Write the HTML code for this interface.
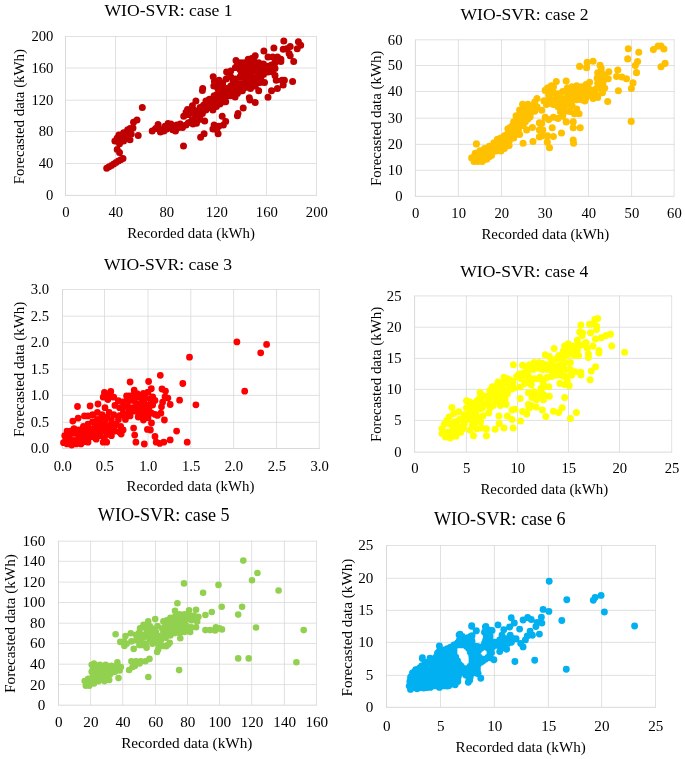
<!DOCTYPE html><html><head><meta charset="utf-8"><style>html,body{margin:0;padding:0;background:#fff;}svg{display:block;will-change:transform;}text{font-family:"Liberation Serif",serif;fill:#000;}</style></head><body>
<svg width="685" height="759" viewBox="0 0 685 759">
<path d="M115.5 36.0V195.4M166.5 36.0V195.4M216.5 36.0V195.4M266.5 36.0V195.4M316.5 36.0V195.4M66.0 36.5H317.0M66.0 68H317.0M66.0 100.2H317.0M66.0 131.5H317.0M66.0 163.5H317.0" stroke="#D9D9D9" stroke-width="0.8" fill="none"/>
<path d="M65.5 36.0V195.4M65.0 195.4H317.0" stroke="#D9D9D9" stroke-width="1" fill="none"/>
<text x="65.80" y="217" text-anchor="middle" font-size="14.67">0</text>
<text x="115.80" y="217" text-anchor="middle" font-size="14.67">40</text>
<text x="166.80" y="217" text-anchor="middle" font-size="14.67">80</text>
<text x="216.80" y="217" text-anchor="middle" font-size="14.67">120</text>
<text x="266.80" y="217" text-anchor="middle" font-size="14.67">160</text>
<text x="316.80" y="217" text-anchor="middle" font-size="14.67">200</text>
<text x="53.40" y="200.24" text-anchor="end" font-size="14.67">0</text>
<text x="53.40" y="168.34" text-anchor="end" font-size="14.67">40</text>
<text x="53.40" y="136.34" text-anchor="end" font-size="14.67">80</text>
<text x="53.40" y="105.04" text-anchor="end" font-size="14.67">120</text>
<text x="53.40" y="72.84" text-anchor="end" font-size="14.67">160</text>
<text x="53.40" y="41.34" text-anchor="end" font-size="14.67">200</text>
<text x="168.5" y="16.1" text-anchor="middle" font-size="17.60">WIO-SVR: case 1</text>
<text x="191.1" y="237.8" text-anchor="middle" font-size="14.85">Recorded data (kWh)</text>
<text transform="translate(24.1,116.7) rotate(-90)" text-anchor="middle" font-size="14.85">Forecasted data (kWh)</text>
<path d="M458.4 39.3V196.3M501.5 39.3V196.3M544.9 39.3V196.3M588.5 39.3V196.3M631.6 39.3V196.3M674.1 39.3V196.3M415.9 39.8H674.6M415.9 65.5H674.6M415.9 91.5H674.6M415.9 118.2H674.6M415.9 144.4H674.6M415.9 170.3H674.6" stroke="#D9D9D9" stroke-width="0.8" fill="none"/>
<path d="M415.4 39.3V196.3M414.9 196.3H674.6" stroke="#D9D9D9" stroke-width="1" fill="none"/>
<text x="415.70" y="218" text-anchor="middle" font-size="14.67">0</text>
<text x="458.70" y="218" text-anchor="middle" font-size="14.67">10</text>
<text x="501.80" y="218" text-anchor="middle" font-size="14.67">20</text>
<text x="545.20" y="218" text-anchor="middle" font-size="14.67">30</text>
<text x="588.80" y="218" text-anchor="middle" font-size="14.67">40</text>
<text x="631.90" y="218" text-anchor="middle" font-size="14.67">50</text>
<text x="674.40" y="218" text-anchor="middle" font-size="14.67">60</text>
<text x="402.50" y="201.14" text-anchor="end" font-size="14.67">0</text>
<text x="402.50" y="175.14" text-anchor="end" font-size="14.67">10</text>
<text x="402.50" y="149.24" text-anchor="end" font-size="14.67">20</text>
<text x="402.50" y="123.04" text-anchor="end" font-size="14.67">30</text>
<text x="402.50" y="96.34" text-anchor="end" font-size="14.67">40</text>
<text x="402.50" y="70.34" text-anchor="end" font-size="14.67">50</text>
<text x="402.50" y="44.64" text-anchor="end" font-size="14.67">60</text>
<text x="524.5" y="19.6" text-anchor="middle" font-size="17.60">WIO-SVR: case 2</text>
<text x="545.3" y="238.7" text-anchor="middle" font-size="14.85">Recorded data (kWh)</text>
<text transform="translate(381.2,118.3) rotate(-90)" text-anchor="middle" font-size="14.85">Forecasted data (kWh)</text>
<path d="M104.5 289.0V448.5M148 289.0V448.5M190.8 289.0V448.5M233.6 289.0V448.5M276.6 289.0V448.5M319.3 289.0V448.5M63.0 289.5H319.8M63.0 316.2H319.8M63.0 342.6H319.8M63.0 369.1H319.8M63.0 395.4H319.8M63.0 422.4H319.8" stroke="#D9D9D9" stroke-width="0.8" fill="none"/>
<path d="M62.5 289.0V448.5M62.0 448.5H319.8" stroke="#D9D9D9" stroke-width="1" fill="none"/>
<text x="62.80" y="470.7" text-anchor="middle" font-size="14.67">0.0</text>
<text x="104.80" y="470.7" text-anchor="middle" font-size="14.67">0.5</text>
<text x="148.30" y="470.7" text-anchor="middle" font-size="14.67">1.0</text>
<text x="191.10" y="470.7" text-anchor="middle" font-size="14.67">1.5</text>
<text x="233.90" y="470.7" text-anchor="middle" font-size="14.67">2.0</text>
<text x="276.90" y="470.7" text-anchor="middle" font-size="14.67">2.5</text>
<text x="319.60" y="470.7" text-anchor="middle" font-size="14.67">3.0</text>
<text x="49.10" y="453.34" text-anchor="end" font-size="14.67">0.0</text>
<text x="49.10" y="427.24" text-anchor="end" font-size="14.67">0.5</text>
<text x="49.10" y="400.24" text-anchor="end" font-size="14.67">1.0</text>
<text x="49.10" y="373.94" text-anchor="end" font-size="14.67">1.5</text>
<text x="49.10" y="347.44" text-anchor="end" font-size="14.67">2.0</text>
<text x="49.10" y="321.04" text-anchor="end" font-size="14.67">2.5</text>
<text x="49.10" y="294.34" text-anchor="end" font-size="14.67">3.0</text>
<text x="168" y="269.5" text-anchor="middle" font-size="17.60">WIO-SVR: case 3</text>
<text x="190.5" y="490.7" text-anchor="middle" font-size="14.85">Recorded data (kWh)</text>
<text transform="translate(24.2,369.5) rotate(-90)" text-anchor="middle" font-size="14.85">Forecasted data (kWh)</text>
<path d="M466.4 295.4V452.1M517.5 295.4V452.1M568.5 295.4V452.1M619.5 295.4V452.1M671.7 295.4V452.1M415.1 295.9H672.2M415.1 327.2H672.2M415.1 358.4H672.2M415.1 389.4H672.2M415.1 420.4H672.2" stroke="#D9D9D9" stroke-width="0.8" fill="none"/>
<path d="M414.6 295.4V452.1M414.1 452.1H672.2" stroke="#D9D9D9" stroke-width="1" fill="none"/>
<text x="414.90" y="473.2" text-anchor="middle" font-size="14.67">0</text>
<text x="466.70" y="473.2" text-anchor="middle" font-size="14.67">5</text>
<text x="517.80" y="473.2" text-anchor="middle" font-size="14.67">10</text>
<text x="568.80" y="473.2" text-anchor="middle" font-size="14.67">15</text>
<text x="619.80" y="473.2" text-anchor="middle" font-size="14.67">20</text>
<text x="672.00" y="473.2" text-anchor="middle" font-size="14.67">25</text>
<text x="401.50" y="456.94" text-anchor="end" font-size="14.67">0</text>
<text x="401.50" y="425.24" text-anchor="end" font-size="14.67">5</text>
<text x="401.50" y="394.24" text-anchor="end" font-size="14.67">10</text>
<text x="401.50" y="363.24" text-anchor="end" font-size="14.67">15</text>
<text x="401.50" y="332.04" text-anchor="end" font-size="14.67">20</text>
<text x="401.50" y="300.74" text-anchor="end" font-size="14.67">25</text>
<text x="524.2" y="276.6" text-anchor="middle" font-size="17.60">WIO-SVR: case 4</text>
<text x="544.3" y="493.5" text-anchor="middle" font-size="14.85">Recorded data (kWh)</text>
<text transform="translate(381,374.5) rotate(-90)" text-anchor="middle" font-size="14.85">Forecasted data (kWh)</text>
<path d="M90.6 540.7V705.2M122.7 540.7V705.2M155.5 540.7V705.2M187.5 540.7V705.2M219.5 540.7V705.2M251.7 540.7V705.2M284.4 540.7V705.2M316.5 540.7V705.2M59.0 541.2H317.0M59.0 561.3H317.0M59.0 582.1H317.0M59.0 602.5H317.0M59.0 623.2H317.0M59.0 643.5H317.0M59.0 664.2H317.0M59.0 684.6H317.0" stroke="#D9D9D9" stroke-width="0.8" fill="none"/>
<path d="M58.5 540.7V705.2M58.0 705.2H317.0" stroke="#D9D9D9" stroke-width="1" fill="none"/>
<text x="58.80" y="727.4" text-anchor="middle" font-size="15.11">0</text>
<text x="90.90" y="727.4" text-anchor="middle" font-size="15.11">20</text>
<text x="123.00" y="727.4" text-anchor="middle" font-size="15.11">40</text>
<text x="155.80" y="727.4" text-anchor="middle" font-size="15.11">60</text>
<text x="187.80" y="727.4" text-anchor="middle" font-size="15.11">80</text>
<text x="219.80" y="727.4" text-anchor="middle" font-size="15.11">100</text>
<text x="252.00" y="727.4" text-anchor="middle" font-size="15.11">120</text>
<text x="284.70" y="727.4" text-anchor="middle" font-size="15.11">140</text>
<text x="316.80" y="727.4" text-anchor="middle" font-size="15.11">160</text>
<text x="45.20" y="710.19" text-anchor="end" font-size="15.11">0</text>
<text x="45.20" y="689.59" text-anchor="end" font-size="15.11">20</text>
<text x="45.20" y="669.19" text-anchor="end" font-size="15.11">40</text>
<text x="45.20" y="648.49" text-anchor="end" font-size="15.11">60</text>
<text x="45.20" y="628.19" text-anchor="end" font-size="15.11">80</text>
<text x="45.20" y="607.49" text-anchor="end" font-size="15.11">100</text>
<text x="45.20" y="587.09" text-anchor="end" font-size="15.11">120</text>
<text x="45.20" y="566.29" text-anchor="end" font-size="15.11">140</text>
<text x="45.20" y="546.19" text-anchor="end" font-size="15.11">160</text>
<text x="163.7" y="520.8" text-anchor="middle" font-size="18.13">WIO-SVR: case 5</text>
<text x="186.8" y="747.9" text-anchor="middle" font-size="15.25">Recorded data (kWh)</text>
<text transform="translate(15.2,623.5) rotate(-90)" text-anchor="middle" font-size="15.25">Forecasted data (kWh)</text>
<path d="M440.5 545.0V707.3M494.4 545.0V707.3M548.4 545.0V707.3M601.6 545.0V707.3M655.5 545.0V707.3M387.0 545.5H656.0M387.0 578.3H656.0M387.0 610.4H656.0M387.0 642.4H656.0M387.0 675.4H656.0" stroke="#D9D9D9" stroke-width="0.8" fill="none"/>
<path d="M386.5 545.0V707.3M386.0 707.3H656.0" stroke="#D9D9D9" stroke-width="1" fill="none"/>
<text x="386.80" y="730.5" text-anchor="middle" font-size="15.11">0</text>
<text x="440.80" y="730.5" text-anchor="middle" font-size="15.11">5</text>
<text x="494.70" y="730.5" text-anchor="middle" font-size="15.11">10</text>
<text x="548.70" y="730.5" text-anchor="middle" font-size="15.11">15</text>
<text x="601.90" y="730.5" text-anchor="middle" font-size="15.11">20</text>
<text x="655.80" y="730.5" text-anchor="middle" font-size="15.11">25</text>
<text x="373.40" y="712.29" text-anchor="end" font-size="15.11">0</text>
<text x="373.40" y="680.39" text-anchor="end" font-size="15.11">5</text>
<text x="373.40" y="647.39" text-anchor="end" font-size="15.11">10</text>
<text x="373.40" y="615.39" text-anchor="end" font-size="15.11">15</text>
<text x="373.40" y="583.29" text-anchor="end" font-size="15.11">20</text>
<text x="373.40" y="550.49" text-anchor="end" font-size="15.11">25</text>
<text x="499.8" y="525.4" text-anchor="middle" font-size="18.13">WIO-SVR: case 6</text>
<text x="520.7" y="751.5" text-anchor="middle" font-size="15.15">Recorded data (kWh)</text>
<text transform="translate(351.8,627.6) rotate(-90)" text-anchor="middle" font-size="15.15">Forecasted data (kWh)</text>
<path fill="#C00000" d="M138.80 107.4a3.5 3.5 0 1 0 7.00 0a3.5 3.5 0 1 0 -7.00 0zM133.50 119.9a3.5 3.5 0 1 0 7.00 0a3.5 3.5 0 1 0 -7.00 0zM130.00 122.2a3.5 3.5 0 1 0 7.00 0a3.5 3.5 0 1 0 -7.00 0zM126.50 128.6a3.5 3.5 0 1 0 7.00 0a3.5 3.5 0 1 0 -7.00 0zM129.50 128.0a3.5 3.5 0 1 0 7.00 0a3.5 3.5 0 1 0 -7.00 0zM124.20 129.8a3.5 3.5 0 1 0 7.00 0a3.5 3.5 0 1 0 -7.00 0zM120.10 132.7a3.5 3.5 0 1 0 7.00 0a3.5 3.5 0 1 0 -7.00 0zM115.40 135.0a3.5 3.5 0 1 0 7.00 0a3.5 3.5 0 1 0 -7.00 0zM116.60 138.0a3.5 3.5 0 1 0 7.00 0a3.5 3.5 0 1 0 -7.00 0zM111.40 140.9a3.5 3.5 0 1 0 7.00 0a3.5 3.5 0 1 0 -7.00 0zM120.70 136.2a3.5 3.5 0 1 0 7.00 0a3.5 3.5 0 1 0 -7.00 0zM125.40 135.0a3.5 3.5 0 1 0 7.00 0a3.5 3.5 0 1 0 -7.00 0zM120.10 140.9a3.5 3.5 0 1 0 7.00 0a3.5 3.5 0 1 0 -7.00 0zM126.50 139.7a3.5 3.5 0 1 0 7.00 0a3.5 3.5 0 1 0 -7.00 0zM116.00 143.8a3.5 3.5 0 1 0 7.00 0a3.5 3.5 0 1 0 -7.00 0zM122.40 138.5a3.5 3.5 0 1 0 7.00 0a3.5 3.5 0 1 0 -7.00 0zM113.70 138.0a3.5 3.5 0 1 0 7.00 0a3.5 3.5 0 1 0 -7.00 0zM114.30 140.9a3.5 3.5 0 1 0 7.00 0a3.5 3.5 0 1 0 -7.00 0zM118.40 135.0a3.5 3.5 0 1 0 7.00 0a3.5 3.5 0 1 0 -7.00 0zM123.00 133.3a3.5 3.5 0 1 0 7.00 0a3.5 3.5 0 1 0 -7.00 0zM127.70 133.9a3.5 3.5 0 1 0 7.00 0a3.5 3.5 0 1 0 -7.00 0zM134.70 135.6a3.5 3.5 0 1 0 7.00 0a3.5 3.5 0 1 0 -7.00 0zM113.70 149.6a3.5 3.5 0 1 0 7.00 0a3.5 3.5 0 1 0 -7.00 0zM116.00 152.6a3.5 3.5 0 1 0 7.00 0a3.5 3.5 0 1 0 -7.00 0zM118.90 138.5a3.5 3.5 0 1 0 7.00 0a3.5 3.5 0 1 0 -7.00 0zM103.20 168.3a3.5 3.5 0 1 0 7.00 0a3.5 3.5 0 1 0 -7.00 0zM105.50 166.8a3.5 3.5 0 1 0 7.00 0a3.5 3.5 0 1 0 -7.00 0zM107.90 165.4a3.5 3.5 0 1 0 7.00 0a3.5 3.5 0 1 0 -7.00 0zM110.20 164.0a3.5 3.5 0 1 0 7.00 0a3.5 3.5 0 1 0 -7.00 0zM112.50 162.5a3.5 3.5 0 1 0 7.00 0a3.5 3.5 0 1 0 -7.00 0zM114.90 161.1a3.5 3.5 0 1 0 7.00 0a3.5 3.5 0 1 0 -7.00 0zM117.20 159.8a3.5 3.5 0 1 0 7.00 0a3.5 3.5 0 1 0 -7.00 0zM119.50 158.4a3.5 3.5 0 1 0 7.00 0a3.5 3.5 0 1 0 -7.00 0zM148.70 130.9a3.5 3.5 0 1 0 7.00 0a3.5 3.5 0 1 0 -7.00 0zM152.20 128.6a3.5 3.5 0 1 0 7.00 0a3.5 3.5 0 1 0 -7.00 0zM154.60 124.5a3.5 3.5 0 1 0 7.00 0a3.5 3.5 0 1 0 -7.00 0zM156.30 129.2a3.5 3.5 0 1 0 7.00 0a3.5 3.5 0 1 0 -7.00 0zM156.90 132.1a3.5 3.5 0 1 0 7.00 0a3.5 3.5 0 1 0 -7.00 0zM160.40 130.9a3.5 3.5 0 1 0 7.00 0a3.5 3.5 0 1 0 -7.00 0zM161.60 126.3a3.5 3.5 0 1 0 7.00 0a3.5 3.5 0 1 0 -7.00 0zM164.50 123.4a3.5 3.5 0 1 0 7.00 0a3.5 3.5 0 1 0 -7.00 0zM167.40 123.9a3.5 3.5 0 1 0 7.00 0a3.5 3.5 0 1 0 -7.00 0zM169.20 129.8a3.5 3.5 0 1 0 7.00 0a3.5 3.5 0 1 0 -7.00 0zM166.20 128.0a3.5 3.5 0 1 0 7.00 0a3.5 3.5 0 1 0 -7.00 0zM162.70 129.2a3.5 3.5 0 1 0 7.00 0a3.5 3.5 0 1 0 -7.00 0zM198.90 90.6a3.5 3.5 0 1 0 7.00 0a3.5 3.5 0 1 0 -7.00 0zM192.40 101.1a3.5 3.5 0 1 0 7.00 0a3.5 3.5 0 1 0 -7.00 0zM188.90 105.8a3.5 3.5 0 1 0 7.00 0a3.5 3.5 0 1 0 -7.00 0zM182.50 112.2a3.5 3.5 0 1 0 7.00 0a3.5 3.5 0 1 0 -7.00 0zM180.20 116.3a3.5 3.5 0 1 0 7.00 0a3.5 3.5 0 1 0 -7.00 0zM184.90 114.5a3.5 3.5 0 1 0 7.00 0a3.5 3.5 0 1 0 -7.00 0zM189.50 113.4a3.5 3.5 0 1 0 7.00 0a3.5 3.5 0 1 0 -7.00 0zM194.20 111.0a3.5 3.5 0 1 0 7.00 0a3.5 3.5 0 1 0 -7.00 0zM196.50 107.5a3.5 3.5 0 1 0 7.00 0a3.5 3.5 0 1 0 -7.00 0zM200.00 105.2a3.5 3.5 0 1 0 7.00 0a3.5 3.5 0 1 0 -7.00 0zM202.40 101.1a3.5 3.5 0 1 0 7.00 0a3.5 3.5 0 1 0 -7.00 0zM205.90 99.3a3.5 3.5 0 1 0 7.00 0a3.5 3.5 0 1 0 -7.00 0zM210.60 95.8a3.5 3.5 0 1 0 7.00 0a3.5 3.5 0 1 0 -7.00 0zM212.90 94.7a3.5 3.5 0 1 0 7.00 0a3.5 3.5 0 1 0 -7.00 0zM216.40 92.3a3.5 3.5 0 1 0 7.00 0a3.5 3.5 0 1 0 -7.00 0zM219.90 91.2a3.5 3.5 0 1 0 7.00 0a3.5 3.5 0 1 0 -7.00 0zM224.60 91.2a3.5 3.5 0 1 0 7.00 0a3.5 3.5 0 1 0 -7.00 0zM229.20 92.3a3.5 3.5 0 1 0 7.00 0a3.5 3.5 0 1 0 -7.00 0zM233.90 93.5a3.5 3.5 0 1 0 7.00 0a3.5 3.5 0 1 0 -7.00 0zM236.20 91.2a3.5 3.5 0 1 0 7.00 0a3.5 3.5 0 1 0 -7.00 0zM231.60 97.0a3.5 3.5 0 1 0 7.00 0a3.5 3.5 0 1 0 -7.00 0zM226.90 95.8a3.5 3.5 0 1 0 7.00 0a3.5 3.5 0 1 0 -7.00 0zM222.20 97.0a3.5 3.5 0 1 0 7.00 0a3.5 3.5 0 1 0 -7.00 0zM219.90 101.7a3.5 3.5 0 1 0 7.00 0a3.5 3.5 0 1 0 -7.00 0zM216.40 104.0a3.5 3.5 0 1 0 7.00 0a3.5 3.5 0 1 0 -7.00 0zM212.90 106.4a3.5 3.5 0 1 0 7.00 0a3.5 3.5 0 1 0 -7.00 0zM209.40 109.9a3.5 3.5 0 1 0 7.00 0a3.5 3.5 0 1 0 -7.00 0zM205.90 107.5a3.5 3.5 0 1 0 7.00 0a3.5 3.5 0 1 0 -7.00 0zM202.40 109.9a3.5 3.5 0 1 0 7.00 0a3.5 3.5 0 1 0 -7.00 0zM198.90 113.4a3.5 3.5 0 1 0 7.00 0a3.5 3.5 0 1 0 -7.00 0zM195.40 115.7a3.5 3.5 0 1 0 7.00 0a3.5 3.5 0 1 0 -7.00 0zM191.90 118.0a3.5 3.5 0 1 0 7.00 0a3.5 3.5 0 1 0 -7.00 0zM188.40 120.4a3.5 3.5 0 1 0 7.00 0a3.5 3.5 0 1 0 -7.00 0zM184.90 122.7a3.5 3.5 0 1 0 7.00 0a3.5 3.5 0 1 0 -7.00 0zM189.50 123.9a3.5 3.5 0 1 0 7.00 0a3.5 3.5 0 1 0 -7.00 0zM193.00 123.3a3.5 3.5 0 1 0 7.00 0a3.5 3.5 0 1 0 -7.00 0zM196.50 119.2a3.5 3.5 0 1 0 7.00 0a3.5 3.5 0 1 0 -7.00 0zM201.20 120.9a3.5 3.5 0 1 0 7.00 0a3.5 3.5 0 1 0 -7.00 0zM182.50 125.0a3.5 3.5 0 1 0 7.00 0a3.5 3.5 0 1 0 -7.00 0zM179.00 127.4a3.5 3.5 0 1 0 7.00 0a3.5 3.5 0 1 0 -7.00 0zM175.50 127.4a3.5 3.5 0 1 0 7.00 0a3.5 3.5 0 1 0 -7.00 0zM172.00 130.9a3.5 3.5 0 1 0 7.00 0a3.5 3.5 0 1 0 -7.00 0zM168.50 127.4a3.5 3.5 0 1 0 7.00 0a3.5 3.5 0 1 0 -7.00 0zM173.20 125.0a3.5 3.5 0 1 0 7.00 0a3.5 3.5 0 1 0 -7.00 0zM176.70 123.9a3.5 3.5 0 1 0 7.00 0a3.5 3.5 0 1 0 -7.00 0zM212.90 101.7a3.5 3.5 0 1 0 7.00 0a3.5 3.5 0 1 0 -7.00 0zM217.60 97.0a3.5 3.5 0 1 0 7.00 0a3.5 3.5 0 1 0 -7.00 0zM222.20 101.7a3.5 3.5 0 1 0 7.00 0a3.5 3.5 0 1 0 -7.00 0zM218.70 116.3a3.5 3.5 0 1 0 7.00 0a3.5 3.5 0 1 0 -7.00 0zM222.20 121.5a3.5 3.5 0 1 0 7.00 0a3.5 3.5 0 1 0 -7.00 0zM219.90 125.0a3.5 3.5 0 1 0 7.00 0a3.5 3.5 0 1 0 -7.00 0zM215.20 126.2a3.5 3.5 0 1 0 7.00 0a3.5 3.5 0 1 0 -7.00 0zM210.60 125.0a3.5 3.5 0 1 0 7.00 0a3.5 3.5 0 1 0 -7.00 0zM209.40 129.1a3.5 3.5 0 1 0 7.00 0a3.5 3.5 0 1 0 -7.00 0zM214.60 133.8a3.5 3.5 0 1 0 7.00 0a3.5 3.5 0 1 0 -7.00 0zM200.60 133.8a3.5 3.5 0 1 0 7.00 0a3.5 3.5 0 1 0 -7.00 0zM197.10 137.3a3.5 3.5 0 1 0 7.00 0a3.5 3.5 0 1 0 -7.00 0zM180.00 146.1a3.5 3.5 0 1 0 7.00 0a3.5 3.5 0 1 0 -7.00 0zM234.50 113.4a3.5 3.5 0 1 0 7.00 0a3.5 3.5 0 1 0 -7.00 0zM233.90 115.7a3.5 3.5 0 1 0 7.00 0a3.5 3.5 0 1 0 -7.00 0zM239.70 108.1a3.5 3.5 0 1 0 7.00 0a3.5 3.5 0 1 0 -7.00 0zM208.20 104.0a3.5 3.5 0 1 0 7.00 0a3.5 3.5 0 1 0 -7.00 0zM214.10 99.3a3.5 3.5 0 1 0 7.00 0a3.5 3.5 0 1 0 -7.00 0zM205.90 104.0a3.5 3.5 0 1 0 7.00 0a3.5 3.5 0 1 0 -7.00 0zM280.30 41.1a3.5 3.5 0 1 0 7.00 0a3.5 3.5 0 1 0 -7.00 0zM294.90 41.7a3.5 3.5 0 1 0 7.00 0a3.5 3.5 0 1 0 -7.00 0zM297.20 45.2a3.5 3.5 0 1 0 7.00 0a3.5 3.5 0 1 0 -7.00 0zM293.70 48.7a3.5 3.5 0 1 0 7.00 0a3.5 3.5 0 1 0 -7.00 0zM286.70 46.4a3.5 3.5 0 1 0 7.00 0a3.5 3.5 0 1 0 -7.00 0zM283.20 48.7a3.5 3.5 0 1 0 7.00 0a3.5 3.5 0 1 0 -7.00 0zM279.70 49.3a3.5 3.5 0 1 0 7.00 0a3.5 3.5 0 1 0 -7.00 0zM285.60 53.4a3.5 3.5 0 1 0 7.00 0a3.5 3.5 0 1 0 -7.00 0zM286.70 55.7a3.5 3.5 0 1 0 7.00 0a3.5 3.5 0 1 0 -7.00 0zM290.20 61.5a3.5 3.5 0 1 0 7.00 0a3.5 3.5 0 1 0 -7.00 0zM270.40 48.1a3.5 3.5 0 1 0 7.00 0a3.5 3.5 0 1 0 -7.00 0zM260.40 51.0a3.5 3.5 0 1 0 7.00 0a3.5 3.5 0 1 0 -7.00 0zM251.70 55.7a3.5 3.5 0 1 0 7.00 0a3.5 3.5 0 1 0 -7.00 0zM248.20 58.6a3.5 3.5 0 1 0 7.00 0a3.5 3.5 0 1 0 -7.00 0zM264.50 56.9a3.5 3.5 0 1 0 7.00 0a3.5 3.5 0 1 0 -7.00 0zM269.20 56.9a3.5 3.5 0 1 0 7.00 0a3.5 3.5 0 1 0 -7.00 0zM273.90 56.9a3.5 3.5 0 1 0 7.00 0a3.5 3.5 0 1 0 -7.00 0zM277.40 59.2a3.5 3.5 0 1 0 7.00 0a3.5 3.5 0 1 0 -7.00 0zM277.40 61.5a3.5 3.5 0 1 0 7.00 0a3.5 3.5 0 1 0 -7.00 0zM271.50 62.7a3.5 3.5 0 1 0 7.00 0a3.5 3.5 0 1 0 -7.00 0zM268.00 65.0a3.5 3.5 0 1 0 7.00 0a3.5 3.5 0 1 0 -7.00 0zM264.50 66.2a3.5 3.5 0 1 0 7.00 0a3.5 3.5 0 1 0 -7.00 0zM259.90 63.9a3.5 3.5 0 1 0 7.00 0a3.5 3.5 0 1 0 -7.00 0zM255.20 62.7a3.5 3.5 0 1 0 7.00 0a3.5 3.5 0 1 0 -7.00 0zM250.50 61.5a3.5 3.5 0 1 0 7.00 0a3.5 3.5 0 1 0 -7.00 0zM245.80 62.7a3.5 3.5 0 1 0 7.00 0a3.5 3.5 0 1 0 -7.00 0zM241.20 62.7a3.5 3.5 0 1 0 7.00 0a3.5 3.5 0 1 0 -7.00 0zM237.70 62.7a3.5 3.5 0 1 0 7.00 0a3.5 3.5 0 1 0 -7.00 0zM238.80 67.4a3.5 3.5 0 1 0 7.00 0a3.5 3.5 0 1 0 -7.00 0zM243.50 67.4a3.5 3.5 0 1 0 7.00 0a3.5 3.5 0 1 0 -7.00 0zM248.20 67.4a3.5 3.5 0 1 0 7.00 0a3.5 3.5 0 1 0 -7.00 0zM252.90 66.2a3.5 3.5 0 1 0 7.00 0a3.5 3.5 0 1 0 -7.00 0zM257.50 68.5a3.5 3.5 0 1 0 7.00 0a3.5 3.5 0 1 0 -7.00 0zM262.20 69.7a3.5 3.5 0 1 0 7.00 0a3.5 3.5 0 1 0 -7.00 0zM266.90 68.5a3.5 3.5 0 1 0 7.00 0a3.5 3.5 0 1 0 -7.00 0zM271.50 68.5a3.5 3.5 0 1 0 7.00 0a3.5 3.5 0 1 0 -7.00 0zM271.50 75.5a3.5 3.5 0 1 0 7.00 0a3.5 3.5 0 1 0 -7.00 0zM272.70 80.2a3.5 3.5 0 1 0 7.00 0a3.5 3.5 0 1 0 -7.00 0zM278.50 80.2a3.5 3.5 0 1 0 7.00 0a3.5 3.5 0 1 0 -7.00 0zM280.90 80.2a3.5 3.5 0 1 0 7.00 0a3.5 3.5 0 1 0 -7.00 0zM279.70 84.9a3.5 3.5 0 1 0 7.00 0a3.5 3.5 0 1 0 -7.00 0zM273.90 88.4a3.5 3.5 0 1 0 7.00 0a3.5 3.5 0 1 0 -7.00 0zM268.00 90.7a3.5 3.5 0 1 0 7.00 0a3.5 3.5 0 1 0 -7.00 0zM264.50 97.2a3.5 3.5 0 1 0 7.00 0a3.5 3.5 0 1 0 -7.00 0zM289.10 81.4a3.5 3.5 0 1 0 7.00 0a3.5 3.5 0 1 0 -7.00 0zM261.00 82.6a3.5 3.5 0 1 0 7.00 0a3.5 3.5 0 1 0 -7.00 0zM256.40 82.6a3.5 3.5 0 1 0 7.00 0a3.5 3.5 0 1 0 -7.00 0zM255.20 90.7a3.5 3.5 0 1 0 7.00 0a3.5 3.5 0 1 0 -7.00 0zM251.70 86.1a3.5 3.5 0 1 0 7.00 0a3.5 3.5 0 1 0 -7.00 0zM248.20 86.1a3.5 3.5 0 1 0 7.00 0a3.5 3.5 0 1 0 -7.00 0zM247.00 88.4a3.5 3.5 0 1 0 7.00 0a3.5 3.5 0 1 0 -7.00 0zM243.50 87.2a3.5 3.5 0 1 0 7.00 0a3.5 3.5 0 1 0 -7.00 0zM238.80 84.9a3.5 3.5 0 1 0 7.00 0a3.5 3.5 0 1 0 -7.00 0zM236.50 88.4a3.5 3.5 0 1 0 7.00 0a3.5 3.5 0 1 0 -7.00 0zM245.80 97.7a3.5 3.5 0 1 0 7.00 0a3.5 3.5 0 1 0 -7.00 0zM251.70 102.4a3.5 3.5 0 1 0 7.00 0a3.5 3.5 0 1 0 -7.00 0zM242.30 76.7a3.5 3.5 0 1 0 7.00 0a3.5 3.5 0 1 0 -7.00 0zM248.20 76.7a3.5 3.5 0 1 0 7.00 0a3.5 3.5 0 1 0 -7.00 0zM254.00 76.7a3.5 3.5 0 1 0 7.00 0a3.5 3.5 0 1 0 -7.00 0zM257.50 76.7a3.5 3.5 0 1 0 7.00 0a3.5 3.5 0 1 0 -7.00 0zM251.70 81.4a3.5 3.5 0 1 0 7.00 0a3.5 3.5 0 1 0 -7.00 0zM243.50 81.4a3.5 3.5 0 1 0 7.00 0a3.5 3.5 0 1 0 -7.00 0zM238.80 76.7a3.5 3.5 0 1 0 7.00 0a3.5 3.5 0 1 0 -7.00 0zM259.90 74.4a3.5 3.5 0 1 0 7.00 0a3.5 3.5 0 1 0 -7.00 0zM254.00 72.0a3.5 3.5 0 1 0 7.00 0a3.5 3.5 0 1 0 -7.00 0zM248.20 72.0a3.5 3.5 0 1 0 7.00 0a3.5 3.5 0 1 0 -7.00 0zM242.30 72.0a3.5 3.5 0 1 0 7.00 0a3.5 3.5 0 1 0 -7.00 0zM237.70 72.0a3.5 3.5 0 1 0 7.00 0a3.5 3.5 0 1 0 -7.00 0zM264.50 72.0a3.5 3.5 0 1 0 7.00 0a3.5 3.5 0 1 0 -7.00 0zM269.20 72.0a3.5 3.5 0 1 0 7.00 0a3.5 3.5 0 1 0 -7.00 0zM246.40 100.0a3.5 3.5 0 1 0 7.00 0a3.5 3.5 0 1 0 -7.00 0zM232.50 60.4a3.5 3.5 0 1 0 7.00 0a3.5 3.5 0 1 0 -7.00 0zM231.90 67.4a3.5 3.5 0 1 0 7.00 0a3.5 3.5 0 1 0 -7.00 0zM223.10 72.0a3.5 3.5 0 1 0 7.00 0a3.5 3.5 0 1 0 -7.00 0zM227.20 70.9a3.5 3.5 0 1 0 7.00 0a3.5 3.5 0 1 0 -7.00 0zM244.70 59.2a3.5 3.5 0 1 0 7.00 0a3.5 3.5 0 1 0 -7.00 0zM245.90 65.0a3.5 3.5 0 1 0 7.00 0a3.5 3.5 0 1 0 -7.00 0zM236.60 76.7a3.5 3.5 0 1 0 7.00 0a3.5 3.5 0 1 0 -7.00 0zM231.90 79.1a3.5 3.5 0 1 0 7.00 0a3.5 3.5 0 1 0 -7.00 0zM227.20 76.7a3.5 3.5 0 1 0 7.00 0a3.5 3.5 0 1 0 -7.00 0zM222.60 79.1a3.5 3.5 0 1 0 7.00 0a3.5 3.5 0 1 0 -7.00 0zM219.10 83.7a3.5 3.5 0 1 0 7.00 0a3.5 3.5 0 1 0 -7.00 0zM215.60 80.2a3.5 3.5 0 1 0 7.00 0a3.5 3.5 0 1 0 -7.00 0zM209.70 76.7a3.5 3.5 0 1 0 7.00 0a3.5 3.5 0 1 0 -7.00 0zM210.30 86.1a3.5 3.5 0 1 0 7.00 0a3.5 3.5 0 1 0 -7.00 0zM214.40 88.4a3.5 3.5 0 1 0 7.00 0a3.5 3.5 0 1 0 -7.00 0zM222.60 88.4a3.5 3.5 0 1 0 7.00 0a3.5 3.5 0 1 0 -7.00 0zM227.20 86.1a3.5 3.5 0 1 0 7.00 0a3.5 3.5 0 1 0 -7.00 0zM231.90 84.9a3.5 3.5 0 1 0 7.00 0a3.5 3.5 0 1 0 -7.00 0zM236.60 83.7a3.5 3.5 0 1 0 7.00 0a3.5 3.5 0 1 0 -7.00 0zM241.20 82.6a3.5 3.5 0 1 0 7.00 0a3.5 3.5 0 1 0 -7.00 0zM244.70 79.1a3.5 3.5 0 1 0 7.00 0a3.5 3.5 0 1 0 -7.00 0zM238.90 90.7a3.5 3.5 0 1 0 7.00 0a3.5 3.5 0 1 0 -7.00 0zM215.60 95.4a3.5 3.5 0 1 0 7.00 0a3.5 3.5 0 1 0 -7.00 0zM184.00 109.4a3.5 3.5 0 1 0 7.00 0a3.5 3.5 0 1 0 -7.00 0zM199.20 88.4a3.5 3.5 0 1 0 7.00 0a3.5 3.5 0 1 0 -7.00 0zM236.60 69.7a3.5 3.5 0 1 0 7.00 0a3.5 3.5 0 1 0 -7.00 0zM229.60 81.4a3.5 3.5 0 1 0 7.00 0a3.5 3.5 0 1 0 -7.00 0zM245.90 73.2a3.5 3.5 0 1 0 7.00 0a3.5 3.5 0 1 0 -7.00 0zM210.90 81.4a3.5 3.5 0 1 0 7.00 0a3.5 3.5 0 1 0 -7.00 0zM234.00 64.5a3.5 3.5 0 1 0 7.00 0a3.5 3.5 0 1 0 -7.00 0zM247.70 82.2a3.5 3.5 0 1 0 7.00 0a3.5 3.5 0 1 0 -7.00 0zM214.50 84.5a3.5 3.5 0 1 0 7.00 0a3.5 3.5 0 1 0 -7.00 0zM218.50 87.5a3.5 3.5 0 1 0 7.00 0a3.5 3.5 0 1 0 -7.00 0zM231.60 88.9a3.5 3.5 0 1 0 7.00 0a3.5 3.5 0 1 0 -7.00 0zM210.00 99.5a3.5 3.5 0 1 0 7.00 0a3.5 3.5 0 1 0 -7.00 0zM189.50 109.5a3.5 3.5 0 1 0 7.00 0a3.5 3.5 0 1 0 -7.00 0zM213.30 129.8a3.5 3.5 0 1 0 7.00 0a3.5 3.5 0 1 0 -7.00 0z"/>
<path fill="#FFC000" d="M472.85 143.9a3.55 3.55 0 1 0 7.10 0a3.55 3.55 0 1 0 -7.10 0zM468.15 157.9a3.55 3.55 0 1 0 7.10 0a3.55 3.55 0 1 0 -7.10 0zM470.45 161.4a3.55 3.55 0 1 0 7.10 0a3.55 3.55 0 1 0 -7.10 0zM473.95 161.4a3.55 3.55 0 1 0 7.10 0a3.55 3.55 0 1 0 -7.10 0zM478.65 161.4a3.55 3.55 0 1 0 7.10 0a3.55 3.55 0 1 0 -7.10 0zM483.35 159.1a3.55 3.55 0 1 0 7.10 0a3.55 3.55 0 1 0 -7.10 0zM487.95 155.5a3.55 3.55 0 1 0 7.10 0a3.55 3.55 0 1 0 -7.10 0zM471.65 153.2a3.55 3.55 0 1 0 7.10 0a3.55 3.55 0 1 0 -7.10 0zM476.35 150.9a3.55 3.55 0 1 0 7.10 0a3.55 3.55 0 1 0 -7.10 0zM480.95 148.5a3.55 3.55 0 1 0 7.10 0a3.55 3.55 0 1 0 -7.10 0zM485.65 146.2a3.55 3.55 0 1 0 7.10 0a3.55 3.55 0 1 0 -7.10 0zM490.35 142.7a3.55 3.55 0 1 0 7.10 0a3.55 3.55 0 1 0 -7.10 0zM493.85 139.2a3.55 3.55 0 1 0 7.10 0a3.55 3.55 0 1 0 -7.10 0zM497.35 138.0a3.55 3.55 0 1 0 7.10 0a3.55 3.55 0 1 0 -7.10 0zM500.85 135.7a3.55 3.55 0 1 0 7.10 0a3.55 3.55 0 1 0 -7.10 0zM504.35 133.4a3.55 3.55 0 1 0 7.10 0a3.55 3.55 0 1 0 -7.10 0zM507.85 131.0a3.55 3.55 0 1 0 7.10 0a3.55 3.55 0 1 0 -7.10 0zM511.35 128.7a3.55 3.55 0 1 0 7.10 0a3.55 3.55 0 1 0 -7.10 0zM513.65 125.2a3.55 3.55 0 1 0 7.10 0a3.55 3.55 0 1 0 -7.10 0zM516.05 121.7a3.55 3.55 0 1 0 7.10 0a3.55 3.55 0 1 0 -7.10 0zM517.15 117.0a3.55 3.55 0 1 0 7.10 0a3.55 3.55 0 1 0 -7.10 0zM512.55 115.8a3.55 3.55 0 1 0 7.10 0a3.55 3.55 0 1 0 -7.10 0zM510.15 121.7a3.55 3.55 0 1 0 7.10 0a3.55 3.55 0 1 0 -7.10 0zM506.65 127.5a3.55 3.55 0 1 0 7.10 0a3.55 3.55 0 1 0 -7.10 0zM504.35 128.7a3.55 3.55 0 1 0 7.10 0a3.55 3.55 0 1 0 -7.10 0zM512.55 133.4a3.55 3.55 0 1 0 7.10 0a3.55 3.55 0 1 0 -7.10 0zM516.05 134.5a3.55 3.55 0 1 0 7.10 0a3.55 3.55 0 1 0 -7.10 0zM510.15 138.0a3.55 3.55 0 1 0 7.10 0a3.55 3.55 0 1 0 -7.10 0zM505.55 141.5a3.55 3.55 0 1 0 7.10 0a3.55 3.55 0 1 0 -7.10 0zM505.55 145.6a3.55 3.55 0 1 0 7.10 0a3.55 3.55 0 1 0 -7.10 0zM500.85 148.5a3.55 3.55 0 1 0 7.10 0a3.55 3.55 0 1 0 -7.10 0zM497.35 150.9a3.55 3.55 0 1 0 7.10 0a3.55 3.55 0 1 0 -7.10 0zM492.65 150.9a3.55 3.55 0 1 0 7.10 0a3.55 3.55 0 1 0 -7.10 0zM489.15 148.5a3.55 3.55 0 1 0 7.10 0a3.55 3.55 0 1 0 -7.10 0zM484.45 152.0a3.55 3.55 0 1 0 7.10 0a3.55 3.55 0 1 0 -7.10 0zM479.85 154.4a3.55 3.55 0 1 0 7.10 0a3.55 3.55 0 1 0 -7.10 0zM475.15 156.7a3.55 3.55 0 1 0 7.10 0a3.55 3.55 0 1 0 -7.10 0zM470.45 156.7a3.55 3.55 0 1 0 7.10 0a3.55 3.55 0 1 0 -7.10 0zM485.65 156.7a3.55 3.55 0 1 0 7.10 0a3.55 3.55 0 1 0 -7.10 0zM479.85 157.9a3.55 3.55 0 1 0 7.10 0a3.55 3.55 0 1 0 -7.10 0zM476.35 159.1a3.55 3.55 0 1 0 7.10 0a3.55 3.55 0 1 0 -7.10 0zM491.45 145.0a3.55 3.55 0 1 0 7.10 0a3.55 3.55 0 1 0 -7.10 0zM496.15 143.9a3.55 3.55 0 1 0 7.10 0a3.55 3.55 0 1 0 -7.10 0zM500.85 142.7a3.55 3.55 0 1 0 7.10 0a3.55 3.55 0 1 0 -7.10 0zM503.15 139.2a3.55 3.55 0 1 0 7.10 0a3.55 3.55 0 1 0 -7.10 0zM507.85 135.7a3.55 3.55 0 1 0 7.10 0a3.55 3.55 0 1 0 -7.10 0zM514.85 129.9a3.55 3.55 0 1 0 7.10 0a3.55 3.55 0 1 0 -7.10 0zM517.15 125.2a3.55 3.55 0 1 0 7.10 0a3.55 3.55 0 1 0 -7.10 0zM519.55 120.5a3.55 3.55 0 1 0 7.10 0a3.55 3.55 0 1 0 -7.10 0zM519.55 114.7a3.55 3.55 0 1 0 7.10 0a3.55 3.55 0 1 0 -7.10 0zM516.05 110.0a3.55 3.55 0 1 0 7.10 0a3.55 3.55 0 1 0 -7.10 0zM521.85 112.3a3.55 3.55 0 1 0 7.10 0a3.55 3.55 0 1 0 -7.10 0zM526.55 117.0a3.55 3.55 0 1 0 7.10 0a3.55 3.55 0 1 0 -7.10 0zM526.55 114.7a3.55 3.55 0 1 0 7.10 0a3.55 3.55 0 1 0 -7.10 0zM531.15 111.2a3.55 3.55 0 1 0 7.10 0a3.55 3.55 0 1 0 -7.10 0zM524.15 119.3a3.55 3.55 0 1 0 7.10 0a3.55 3.55 0 1 0 -7.10 0zM521.85 121.7a3.55 3.55 0 1 0 7.10 0a3.55 3.55 0 1 0 -7.10 0zM523.05 129.9a3.55 3.55 0 1 0 7.10 0a3.55 3.55 0 1 0 -7.10 0zM528.85 127.5a3.55 3.55 0 1 0 7.10 0a3.55 3.55 0 1 0 -7.10 0zM519.55 143.3a3.55 3.55 0 1 0 7.10 0a3.55 3.55 0 1 0 -7.10 0zM529.45 141.5a3.55 3.55 0 1 0 7.10 0a3.55 3.55 0 1 0 -7.10 0zM535.85 122.8a3.55 3.55 0 1 0 7.10 0a3.55 3.55 0 1 0 -7.10 0zM535.85 129.9a3.55 3.55 0 1 0 7.10 0a3.55 3.55 0 1 0 -7.10 0zM535.85 136.9a3.55 3.55 0 1 0 7.10 0a3.55 3.55 0 1 0 -7.10 0zM483.35 155.5a3.55 3.55 0 1 0 7.10 0a3.55 3.55 0 1 0 -7.10 0zM487.95 152.0a3.55 3.55 0 1 0 7.10 0a3.55 3.55 0 1 0 -7.10 0zM494.95 147.4a3.55 3.55 0 1 0 7.10 0a3.55 3.55 0 1 0 -7.10 0zM498.45 145.0a3.55 3.55 0 1 0 7.10 0a3.55 3.55 0 1 0 -7.10 0zM477.45 154.4a3.55 3.55 0 1 0 7.10 0a3.55 3.55 0 1 0 -7.10 0zM472.85 159.1a3.55 3.55 0 1 0 7.10 0a3.55 3.55 0 1 0 -7.10 0zM473.95 153.2a3.55 3.55 0 1 0 7.10 0a3.55 3.55 0 1 0 -7.10 0zM478.65 152.0a3.55 3.55 0 1 0 7.10 0a3.55 3.55 0 1 0 -7.10 0zM482.15 150.9a3.55 3.55 0 1 0 7.10 0a3.55 3.55 0 1 0 -7.10 0zM486.85 149.7a3.55 3.55 0 1 0 7.10 0a3.55 3.55 0 1 0 -7.10 0zM491.45 148.5a3.55 3.55 0 1 0 7.10 0a3.55 3.55 0 1 0 -7.10 0zM494.95 141.5a3.55 3.55 0 1 0 7.10 0a3.55 3.55 0 1 0 -7.10 0zM499.65 139.2a3.55 3.55 0 1 0 7.10 0a3.55 3.55 0 1 0 -7.10 0zM503.15 136.9a3.55 3.55 0 1 0 7.10 0a3.55 3.55 0 1 0 -7.10 0zM506.65 133.4a3.55 3.55 0 1 0 7.10 0a3.55 3.55 0 1 0 -7.10 0zM510.15 131.0a3.55 3.55 0 1 0 7.10 0a3.55 3.55 0 1 0 -7.10 0zM513.65 127.5a3.55 3.55 0 1 0 7.10 0a3.55 3.55 0 1 0 -7.10 0zM514.85 119.3a3.55 3.55 0 1 0 7.10 0a3.55 3.55 0 1 0 -7.10 0zM511.35 124.0a3.55 3.55 0 1 0 7.10 0a3.55 3.55 0 1 0 -7.10 0zM576.05 66.4a3.55 3.55 0 1 0 7.10 0a3.55 3.55 0 1 0 -7.10 0zM583.05 67.6a3.55 3.55 0 1 0 7.10 0a3.55 3.55 0 1 0 -7.10 0zM583.65 62.3a3.55 3.55 0 1 0 7.10 0a3.55 3.55 0 1 0 -7.10 0zM589.55 61.2a3.55 3.55 0 1 0 7.10 0a3.55 3.55 0 1 0 -7.10 0zM596.55 65.3a3.55 3.55 0 1 0 7.10 0a3.55 3.55 0 1 0 -7.10 0zM597.65 68.2a3.55 3.55 0 1 0 7.10 0a3.55 3.55 0 1 0 -7.10 0zM594.15 72.8a3.55 3.55 0 1 0 7.10 0a3.55 3.55 0 1 0 -7.10 0zM593.65 78.1a3.55 3.55 0 1 0 7.10 0a3.55 3.55 0 1 0 -7.10 0zM601.15 75.2a3.55 3.55 0 1 0 7.10 0a3.55 3.55 0 1 0 -7.10 0zM605.25 71.7a3.55 3.55 0 1 0 7.10 0a3.55 3.55 0 1 0 -7.10 0zM604.65 78.7a3.55 3.55 0 1 0 7.10 0a3.55 3.55 0 1 0 -7.10 0zM604.15 101.5a3.55 3.55 0 1 0 7.10 0a3.55 3.55 0 1 0 -7.10 0zM599.45 82.2a3.55 3.55 0 1 0 7.10 0a3.55 3.55 0 1 0 -7.10 0zM601.15 88.0a3.55 3.55 0 1 0 7.10 0a3.55 3.55 0 1 0 -7.10 0zM598.85 92.7a3.55 3.55 0 1 0 7.10 0a3.55 3.55 0 1 0 -7.10 0zM594.15 97.4a3.55 3.55 0 1 0 7.10 0a3.55 3.55 0 1 0 -7.10 0zM589.55 98.5a3.55 3.55 0 1 0 7.10 0a3.55 3.55 0 1 0 -7.10 0zM586.05 82.2a3.55 3.55 0 1 0 7.10 0a3.55 3.55 0 1 0 -7.10 0zM582.55 84.5a3.55 3.55 0 1 0 7.10 0a3.55 3.55 0 1 0 -7.10 0zM577.85 86.9a3.55 3.55 0 1 0 7.10 0a3.55 3.55 0 1 0 -7.10 0zM573.15 85.7a3.55 3.55 0 1 0 7.10 0a3.55 3.55 0 1 0 -7.10 0zM568.45 86.9a3.55 3.55 0 1 0 7.10 0a3.55 3.55 0 1 0 -7.10 0zM563.85 88.0a3.55 3.55 0 1 0 7.10 0a3.55 3.55 0 1 0 -7.10 0zM562.65 81.0a3.55 3.55 0 1 0 7.10 0a3.55 3.55 0 1 0 -7.10 0zM552.75 81.6a3.55 3.55 0 1 0 7.10 0a3.55 3.55 0 1 0 -7.10 0zM549.85 86.9a3.55 3.55 0 1 0 7.10 0a3.55 3.55 0 1 0 -7.10 0zM543.95 88.0a3.55 3.55 0 1 0 7.10 0a3.55 3.55 0 1 0 -7.10 0zM541.65 90.4a3.55 3.55 0 1 0 7.10 0a3.55 3.55 0 1 0 -7.10 0zM545.15 95.0a3.55 3.55 0 1 0 7.10 0a3.55 3.55 0 1 0 -7.10 0zM549.85 92.7a3.55 3.55 0 1 0 7.10 0a3.55 3.55 0 1 0 -7.10 0zM554.45 93.9a3.55 3.55 0 1 0 7.10 0a3.55 3.55 0 1 0 -7.10 0zM559.15 91.5a3.55 3.55 0 1 0 7.10 0a3.55 3.55 0 1 0 -7.10 0zM563.85 92.7a3.55 3.55 0 1 0 7.10 0a3.55 3.55 0 1 0 -7.10 0zM568.45 92.7a3.55 3.55 0 1 0 7.10 0a3.55 3.55 0 1 0 -7.10 0zM573.15 93.9a3.55 3.55 0 1 0 7.10 0a3.55 3.55 0 1 0 -7.10 0zM577.85 93.9a3.55 3.55 0 1 0 7.10 0a3.55 3.55 0 1 0 -7.10 0zM582.55 91.5a3.55 3.55 0 1 0 7.10 0a3.55 3.55 0 1 0 -7.10 0zM587.15 90.4a3.55 3.55 0 1 0 7.10 0a3.55 3.55 0 1 0 -7.10 0zM591.85 89.2a3.55 3.55 0 1 0 7.10 0a3.55 3.55 0 1 0 -7.10 0zM596.55 88.0a3.55 3.55 0 1 0 7.10 0a3.55 3.55 0 1 0 -7.10 0zM591.85 93.9a3.55 3.55 0 1 0 7.10 0a3.55 3.55 0 1 0 -7.10 0zM587.15 95.0a3.55 3.55 0 1 0 7.10 0a3.55 3.55 0 1 0 -7.10 0zM582.55 97.4a3.55 3.55 0 1 0 7.10 0a3.55 3.55 0 1 0 -7.10 0zM581.35 100.9a3.55 3.55 0 1 0 7.10 0a3.55 3.55 0 1 0 -7.10 0zM577.85 99.7a3.55 3.55 0 1 0 7.10 0a3.55 3.55 0 1 0 -7.10 0zM573.15 99.7a3.55 3.55 0 1 0 7.10 0a3.55 3.55 0 1 0 -7.10 0zM568.45 99.7a3.55 3.55 0 1 0 7.10 0a3.55 3.55 0 1 0 -7.10 0zM563.85 98.5a3.55 3.55 0 1 0 7.10 0a3.55 3.55 0 1 0 -7.10 0zM559.15 98.5a3.55 3.55 0 1 0 7.10 0a3.55 3.55 0 1 0 -7.10 0zM554.45 98.5a3.55 3.55 0 1 0 7.10 0a3.55 3.55 0 1 0 -7.10 0zM549.85 99.7a3.55 3.55 0 1 0 7.10 0a3.55 3.55 0 1 0 -7.10 0zM545.15 99.7a3.55 3.55 0 1 0 7.10 0a3.55 3.55 0 1 0 -7.10 0zM540.45 100.9a3.55 3.55 0 1 0 7.10 0a3.55 3.55 0 1 0 -7.10 0zM533.45 98.5a3.55 3.55 0 1 0 7.10 0a3.55 3.55 0 1 0 -7.10 0zM531.15 102.0a3.55 3.55 0 1 0 7.10 0a3.55 3.55 0 1 0 -7.10 0zM528.75 106.7a3.55 3.55 0 1 0 7.10 0a3.55 3.55 0 1 0 -7.10 0zM533.45 106.7a3.55 3.55 0 1 0 7.10 0a3.55 3.55 0 1 0 -7.10 0zM538.15 110.2a3.55 3.55 0 1 0 7.10 0a3.55 3.55 0 1 0 -7.10 0zM527.65 111.4a3.55 3.55 0 1 0 7.10 0a3.55 3.55 0 1 0 -7.10 0zM549.85 104.4a3.55 3.55 0 1 0 7.10 0a3.55 3.55 0 1 0 -7.10 0zM554.45 106.7a3.55 3.55 0 1 0 7.10 0a3.55 3.55 0 1 0 -7.10 0zM559.15 104.4a3.55 3.55 0 1 0 7.10 0a3.55 3.55 0 1 0 -7.10 0zM563.85 104.4a3.55 3.55 0 1 0 7.10 0a3.55 3.55 0 1 0 -7.10 0zM568.45 105.5a3.55 3.55 0 1 0 7.10 0a3.55 3.55 0 1 0 -7.10 0zM573.15 109.1a3.55 3.55 0 1 0 7.10 0a3.55 3.55 0 1 0 -7.10 0zM575.55 113.7a3.55 3.55 0 1 0 7.10 0a3.55 3.55 0 1 0 -7.10 0zM570.85 113.7a3.55 3.55 0 1 0 7.10 0a3.55 3.55 0 1 0 -7.10 0zM566.15 111.4a3.55 3.55 0 1 0 7.10 0a3.55 3.55 0 1 0 -7.10 0zM561.45 111.4a3.55 3.55 0 1 0 7.10 0a3.55 3.55 0 1 0 -7.10 0zM559.15 116.1a3.55 3.55 0 1 0 7.10 0a3.55 3.55 0 1 0 -7.10 0zM554.45 118.4a3.55 3.55 0 1 0 7.10 0a3.55 3.55 0 1 0 -7.10 0zM549.85 117.2a3.55 3.55 0 1 0 7.10 0a3.55 3.55 0 1 0 -7.10 0zM545.15 119.6a3.55 3.55 0 1 0 7.10 0a3.55 3.55 0 1 0 -7.10 0zM541.65 117.2a3.55 3.55 0 1 0 7.10 0a3.55 3.55 0 1 0 -7.10 0zM538.15 123.1a3.55 3.55 0 1 0 7.10 0a3.55 3.55 0 1 0 -7.10 0zM562.65 121.9a3.55 3.55 0 1 0 7.10 0a3.55 3.55 0 1 0 -7.10 0zM569.65 121.9a3.55 3.55 0 1 0 7.10 0a3.55 3.55 0 1 0 -7.10 0zM569.65 127.7a3.55 3.55 0 1 0 7.10 0a3.55 3.55 0 1 0 -7.10 0zM576.65 127.7a3.55 3.55 0 1 0 7.10 0a3.55 3.55 0 1 0 -7.10 0zM539.25 130.1a3.55 3.55 0 1 0 7.10 0a3.55 3.55 0 1 0 -7.10 0zM548.65 127.7a3.55 3.55 0 1 0 7.10 0a3.55 3.55 0 1 0 -7.10 0zM557.95 133.0a3.55 3.55 0 1 0 7.10 0a3.55 3.55 0 1 0 -7.10 0zM538.15 135.9a3.55 3.55 0 1 0 7.10 0a3.55 3.55 0 1 0 -7.10 0zM543.95 135.9a3.55 3.55 0 1 0 7.10 0a3.55 3.55 0 1 0 -7.10 0zM549.85 136.5a3.55 3.55 0 1 0 7.10 0a3.55 3.55 0 1 0 -7.10 0zM569.65 140.0a3.55 3.55 0 1 0 7.10 0a3.55 3.55 0 1 0 -7.10 0zM556.85 111.4a3.55 3.55 0 1 0 7.10 0a3.55 3.55 0 1 0 -7.10 0zM560.35 106.7a3.55 3.55 0 1 0 7.10 0a3.55 3.55 0 1 0 -7.10 0zM555.65 102.0a3.55 3.55 0 1 0 7.10 0a3.55 3.55 0 1 0 -7.10 0zM547.45 103.2a3.55 3.55 0 1 0 7.10 0a3.55 3.55 0 1 0 -7.10 0zM552.15 100.9a3.55 3.55 0 1 0 7.10 0a3.55 3.55 0 1 0 -7.10 0zM542.85 104.4a3.55 3.55 0 1 0 7.10 0a3.55 3.55 0 1 0 -7.10 0zM564.95 95.0a3.55 3.55 0 1 0 7.10 0a3.55 3.55 0 1 0 -7.10 0zM569.65 95.0a3.55 3.55 0 1 0 7.10 0a3.55 3.55 0 1 0 -7.10 0zM574.35 90.4a3.55 3.55 0 1 0 7.10 0a3.55 3.55 0 1 0 -7.10 0zM579.05 90.4a3.55 3.55 0 1 0 7.10 0a3.55 3.55 0 1 0 -7.10 0zM584.85 88.0a3.55 3.55 0 1 0 7.10 0a3.55 3.55 0 1 0 -7.10 0zM594.15 83.4a3.55 3.55 0 1 0 7.10 0a3.55 3.55 0 1 0 -7.10 0zM597.65 84.5a3.55 3.55 0 1 0 7.10 0a3.55 3.55 0 1 0 -7.10 0zM624.75 48.8a3.55 3.55 0 1 0 7.10 0a3.55 3.55 0 1 0 -7.10 0zM635.25 52.3a3.55 3.55 0 1 0 7.10 0a3.55 3.55 0 1 0 -7.10 0zM624.15 58.9a3.55 3.55 0 1 0 7.10 0a3.55 3.55 0 1 0 -7.10 0zM634.05 61.6a3.55 3.55 0 1 0 7.10 0a3.55 3.55 0 1 0 -7.10 0zM631.75 65.6a3.55 3.55 0 1 0 7.10 0a3.55 3.55 0 1 0 -7.10 0zM632.95 72.6a3.55 3.55 0 1 0 7.10 0a3.55 3.55 0 1 0 -7.10 0zM629.45 82.9a3.55 3.55 0 1 0 7.10 0a3.55 3.55 0 1 0 -7.10 0zM627.85 88.5a3.55 3.55 0 1 0 7.10 0a3.55 3.55 0 1 0 -7.10 0zM649.85 49.6a3.55 3.55 0 1 0 7.10 0a3.55 3.55 0 1 0 -7.10 0zM654.55 46.1a3.55 3.55 0 1 0 7.10 0a3.55 3.55 0 1 0 -7.10 0zM657.45 46.1a3.55 3.55 0 1 0 7.10 0a3.55 3.55 0 1 0 -7.10 0zM660.35 49.0a3.55 3.55 0 1 0 7.10 0a3.55 3.55 0 1 0 -7.10 0zM661.55 63.4a3.55 3.55 0 1 0 7.10 0a3.55 3.55 0 1 0 -7.10 0zM657.45 66.8a3.55 3.55 0 1 0 7.10 0a3.55 3.55 0 1 0 -7.10 0zM614.25 70.0a3.55 3.55 0 1 0 7.10 0a3.55 3.55 0 1 0 -7.10 0zM613.05 76.5a3.55 3.55 0 1 0 7.10 0a3.55 3.55 0 1 0 -7.10 0zM618.35 77.0a3.55 3.55 0 1 0 7.10 0a3.55 3.55 0 1 0 -7.10 0zM622.95 78.8a3.55 3.55 0 1 0 7.10 0a3.55 3.55 0 1 0 -7.10 0zM614.85 90.8a3.55 3.55 0 1 0 7.10 0a3.55 3.55 0 1 0 -7.10 0zM627.65 121.4a3.55 3.55 0 1 0 7.10 0a3.55 3.55 0 1 0 -7.10 0zM570.05 143.3a3.55 3.55 0 1 0 7.10 0a3.55 3.55 0 1 0 -7.10 0zM545.95 147.7a3.55 3.55 0 1 0 7.10 0a3.55 3.55 0 1 0 -7.10 0zM543.75 142.1a3.55 3.55 0 1 0 7.10 0a3.55 3.55 0 1 0 -7.10 0zM547.65 85.7a3.55 3.55 0 1 0 7.10 0a3.55 3.55 0 1 0 -7.10 0zM524.35 104.4a3.55 3.55 0 1 0 7.10 0a3.55 3.55 0 1 0 -7.10 0zM519.05 104.4a3.55 3.55 0 1 0 7.10 0a3.55 3.55 0 1 0 -7.10 0zM509.15 125.4a3.55 3.55 0 1 0 7.10 0a3.55 3.55 0 1 0 -7.10 0zM510.35 134.7a3.55 3.55 0 1 0 7.10 0a3.55 3.55 0 1 0 -7.10 0zM519.65 125.4a3.55 3.55 0 1 0 7.10 0a3.55 3.55 0 1 0 -7.10 0zM597.95 72.5a3.55 3.55 0 1 0 7.10 0a3.55 3.55 0 1 0 -7.10 0zM597.75 77.3a3.55 3.55 0 1 0 7.10 0a3.55 3.55 0 1 0 -7.10 0zM545.95 91.5a3.55 3.55 0 1 0 7.10 0a3.55 3.55 0 1 0 -7.10 0zM522.45 108.5a3.55 3.55 0 1 0 7.10 0a3.55 3.55 0 1 0 -7.10 0z"/>
<path fill="#FF0000" d="M126.70 382.0a3.4 3.4 0 1 0 6.80 0a3.4 3.4 0 1 0 -6.80 0zM130.80 390.2a3.4 3.4 0 1 0 6.80 0a3.4 3.4 0 1 0 -6.80 0zM133.70 393.7a3.4 3.4 0 1 0 6.80 0a3.4 3.4 0 1 0 -6.80 0zM101.00 392.5a3.4 3.4 0 1 0 6.80 0a3.4 3.4 0 1 0 -6.80 0zM107.40 391.4a3.4 3.4 0 1 0 6.80 0a3.4 3.4 0 1 0 -6.80 0zM99.80 397.2a3.4 3.4 0 1 0 6.80 0a3.4 3.4 0 1 0 -6.80 0zM104.50 399.5a3.4 3.4 0 1 0 6.80 0a3.4 3.4 0 1 0 -6.80 0zM110.30 397.2a3.4 3.4 0 1 0 6.80 0a3.4 3.4 0 1 0 -6.80 0zM115.00 400.7a3.4 3.4 0 1 0 6.80 0a3.4 3.4 0 1 0 -6.80 0zM119.70 401.9a3.4 3.4 0 1 0 6.80 0a3.4 3.4 0 1 0 -6.80 0zM111.50 405.4a3.4 3.4 0 1 0 6.80 0a3.4 3.4 0 1 0 -6.80 0zM116.20 407.7a3.4 3.4 0 1 0 6.80 0a3.4 3.4 0 1 0 -6.80 0zM122.00 405.4a3.4 3.4 0 1 0 6.80 0a3.4 3.4 0 1 0 -6.80 0zM126.70 398.4a3.4 3.4 0 1 0 6.80 0a3.4 3.4 0 1 0 -6.80 0zM131.30 400.7a3.4 3.4 0 1 0 6.80 0a3.4 3.4 0 1 0 -6.80 0zM134.80 404.2a3.4 3.4 0 1 0 6.80 0a3.4 3.4 0 1 0 -6.80 0zM125.50 410.0a3.4 3.4 0 1 0 6.80 0a3.4 3.4 0 1 0 -6.80 0zM131.30 411.2a3.4 3.4 0 1 0 6.80 0a3.4 3.4 0 1 0 -6.80 0zM134.80 417.0a3.4 3.4 0 1 0 6.80 0a3.4 3.4 0 1 0 -6.80 0zM126.70 415.9a3.4 3.4 0 1 0 6.80 0a3.4 3.4 0 1 0 -6.80 0zM122.00 419.4a3.4 3.4 0 1 0 6.80 0a3.4 3.4 0 1 0 -6.80 0zM119.70 413.5a3.4 3.4 0 1 0 6.80 0a3.4 3.4 0 1 0 -6.80 0zM74.10 406.5a3.4 3.4 0 1 0 6.80 0a3.4 3.4 0 1 0 -6.80 0zM86.70 405.9a3.4 3.4 0 1 0 6.80 0a3.4 3.4 0 1 0 -6.80 0zM94.60 404.0a3.4 3.4 0 1 0 6.80 0a3.4 3.4 0 1 0 -6.80 0zM101.60 407.7a3.4 3.4 0 1 0 6.80 0a3.4 3.4 0 1 0 -6.80 0zM105.70 412.4a3.4 3.4 0 1 0 6.80 0a3.4 3.4 0 1 0 -6.80 0zM110.30 414.7a3.4 3.4 0 1 0 6.80 0a3.4 3.4 0 1 0 -6.80 0zM115.00 419.4a3.4 3.4 0 1 0 6.80 0a3.4 3.4 0 1 0 -6.80 0zM108.00 419.4a3.4 3.4 0 1 0 6.80 0a3.4 3.4 0 1 0 -6.80 0zM103.30 417.0a3.4 3.4 0 1 0 6.80 0a3.4 3.4 0 1 0 -6.80 0zM98.60 414.7a3.4 3.4 0 1 0 6.80 0a3.4 3.4 0 1 0 -6.80 0zM94.00 412.4a3.4 3.4 0 1 0 6.80 0a3.4 3.4 0 1 0 -6.80 0zM89.30 414.7a3.4 3.4 0 1 0 6.80 0a3.4 3.4 0 1 0 -6.80 0zM84.60 415.9a3.4 3.4 0 1 0 6.80 0a3.4 3.4 0 1 0 -6.80 0zM81.10 415.9a3.4 3.4 0 1 0 6.80 0a3.4 3.4 0 1 0 -6.80 0zM74.70 418.2a3.4 3.4 0 1 0 6.80 0a3.4 3.4 0 1 0 -6.80 0zM69.40 421.1a3.4 3.4 0 1 0 6.80 0a3.4 3.4 0 1 0 -6.80 0zM63.60 431.1a3.4 3.4 0 1 0 6.80 0a3.4 3.4 0 1 0 -6.80 0zM61.30 435.7a3.4 3.4 0 1 0 6.80 0a3.4 3.4 0 1 0 -6.80 0zM60.10 442.7a3.4 3.4 0 1 0 6.80 0a3.4 3.4 0 1 0 -6.80 0zM63.60 443.9a3.4 3.4 0 1 0 6.80 0a3.4 3.4 0 1 0 -6.80 0zM68.30 445.1a3.4 3.4 0 1 0 6.80 0a3.4 3.4 0 1 0 -6.80 0zM73.00 443.9a3.4 3.4 0 1 0 6.80 0a3.4 3.4 0 1 0 -6.80 0zM77.60 443.9a3.4 3.4 0 1 0 6.80 0a3.4 3.4 0 1 0 -6.80 0zM84.60 442.2a3.4 3.4 0 1 0 6.80 0a3.4 3.4 0 1 0 -6.80 0zM92.80 439.2a3.4 3.4 0 1 0 6.80 0a3.4 3.4 0 1 0 -6.80 0zM99.80 442.2a3.4 3.4 0 1 0 6.80 0a3.4 3.4 0 1 0 -6.80 0zM103.30 442.2a3.4 3.4 0 1 0 6.80 0a3.4 3.4 0 1 0 -6.80 0zM65.90 435.7a3.4 3.4 0 1 0 6.80 0a3.4 3.4 0 1 0 -6.80 0zM70.60 433.4a3.4 3.4 0 1 0 6.80 0a3.4 3.4 0 1 0 -6.80 0zM75.30 429.9a3.4 3.4 0 1 0 6.80 0a3.4 3.4 0 1 0 -6.80 0zM80.00 426.4a3.4 3.4 0 1 0 6.80 0a3.4 3.4 0 1 0 -6.80 0zM84.60 424.1a3.4 3.4 0 1 0 6.80 0a3.4 3.4 0 1 0 -6.80 0zM89.30 421.7a3.4 3.4 0 1 0 6.80 0a3.4 3.4 0 1 0 -6.80 0zM94.00 419.4a3.4 3.4 0 1 0 6.80 0a3.4 3.4 0 1 0 -6.80 0zM97.50 422.9a3.4 3.4 0 1 0 6.80 0a3.4 3.4 0 1 0 -6.80 0zM102.10 426.4a3.4 3.4 0 1 0 6.80 0a3.4 3.4 0 1 0 -6.80 0zM106.80 429.9a3.4 3.4 0 1 0 6.80 0a3.4 3.4 0 1 0 -6.80 0zM111.50 431.1a3.4 3.4 0 1 0 6.80 0a3.4 3.4 0 1 0 -6.80 0zM116.20 432.2a3.4 3.4 0 1 0 6.80 0a3.4 3.4 0 1 0 -6.80 0zM119.70 429.9a3.4 3.4 0 1 0 6.80 0a3.4 3.4 0 1 0 -6.80 0zM117.30 426.4a3.4 3.4 0 1 0 6.80 0a3.4 3.4 0 1 0 -6.80 0zM112.70 424.1a3.4 3.4 0 1 0 6.80 0a3.4 3.4 0 1 0 -6.80 0zM108.00 422.9a3.4 3.4 0 1 0 6.80 0a3.4 3.4 0 1 0 -6.80 0zM65.90 440.4a3.4 3.4 0 1 0 6.80 0a3.4 3.4 0 1 0 -6.80 0zM70.60 440.4a3.4 3.4 0 1 0 6.80 0a3.4 3.4 0 1 0 -6.80 0zM75.30 438.1a3.4 3.4 0 1 0 6.80 0a3.4 3.4 0 1 0 -6.80 0zM80.00 435.7a3.4 3.4 0 1 0 6.80 0a3.4 3.4 0 1 0 -6.80 0zM84.60 433.4a3.4 3.4 0 1 0 6.80 0a3.4 3.4 0 1 0 -6.80 0zM89.30 431.1a3.4 3.4 0 1 0 6.80 0a3.4 3.4 0 1 0 -6.80 0zM94.00 428.7a3.4 3.4 0 1 0 6.80 0a3.4 3.4 0 1 0 -6.80 0zM98.60 431.1a3.4 3.4 0 1 0 6.80 0a3.4 3.4 0 1 0 -6.80 0zM103.30 434.6a3.4 3.4 0 1 0 6.80 0a3.4 3.4 0 1 0 -6.80 0zM108.00 435.7a3.4 3.4 0 1 0 6.80 0a3.4 3.4 0 1 0 -6.80 0zM80.00 431.1a3.4 3.4 0 1 0 6.80 0a3.4 3.4 0 1 0 -6.80 0zM87.00 428.7a3.4 3.4 0 1 0 6.80 0a3.4 3.4 0 1 0 -6.80 0zM91.60 435.7a3.4 3.4 0 1 0 6.80 0a3.4 3.4 0 1 0 -6.80 0zM96.30 435.7a3.4 3.4 0 1 0 6.80 0a3.4 3.4 0 1 0 -6.80 0zM70.60 428.7a3.4 3.4 0 1 0 6.80 0a3.4 3.4 0 1 0 -6.80 0zM67.10 431.1a3.4 3.4 0 1 0 6.80 0a3.4 3.4 0 1 0 -6.80 0zM62.40 439.2a3.4 3.4 0 1 0 6.80 0a3.4 3.4 0 1 0 -6.80 0zM75.30 434.6a3.4 3.4 0 1 0 6.80 0a3.4 3.4 0 1 0 -6.80 0zM82.30 438.1a3.4 3.4 0 1 0 6.80 0a3.4 3.4 0 1 0 -6.80 0zM88.10 436.9a3.4 3.4 0 1 0 6.80 0a3.4 3.4 0 1 0 -6.80 0zM101.00 438.1a3.4 3.4 0 1 0 6.80 0a3.4 3.4 0 1 0 -6.80 0zM106.80 425.2a3.4 3.4 0 1 0 6.80 0a3.4 3.4 0 1 0 -6.80 0zM130.20 428.1a3.4 3.4 0 1 0 6.80 0a3.4 3.4 0 1 0 -6.80 0zM131.30 435.1a3.4 3.4 0 1 0 6.80 0a3.4 3.4 0 1 0 -6.80 0zM132.50 442.2a3.4 3.4 0 1 0 6.80 0a3.4 3.4 0 1 0 -6.80 0zM123.20 396.0a3.4 3.4 0 1 0 6.80 0a3.4 3.4 0 1 0 -6.80 0zM125.50 396.0a3.4 3.4 0 1 0 6.80 0a3.4 3.4 0 1 0 -6.80 0zM186.10 357.2a3.4 3.4 0 1 0 6.80 0a3.4 3.4 0 1 0 -6.80 0zM156.90 375.3a3.4 3.4 0 1 0 6.80 0a3.4 3.4 0 1 0 -6.80 0zM145.20 381.5a3.4 3.4 0 1 0 6.80 0a3.4 3.4 0 1 0 -6.80 0zM179.40 383.5a3.4 3.4 0 1 0 6.80 0a3.4 3.4 0 1 0 -6.80 0zM147.90 388.7a3.4 3.4 0 1 0 6.80 0a3.4 3.4 0 1 0 -6.80 0zM158.60 389.0a3.4 3.4 0 1 0 6.80 0a3.4 3.4 0 1 0 -6.80 0zM162.10 391.1a3.4 3.4 0 1 0 6.80 0a3.4 3.4 0 1 0 -6.80 0zM140.00 393.4a3.4 3.4 0 1 0 6.80 0a3.4 3.4 0 1 0 -6.80 0zM144.60 392.2a3.4 3.4 0 1 0 6.80 0a3.4 3.4 0 1 0 -6.80 0zM149.30 396.9a3.4 3.4 0 1 0 6.80 0a3.4 3.4 0 1 0 -6.80 0zM151.60 400.4a3.4 3.4 0 1 0 6.80 0a3.4 3.4 0 1 0 -6.80 0zM164.50 398.1a3.4 3.4 0 1 0 6.80 0a3.4 3.4 0 1 0 -6.80 0zM161.60 396.9a3.4 3.4 0 1 0 6.80 0a3.4 3.4 0 1 0 -6.80 0zM176.20 400.2a3.4 3.4 0 1 0 6.80 0a3.4 3.4 0 1 0 -6.80 0zM166.80 404.5a3.4 3.4 0 1 0 6.80 0a3.4 3.4 0 1 0 -6.80 0zM159.20 402.2a3.4 3.4 0 1 0 6.80 0a3.4 3.4 0 1 0 -6.80 0zM158.10 406.8a3.4 3.4 0 1 0 6.80 0a3.4 3.4 0 1 0 -6.80 0zM192.50 404.8a3.4 3.4 0 1 0 6.80 0a3.4 3.4 0 1 0 -6.80 0zM123.60 402.7a3.4 3.4 0 1 0 6.80 0a3.4 3.4 0 1 0 -6.80 0zM128.30 400.4a3.4 3.4 0 1 0 6.80 0a3.4 3.4 0 1 0 -6.80 0zM137.60 398.1a3.4 3.4 0 1 0 6.80 0a3.4 3.4 0 1 0 -6.80 0zM142.30 398.1a3.4 3.4 0 1 0 6.80 0a3.4 3.4 0 1 0 -6.80 0zM147.00 399.2a3.4 3.4 0 1 0 6.80 0a3.4 3.4 0 1 0 -6.80 0zM149.30 405.1a3.4 3.4 0 1 0 6.80 0a3.4 3.4 0 1 0 -6.80 0zM144.60 405.1a3.4 3.4 0 1 0 6.80 0a3.4 3.4 0 1 0 -6.80 0zM140.00 407.4a3.4 3.4 0 1 0 6.80 0a3.4 3.4 0 1 0 -6.80 0zM135.30 407.4a3.4 3.4 0 1 0 6.80 0a3.4 3.4 0 1 0 -6.80 0zM130.60 407.4a3.4 3.4 0 1 0 6.80 0a3.4 3.4 0 1 0 -6.80 0zM125.90 407.4a3.4 3.4 0 1 0 6.80 0a3.4 3.4 0 1 0 -6.80 0zM140.00 412.1a3.4 3.4 0 1 0 6.80 0a3.4 3.4 0 1 0 -6.80 0zM145.80 410.9a3.4 3.4 0 1 0 6.80 0a3.4 3.4 0 1 0 -6.80 0zM157.50 413.2a3.4 3.4 0 1 0 6.80 0a3.4 3.4 0 1 0 -6.80 0zM151.60 414.4a3.4 3.4 0 1 0 6.80 0a3.4 3.4 0 1 0 -6.80 0zM148.10 413.2a3.4 3.4 0 1 0 6.80 0a3.4 3.4 0 1 0 -6.80 0zM128.30 409.5a3.4 3.4 0 1 0 6.80 0a3.4 3.4 0 1 0 -6.80 0zM118.90 408.4a3.4 3.4 0 1 0 6.80 0a3.4 3.4 0 1 0 -6.80 0zM116.60 415.4a3.4 3.4 0 1 0 6.80 0a3.4 3.4 0 1 0 -6.80 0zM140.00 420.0a3.4 3.4 0 1 0 6.80 0a3.4 3.4 0 1 0 -6.80 0zM144.60 417.7a3.4 3.4 0 1 0 6.80 0a3.4 3.4 0 1 0 -6.80 0zM154.00 415.4a3.4 3.4 0 1 0 6.80 0a3.4 3.4 0 1 0 -6.80 0zM161.00 420.0a3.4 3.4 0 1 0 6.80 0a3.4 3.4 0 1 0 -6.80 0zM148.10 423.0a3.4 3.4 0 1 0 6.80 0a3.4 3.4 0 1 0 -6.80 0zM135.30 413.0a3.4 3.4 0 1 0 6.80 0a3.4 3.4 0 1 0 -6.80 0zM143.50 413.0a3.4 3.4 0 1 0 6.80 0a3.4 3.4 0 1 0 -6.80 0zM137.60 414.2a3.4 3.4 0 1 0 6.80 0a3.4 3.4 0 1 0 -6.80 0zM117.80 434.1a3.4 3.4 0 1 0 6.80 0a3.4 3.4 0 1 0 -6.80 0zM140.90 444.0a3.4 3.4 0 1 0 6.80 0a3.4 3.4 0 1 0 -6.80 0zM144.00 429.4a3.4 3.4 0 1 0 6.80 0a3.4 3.4 0 1 0 -6.80 0zM147.00 430.0a3.4 3.4 0 1 0 6.80 0a3.4 3.4 0 1 0 -6.80 0zM151.60 436.4a3.4 3.4 0 1 0 6.80 0a3.4 3.4 0 1 0 -6.80 0zM152.80 442.2a3.4 3.4 0 1 0 6.80 0a3.4 3.4 0 1 0 -6.80 0zM156.30 443.4a3.4 3.4 0 1 0 6.80 0a3.4 3.4 0 1 0 -6.80 0zM160.40 442.2a3.4 3.4 0 1 0 6.80 0a3.4 3.4 0 1 0 -6.80 0zM166.80 439.9a3.4 3.4 0 1 0 6.80 0a3.4 3.4 0 1 0 -6.80 0zM173.20 431.1a3.4 3.4 0 1 0 6.80 0a3.4 3.4 0 1 0 -6.80 0zM183.80 442.2a3.4 3.4 0 1 0 6.80 0a3.4 3.4 0 1 0 -6.80 0zM233.50 341.9a3.4 3.4 0 1 0 6.80 0a3.4 3.4 0 1 0 -6.80 0zM263.20 344.4a3.4 3.4 0 1 0 6.80 0a3.4 3.4 0 1 0 -6.80 0zM257.30 352.8a3.4 3.4 0 1 0 6.80 0a3.4 3.4 0 1 0 -6.80 0zM241.30 391.2a3.4 3.4 0 1 0 6.80 0a3.4 3.4 0 1 0 -6.80 0zM129.80 395.2a3.4 3.4 0 1 0 6.80 0a3.4 3.4 0 1 0 -6.80 0zM105.00 395.2a3.4 3.4 0 1 0 6.80 0a3.4 3.4 0 1 0 -6.80 0zM133.60 397.5a3.4 3.4 0 1 0 6.80 0a3.4 3.4 0 1 0 -6.80 0zM140.60 402.2a3.4 3.4 0 1 0 6.80 0a3.4 3.4 0 1 0 -6.80 0zM123.10 414.5a3.4 3.4 0 1 0 6.80 0a3.4 3.4 0 1 0 -6.80 0zM141.10 416.5a3.4 3.4 0 1 0 6.80 0a3.4 3.4 0 1 0 -6.80 0zM101.30 420.7a3.4 3.4 0 1 0 6.80 0a3.4 3.4 0 1 0 -6.80 0zM91.80 425.0a3.4 3.4 0 1 0 6.80 0a3.4 3.4 0 1 0 -6.80 0zM97.80 426.8a3.4 3.4 0 1 0 6.80 0a3.4 3.4 0 1 0 -6.80 0zM110.60 427.5a3.4 3.4 0 1 0 6.80 0a3.4 3.4 0 1 0 -6.80 0zM83.10 429.0a3.4 3.4 0 1 0 6.80 0a3.4 3.4 0 1 0 -6.80 0zM102.60 430.5a3.4 3.4 0 1 0 6.80 0a3.4 3.4 0 1 0 -6.80 0zM93.60 432.5a3.4 3.4 0 1 0 6.80 0a3.4 3.4 0 1 0 -6.80 0zM78.80 440.2a3.4 3.4 0 1 0 6.80 0a3.4 3.4 0 1 0 -6.80 0zM81.10 441.5a3.4 3.4 0 1 0 6.80 0a3.4 3.4 0 1 0 -6.80 0zM98.10 418.5a3.4 3.4 0 1 0 6.80 0a3.4 3.4 0 1 0 -6.80 0z"/>
<path fill="#FFFF00" d="M448.40 407.5a3.5 3.5 0 1 0 7.00 0a3.5 3.5 0 1 0 -7.00 0zM455.40 411.8a3.5 3.5 0 1 0 7.00 0a3.5 3.5 0 1 0 -7.00 0zM450.20 413.5a3.5 3.5 0 1 0 7.00 0a3.5 3.5 0 1 0 -7.00 0zM445.50 417.0a3.5 3.5 0 1 0 7.00 0a3.5 3.5 0 1 0 -7.00 0zM443.20 420.5a3.5 3.5 0 1 0 7.00 0a3.5 3.5 0 1 0 -7.00 0zM440.80 424.1a3.5 3.5 0 1 0 7.00 0a3.5 3.5 0 1 0 -7.00 0zM438.50 428.7a3.5 3.5 0 1 0 7.00 0a3.5 3.5 0 1 0 -7.00 0zM438.50 433.4a3.5 3.5 0 1 0 7.00 0a3.5 3.5 0 1 0 -7.00 0zM442.00 436.9a3.5 3.5 0 1 0 7.00 0a3.5 3.5 0 1 0 -7.00 0zM446.70 438.1a3.5 3.5 0 1 0 7.00 0a3.5 3.5 0 1 0 -7.00 0zM452.50 436.3a3.5 3.5 0 1 0 7.00 0a3.5 3.5 0 1 0 -7.00 0zM457.20 432.2a3.5 3.5 0 1 0 7.00 0a3.5 3.5 0 1 0 -7.00 0zM459.50 428.7a3.5 3.5 0 1 0 7.00 0a3.5 3.5 0 1 0 -7.00 0zM460.70 424.1a3.5 3.5 0 1 0 7.00 0a3.5 3.5 0 1 0 -7.00 0zM461.90 419.4a3.5 3.5 0 1 0 7.00 0a3.5 3.5 0 1 0 -7.00 0zM464.20 414.7a3.5 3.5 0 1 0 7.00 0a3.5 3.5 0 1 0 -7.00 0zM463.00 407.7a3.5 3.5 0 1 0 7.00 0a3.5 3.5 0 1 0 -7.00 0zM466.50 401.9a3.5 3.5 0 1 0 7.00 0a3.5 3.5 0 1 0 -7.00 0zM463.00 400.7a3.5 3.5 0 1 0 7.00 0a3.5 3.5 0 1 0 -7.00 0zM467.70 410.0a3.5 3.5 0 1 0 7.00 0a3.5 3.5 0 1 0 -7.00 0zM471.20 407.7a3.5 3.5 0 1 0 7.00 0a3.5 3.5 0 1 0 -7.00 0zM475.90 408.9a3.5 3.5 0 1 0 7.00 0a3.5 3.5 0 1 0 -7.00 0zM479.40 415.9a3.5 3.5 0 1 0 7.00 0a3.5 3.5 0 1 0 -7.00 0zM477.00 421.7a3.5 3.5 0 1 0 7.00 0a3.5 3.5 0 1 0 -7.00 0zM472.40 421.7a3.5 3.5 0 1 0 7.00 0a3.5 3.5 0 1 0 -7.00 0zM468.90 425.2a3.5 3.5 0 1 0 7.00 0a3.5 3.5 0 1 0 -7.00 0zM466.50 429.9a3.5 3.5 0 1 0 7.00 0a3.5 3.5 0 1 0 -7.00 0zM470.00 435.7a3.5 3.5 0 1 0 7.00 0a3.5 3.5 0 1 0 -7.00 0zM473.50 428.7a3.5 3.5 0 1 0 7.00 0a3.5 3.5 0 1 0 -7.00 0zM478.20 428.1a3.5 3.5 0 1 0 7.00 0a3.5 3.5 0 1 0 -7.00 0zM482.90 428.7a3.5 3.5 0 1 0 7.00 0a3.5 3.5 0 1 0 -7.00 0zM482.90 435.7a3.5 3.5 0 1 0 7.00 0a3.5 3.5 0 1 0 -7.00 0zM446.70 424.1a3.5 3.5 0 1 0 7.00 0a3.5 3.5 0 1 0 -7.00 0zM451.40 421.7a3.5 3.5 0 1 0 7.00 0a3.5 3.5 0 1 0 -7.00 0zM456.00 419.4a3.5 3.5 0 1 0 7.00 0a3.5 3.5 0 1 0 -7.00 0zM454.90 426.4a3.5 3.5 0 1 0 7.00 0a3.5 3.5 0 1 0 -7.00 0zM449.00 429.9a3.5 3.5 0 1 0 7.00 0a3.5 3.5 0 1 0 -7.00 0zM444.30 432.2a3.5 3.5 0 1 0 7.00 0a3.5 3.5 0 1 0 -7.00 0zM450.20 433.4a3.5 3.5 0 1 0 7.00 0a3.5 3.5 0 1 0 -7.00 0zM460.70 414.7a3.5 3.5 0 1 0 7.00 0a3.5 3.5 0 1 0 -7.00 0zM466.50 419.4a3.5 3.5 0 1 0 7.00 0a3.5 3.5 0 1 0 -7.00 0zM472.40 414.7a3.5 3.5 0 1 0 7.00 0a3.5 3.5 0 1 0 -7.00 0zM475.90 398.4a3.5 3.5 0 1 0 7.00 0a3.5 3.5 0 1 0 -7.00 0zM480.60 396.0a3.5 3.5 0 1 0 7.00 0a3.5 3.5 0 1 0 -7.00 0zM473.50 400.7a3.5 3.5 0 1 0 7.00 0a3.5 3.5 0 1 0 -7.00 0zM485.20 400.7a3.5 3.5 0 1 0 7.00 0a3.5 3.5 0 1 0 -7.00 0zM481.70 404.2a3.5 3.5 0 1 0 7.00 0a3.5 3.5 0 1 0 -7.00 0zM486.40 407.7a3.5 3.5 0 1 0 7.00 0a3.5 3.5 0 1 0 -7.00 0zM489.90 405.4a3.5 3.5 0 1 0 7.00 0a3.5 3.5 0 1 0 -7.00 0zM492.20 400.7a3.5 3.5 0 1 0 7.00 0a3.5 3.5 0 1 0 -7.00 0zM496.90 405.4a3.5 3.5 0 1 0 7.00 0a3.5 3.5 0 1 0 -7.00 0zM499.20 400.7a3.5 3.5 0 1 0 7.00 0a3.5 3.5 0 1 0 -7.00 0zM501.60 399.5a3.5 3.5 0 1 0 7.00 0a3.5 3.5 0 1 0 -7.00 0zM502.70 404.2a3.5 3.5 0 1 0 7.00 0a3.5 3.5 0 1 0 -7.00 0zM503.90 393.7a3.5 3.5 0 1 0 7.00 0a3.5 3.5 0 1 0 -7.00 0zM501.60 391.4a3.5 3.5 0 1 0 7.00 0a3.5 3.5 0 1 0 -7.00 0zM496.90 389.0a3.5 3.5 0 1 0 7.00 0a3.5 3.5 0 1 0 -7.00 0zM493.40 385.5a3.5 3.5 0 1 0 7.00 0a3.5 3.5 0 1 0 -7.00 0zM494.60 382.0a3.5 3.5 0 1 0 7.00 0a3.5 3.5 0 1 0 -7.00 0zM500.40 377.3a3.5 3.5 0 1 0 7.00 0a3.5 3.5 0 1 0 -7.00 0zM506.20 379.7a3.5 3.5 0 1 0 7.00 0a3.5 3.5 0 1 0 -7.00 0zM509.70 382.0a3.5 3.5 0 1 0 7.00 0a3.5 3.5 0 1 0 -7.00 0zM508.60 389.0a3.5 3.5 0 1 0 7.00 0a3.5 3.5 0 1 0 -7.00 0zM486.40 390.2a3.5 3.5 0 1 0 7.00 0a3.5 3.5 0 1 0 -7.00 0zM489.90 396.0a3.5 3.5 0 1 0 7.00 0a3.5 3.5 0 1 0 -7.00 0zM494.60 393.7a3.5 3.5 0 1 0 7.00 0a3.5 3.5 0 1 0 -7.00 0zM476.50 392.5a3.5 3.5 0 1 0 7.00 0a3.5 3.5 0 1 0 -7.00 0zM485.20 413.0a3.5 3.5 0 1 0 7.00 0a3.5 3.5 0 1 0 -7.00 0zM495.50 415.9a3.5 3.5 0 1 0 7.00 0a3.5 3.5 0 1 0 -7.00 0zM495.70 423.5a3.5 3.5 0 1 0 7.00 0a3.5 3.5 0 1 0 -7.00 0zM491.60 429.3a3.5 3.5 0 1 0 7.00 0a3.5 3.5 0 1 0 -7.00 0zM500.40 428.1a3.5 3.5 0 1 0 7.00 0a3.5 3.5 0 1 0 -7.00 0zM503.90 415.9a3.5 3.5 0 1 0 7.00 0a3.5 3.5 0 1 0 -7.00 0zM508.60 410.0a3.5 3.5 0 1 0 7.00 0a3.5 3.5 0 1 0 -7.00 0zM508.60 419.4a3.5 3.5 0 1 0 7.00 0a3.5 3.5 0 1 0 -7.00 0zM509.70 428.1a3.5 3.5 0 1 0 7.00 0a3.5 3.5 0 1 0 -7.00 0zM506.20 386.7a3.5 3.5 0 1 0 7.00 0a3.5 3.5 0 1 0 -7.00 0zM499.20 385.5a3.5 3.5 0 1 0 7.00 0a3.5 3.5 0 1 0 -7.00 0zM488.70 386.7a3.5 3.5 0 1 0 7.00 0a3.5 3.5 0 1 0 -7.00 0zM478.20 403.0a3.5 3.5 0 1 0 7.00 0a3.5 3.5 0 1 0 -7.00 0zM577.40 325.0a3.5 3.5 0 1 0 7.00 0a3.5 3.5 0 1 0 -7.00 0zM576.20 332.0a3.5 3.5 0 1 0 7.00 0a3.5 3.5 0 1 0 -7.00 0zM578.60 335.5a3.5 3.5 0 1 0 7.00 0a3.5 3.5 0 1 0 -7.00 0zM573.90 340.2a3.5 3.5 0 1 0 7.00 0a3.5 3.5 0 1 0 -7.00 0zM578.60 344.9a3.5 3.5 0 1 0 7.00 0a3.5 3.5 0 1 0 -7.00 0zM573.90 349.5a3.5 3.5 0 1 0 7.00 0a3.5 3.5 0 1 0 -7.00 0zM569.20 346.0a3.5 3.5 0 1 0 7.00 0a3.5 3.5 0 1 0 -7.00 0zM564.60 343.7a3.5 3.5 0 1 0 7.00 0a3.5 3.5 0 1 0 -7.00 0zM561.10 346.0a3.5 3.5 0 1 0 7.00 0a3.5 3.5 0 1 0 -7.00 0zM559.90 350.7a3.5 3.5 0 1 0 7.00 0a3.5 3.5 0 1 0 -7.00 0zM555.20 355.4a3.5 3.5 0 1 0 7.00 0a3.5 3.5 0 1 0 -7.00 0zM550.60 348.4a3.5 3.5 0 1 0 7.00 0a3.5 3.5 0 1 0 -7.00 0zM541.80 354.8a3.5 3.5 0 1 0 7.00 0a3.5 3.5 0 1 0 -7.00 0zM545.90 356.5a3.5 3.5 0 1 0 7.00 0a3.5 3.5 0 1 0 -7.00 0zM548.20 360.0a3.5 3.5 0 1 0 7.00 0a3.5 3.5 0 1 0 -7.00 0zM552.90 358.9a3.5 3.5 0 1 0 7.00 0a3.5 3.5 0 1 0 -7.00 0zM557.60 357.7a3.5 3.5 0 1 0 7.00 0a3.5 3.5 0 1 0 -7.00 0zM562.20 355.4a3.5 3.5 0 1 0 7.00 0a3.5 3.5 0 1 0 -7.00 0zM566.90 354.2a3.5 3.5 0 1 0 7.00 0a3.5 3.5 0 1 0 -7.00 0zM571.60 355.4a3.5 3.5 0 1 0 7.00 0a3.5 3.5 0 1 0 -7.00 0zM575.10 355.4a3.5 3.5 0 1 0 7.00 0a3.5 3.5 0 1 0 -7.00 0zM566.90 362.4a3.5 3.5 0 1 0 7.00 0a3.5 3.5 0 1 0 -7.00 0zM562.20 362.4a3.5 3.5 0 1 0 7.00 0a3.5 3.5 0 1 0 -7.00 0zM557.60 364.7a3.5 3.5 0 1 0 7.00 0a3.5 3.5 0 1 0 -7.00 0zM552.90 365.9a3.5 3.5 0 1 0 7.00 0a3.5 3.5 0 1 0 -7.00 0zM548.20 364.7a3.5 3.5 0 1 0 7.00 0a3.5 3.5 0 1 0 -7.00 0zM543.50 364.7a3.5 3.5 0 1 0 7.00 0a3.5 3.5 0 1 0 -7.00 0zM538.90 363.5a3.5 3.5 0 1 0 7.00 0a3.5 3.5 0 1 0 -7.00 0zM535.40 362.4a3.5 3.5 0 1 0 7.00 0a3.5 3.5 0 1 0 -7.00 0zM530.70 362.4a3.5 3.5 0 1 0 7.00 0a3.5 3.5 0 1 0 -7.00 0zM526.00 364.7a3.5 3.5 0 1 0 7.00 0a3.5 3.5 0 1 0 -7.00 0zM519.00 365.3a3.5 3.5 0 1 0 7.00 0a3.5 3.5 0 1 0 -7.00 0zM509.90 364.7a3.5 3.5 0 1 0 7.00 0a3.5 3.5 0 1 0 -7.00 0zM515.50 374.1a3.5 3.5 0 1 0 7.00 0a3.5 3.5 0 1 0 -7.00 0zM520.20 372.9a3.5 3.5 0 1 0 7.00 0a3.5 3.5 0 1 0 -7.00 0zM524.90 370.5a3.5 3.5 0 1 0 7.00 0a3.5 3.5 0 1 0 -7.00 0zM529.50 369.4a3.5 3.5 0 1 0 7.00 0a3.5 3.5 0 1 0 -7.00 0zM534.20 368.2a3.5 3.5 0 1 0 7.00 0a3.5 3.5 0 1 0 -7.00 0zM538.90 369.4a3.5 3.5 0 1 0 7.00 0a3.5 3.5 0 1 0 -7.00 0zM543.50 369.4a3.5 3.5 0 1 0 7.00 0a3.5 3.5 0 1 0 -7.00 0zM548.20 370.5a3.5 3.5 0 1 0 7.00 0a3.5 3.5 0 1 0 -7.00 0zM552.90 370.5a3.5 3.5 0 1 0 7.00 0a3.5 3.5 0 1 0 -7.00 0zM557.60 369.4a3.5 3.5 0 1 0 7.00 0a3.5 3.5 0 1 0 -7.00 0zM562.20 369.4a3.5 3.5 0 1 0 7.00 0a3.5 3.5 0 1 0 -7.00 0zM566.90 369.4a3.5 3.5 0 1 0 7.00 0a3.5 3.5 0 1 0 -7.00 0zM571.60 371.7a3.5 3.5 0 1 0 7.00 0a3.5 3.5 0 1 0 -7.00 0zM577.40 372.3a3.5 3.5 0 1 0 7.00 0a3.5 3.5 0 1 0 -7.00 0zM568.10 375.2a3.5 3.5 0 1 0 7.00 0a3.5 3.5 0 1 0 -7.00 0zM562.20 376.4a3.5 3.5 0 1 0 7.00 0a3.5 3.5 0 1 0 -7.00 0zM557.60 375.2a3.5 3.5 0 1 0 7.00 0a3.5 3.5 0 1 0 -7.00 0zM552.90 375.2a3.5 3.5 0 1 0 7.00 0a3.5 3.5 0 1 0 -7.00 0zM548.20 376.4a3.5 3.5 0 1 0 7.00 0a3.5 3.5 0 1 0 -7.00 0zM543.50 377.6a3.5 3.5 0 1 0 7.00 0a3.5 3.5 0 1 0 -7.00 0zM538.90 379.9a3.5 3.5 0 1 0 7.00 0a3.5 3.5 0 1 0 -7.00 0zM534.20 378.7a3.5 3.5 0 1 0 7.00 0a3.5 3.5 0 1 0 -7.00 0zM530.70 378.7a3.5 3.5 0 1 0 7.00 0a3.5 3.5 0 1 0 -7.00 0zM524.90 376.4a3.5 3.5 0 1 0 7.00 0a3.5 3.5 0 1 0 -7.00 0zM520.20 376.4a3.5 3.5 0 1 0 7.00 0a3.5 3.5 0 1 0 -7.00 0zM521.40 383.4a3.5 3.5 0 1 0 7.00 0a3.5 3.5 0 1 0 -7.00 0zM516.70 386.9a3.5 3.5 0 1 0 7.00 0a3.5 3.5 0 1 0 -7.00 0zM503.80 378.7a3.5 3.5 0 1 0 7.00 0a3.5 3.5 0 1 0 -7.00 0zM510.80 388.1a3.5 3.5 0 1 0 7.00 0a3.5 3.5 0 1 0 -7.00 0zM556.40 383.4a3.5 3.5 0 1 0 7.00 0a3.5 3.5 0 1 0 -7.00 0zM561.10 384.6a3.5 3.5 0 1 0 7.00 0a3.5 3.5 0 1 0 -7.00 0zM565.70 385.7a3.5 3.5 0 1 0 7.00 0a3.5 3.5 0 1 0 -7.00 0zM545.30 386.7a3.5 3.5 0 1 0 7.00 0a3.5 3.5 0 1 0 -7.00 0zM527.80 384.8a3.5 3.5 0 1 0 7.00 0a3.5 3.5 0 1 0 -7.00 0zM537.70 388.1a3.5 3.5 0 1 0 7.00 0a3.5 3.5 0 1 0 -7.00 0zM524.90 392.7a3.5 3.5 0 1 0 7.00 0a3.5 3.5 0 1 0 -7.00 0zM528.40 397.4a3.5 3.5 0 1 0 7.00 0a3.5 3.5 0 1 0 -7.00 0zM536.50 395.1a3.5 3.5 0 1 0 7.00 0a3.5 3.5 0 1 0 -7.00 0zM540.00 399.7a3.5 3.5 0 1 0 7.00 0a3.5 3.5 0 1 0 -7.00 0zM545.90 396.2a3.5 3.5 0 1 0 7.00 0a3.5 3.5 0 1 0 -7.00 0zM533.00 399.7a3.5 3.5 0 1 0 7.00 0a3.5 3.5 0 1 0 -7.00 0zM516.70 398.6a3.5 3.5 0 1 0 7.00 0a3.5 3.5 0 1 0 -7.00 0zM561.10 397.4a3.5 3.5 0 1 0 7.00 0a3.5 3.5 0 1 0 -7.00 0zM524.90 404.4a3.5 3.5 0 1 0 7.00 0a3.5 3.5 0 1 0 -7.00 0zM517.90 378.7a3.5 3.5 0 1 0 7.00 0a3.5 3.5 0 1 0 -7.00 0zM513.20 376.4a3.5 3.5 0 1 0 7.00 0a3.5 3.5 0 1 0 -7.00 0zM522.50 367.0a3.5 3.5 0 1 0 7.00 0a3.5 3.5 0 1 0 -7.00 0zM528.40 367.0a3.5 3.5 0 1 0 7.00 0a3.5 3.5 0 1 0 -7.00 0zM586.00 324.3a3.5 3.5 0 1 0 7.00 0a3.5 3.5 0 1 0 -7.00 0zM591.30 319.6a3.5 3.5 0 1 0 7.00 0a3.5 3.5 0 1 0 -7.00 0zM594.20 318.4a3.5 3.5 0 1 0 7.00 0a3.5 3.5 0 1 0 -7.00 0zM593.00 326.0a3.5 3.5 0 1 0 7.00 0a3.5 3.5 0 1 0 -7.00 0zM593.00 329.5a3.5 3.5 0 1 0 7.00 0a3.5 3.5 0 1 0 -7.00 0zM587.00 332.8a3.5 3.5 0 1 0 7.00 0a3.5 3.5 0 1 0 -7.00 0zM579.00 333.0a3.5 3.5 0 1 0 7.00 0a3.5 3.5 0 1 0 -7.00 0zM582.50 342.4a3.5 3.5 0 1 0 7.00 0a3.5 3.5 0 1 0 -7.00 0zM583.70 348.2a3.5 3.5 0 1 0 7.00 0a3.5 3.5 0 1 0 -7.00 0zM589.50 345.9a3.5 3.5 0 1 0 7.00 0a3.5 3.5 0 1 0 -7.00 0zM591.90 338.9a3.5 3.5 0 1 0 7.00 0a3.5 3.5 0 1 0 -7.00 0zM597.70 337.7a3.5 3.5 0 1 0 7.00 0a3.5 3.5 0 1 0 -7.00 0zM602.40 335.4a3.5 3.5 0 1 0 7.00 0a3.5 3.5 0 1 0 -7.00 0zM607.00 334.2a3.5 3.5 0 1 0 7.00 0a3.5 3.5 0 1 0 -7.00 0zM608.20 345.9a3.5 3.5 0 1 0 7.00 0a3.5 3.5 0 1 0 -7.00 0zM621.10 352.3a3.5 3.5 0 1 0 7.00 0a3.5 3.5 0 1 0 -7.00 0zM595.40 350.5a3.5 3.5 0 1 0 7.00 0a3.5 3.5 0 1 0 -7.00 0zM595.40 352.9a3.5 3.5 0 1 0 7.00 0a3.5 3.5 0 1 0 -7.00 0zM584.90 354.1a3.5 3.5 0 1 0 7.00 0a3.5 3.5 0 1 0 -7.00 0zM584.90 357.6a3.5 3.5 0 1 0 7.00 0a3.5 3.5 0 1 0 -7.00 0zM570.80 351.7a3.5 3.5 0 1 0 7.00 0a3.5 3.5 0 1 0 -7.00 0zM566.20 351.7a3.5 3.5 0 1 0 7.00 0a3.5 3.5 0 1 0 -7.00 0zM587.80 371.0a3.5 3.5 0 1 0 7.00 0a3.5 3.5 0 1 0 -7.00 0zM592.10 366.7a3.5 3.5 0 1 0 7.00 0a3.5 3.5 0 1 0 -7.00 0zM586.60 379.7a3.5 3.5 0 1 0 7.00 0a3.5 3.5 0 1 0 -7.00 0zM563.80 380.9a3.5 3.5 0 1 0 7.00 0a3.5 3.5 0 1 0 -7.00 0zM573.20 345.9a3.5 3.5 0 1 0 7.00 0a3.5 3.5 0 1 0 -7.00 0zM568.50 348.2a3.5 3.5 0 1 0 7.00 0a3.5 3.5 0 1 0 -7.00 0zM577.40 375.0a3.5 3.5 0 1 0 7.00 0a3.5 3.5 0 1 0 -7.00 0zM536.50 377.3a3.5 3.5 0 1 0 7.00 0a3.5 3.5 0 1 0 -7.00 0zM559.90 376.2a3.5 3.5 0 1 0 7.00 0a3.5 3.5 0 1 0 -7.00 0zM538.80 393.7a3.5 3.5 0 1 0 7.00 0a3.5 3.5 0 1 0 -7.00 0zM558.70 407.7a3.5 3.5 0 1 0 7.00 0a3.5 3.5 0 1 0 -7.00 0zM555.20 412.4a3.5 3.5 0 1 0 7.00 0a3.5 3.5 0 1 0 -7.00 0zM549.90 411.2a3.5 3.5 0 1 0 7.00 0a3.5 3.5 0 1 0 -7.00 0zM538.80 410.0a3.5 3.5 0 1 0 7.00 0a3.5 3.5 0 1 0 -7.00 0zM542.30 416.5a3.5 3.5 0 1 0 7.00 0a3.5 3.5 0 1 0 -7.00 0zM572.90 412.6a3.5 3.5 0 1 0 7.00 0a3.5 3.5 0 1 0 -7.00 0zM566.90 418.4a3.5 3.5 0 1 0 7.00 0a3.5 3.5 0 1 0 -7.00 0zM496.40 383.5a3.5 3.5 0 1 0 7.00 0a3.5 3.5 0 1 0 -7.00 0zM501.00 382.3a3.5 3.5 0 1 0 7.00 0a3.5 3.5 0 1 0 -7.00 0zM497.50 391.7a3.5 3.5 0 1 0 7.00 0a3.5 3.5 0 1 0 -7.00 0zM494.00 389.3a3.5 3.5 0 1 0 7.00 0a3.5 3.5 0 1 0 -7.00 0zM490.50 392.8a3.5 3.5 0 1 0 7.00 0a3.5 3.5 0 1 0 -7.00 0zM485.80 395.2a3.5 3.5 0 1 0 7.00 0a3.5 3.5 0 1 0 -7.00 0zM477.70 399.9a3.5 3.5 0 1 0 7.00 0a3.5 3.5 0 1 0 -7.00 0zM496.40 398.7a3.5 3.5 0 1 0 7.00 0a3.5 3.5 0 1 0 -7.00 0zM478.80 408.0a3.5 3.5 0 1 0 7.00 0a3.5 3.5 0 1 0 -7.00 0zM511.50 409.2a3.5 3.5 0 1 0 7.00 0a3.5 3.5 0 1 0 -7.00 0zM517.00 420.9a3.5 3.5 0 1 0 7.00 0a3.5 3.5 0 1 0 -7.00 0zM519.10 411.5a3.5 3.5 0 1 0 7.00 0a3.5 3.5 0 1 0 -7.00 0zM523.20 413.9a3.5 3.5 0 1 0 7.00 0a3.5 3.5 0 1 0 -7.00 0zM525.60 408.0a3.5 3.5 0 1 0 7.00 0a3.5 3.5 0 1 0 -7.00 0zM527.90 405.7a3.5 3.5 0 1 0 7.00 0a3.5 3.5 0 1 0 -7.00 0zM532.60 406.9a3.5 3.5 0 1 0 7.00 0a3.5 3.5 0 1 0 -7.00 0zM539.60 382.3a3.5 3.5 0 1 0 7.00 0a3.5 3.5 0 1 0 -7.00 0zM530.20 391.7a3.5 3.5 0 1 0 7.00 0a3.5 3.5 0 1 0 -7.00 0zM537.20 390.5a3.5 3.5 0 1 0 7.00 0a3.5 3.5 0 1 0 -7.00 0zM590.00 323.5a3.5 3.5 0 1 0 7.00 0a3.5 3.5 0 1 0 -7.00 0zM564.00 348.5a3.5 3.5 0 1 0 7.00 0a3.5 3.5 0 1 0 -7.00 0zM525.50 380.8a3.5 3.5 0 1 0 7.00 0a3.5 3.5 0 1 0 -7.00 0zM541.00 386.5a3.5 3.5 0 1 0 7.00 0a3.5 3.5 0 1 0 -7.00 0zM499.50 395.5a3.5 3.5 0 1 0 7.00 0a3.5 3.5 0 1 0 -7.00 0zM532.50 395.5a3.5 3.5 0 1 0 7.00 0a3.5 3.5 0 1 0 -7.00 0zM542.00 396.0a3.5 3.5 0 1 0 7.00 0a3.5 3.5 0 1 0 -7.00 0zM470.50 403.5a3.5 3.5 0 1 0 7.00 0a3.5 3.5 0 1 0 -7.00 0zM474.50 405.0a3.5 3.5 0 1 0 7.00 0a3.5 3.5 0 1 0 -7.00 0zM467.30 405.8a3.5 3.5 0 1 0 7.00 0a3.5 3.5 0 1 0 -7.00 0zM468.30 415.5a3.5 3.5 0 1 0 7.00 0a3.5 3.5 0 1 0 -7.00 0zM475.00 418.0a3.5 3.5 0 1 0 7.00 0a3.5 3.5 0 1 0 -7.00 0zM470.00 418.5a3.5 3.5 0 1 0 7.00 0a3.5 3.5 0 1 0 -7.00 0zM450.70 426.2a3.5 3.5 0 1 0 7.00 0a3.5 3.5 0 1 0 -7.00 0zM453.50 430.5a3.5 3.5 0 1 0 7.00 0a3.5 3.5 0 1 0 -7.00 0z"/>
<path fill="#92D050" d="M112.30 634.3a3.3 3.3 0 1 0 6.60 0a3.3 3.3 0 1 0 -6.60 0zM117.00 641.9a3.3 3.3 0 1 0 6.60 0a3.3 3.3 0 1 0 -6.60 0zM122.20 636.1a3.3 3.3 0 1 0 6.60 0a3.3 3.3 0 1 0 -6.60 0zM127.50 633.2a3.3 3.3 0 1 0 6.60 0a3.3 3.3 0 1 0 -6.60 0zM132.80 634.9a3.3 3.3 0 1 0 6.60 0a3.3 3.3 0 1 0 -6.60 0zM137.40 634.3a3.3 3.3 0 1 0 6.60 0a3.3 3.3 0 1 0 -6.60 0zM139.80 627.3a3.3 3.3 0 1 0 6.60 0a3.3 3.3 0 1 0 -6.60 0zM144.40 628.5a3.3 3.3 0 1 0 6.60 0a3.3 3.3 0 1 0 -6.60 0zM149.10 628.5a3.3 3.3 0 1 0 6.60 0a3.3 3.3 0 1 0 -6.60 0zM152.60 632.0a3.3 3.3 0 1 0 6.60 0a3.3 3.3 0 1 0 -6.60 0zM151.40 636.7a3.3 3.3 0 1 0 6.60 0a3.3 3.3 0 1 0 -6.60 0zM146.80 639.0a3.3 3.3 0 1 0 6.60 0a3.3 3.3 0 1 0 -6.60 0zM142.10 636.7a3.3 3.3 0 1 0 6.60 0a3.3 3.3 0 1 0 -6.60 0zM137.40 640.2a3.3 3.3 0 1 0 6.60 0a3.3 3.3 0 1 0 -6.60 0zM132.80 640.2a3.3 3.3 0 1 0 6.60 0a3.3 3.3 0 1 0 -6.60 0zM128.10 641.4a3.3 3.3 0 1 0 6.60 0a3.3 3.3 0 1 0 -6.60 0zM123.40 643.7a3.3 3.3 0 1 0 6.60 0a3.3 3.3 0 1 0 -6.60 0zM121.10 646.0a3.3 3.3 0 1 0 6.60 0a3.3 3.3 0 1 0 -6.60 0zM130.40 648.9a3.3 3.3 0 1 0 6.60 0a3.3 3.3 0 1 0 -6.60 0zM138.60 644.9a3.3 3.3 0 1 0 6.60 0a3.3 3.3 0 1 0 -6.60 0zM143.30 647.8a3.3 3.3 0 1 0 6.60 0a3.3 3.3 0 1 0 -6.60 0zM149.10 643.7a3.3 3.3 0 1 0 6.60 0a3.3 3.3 0 1 0 -6.60 0zM153.80 642.5a3.3 3.3 0 1 0 6.60 0a3.3 3.3 0 1 0 -6.60 0zM154.90 649.5a3.3 3.3 0 1 0 6.60 0a3.3 3.3 0 1 0 -6.60 0zM153.80 651.9a3.3 3.3 0 1 0 6.60 0a3.3 3.3 0 1 0 -6.60 0zM128.10 661.2a3.3 3.3 0 1 0 6.60 0a3.3 3.3 0 1 0 -6.60 0zM132.80 661.2a3.3 3.3 0 1 0 6.60 0a3.3 3.3 0 1 0 -6.60 0zM137.40 661.2a3.3 3.3 0 1 0 6.60 0a3.3 3.3 0 1 0 -6.60 0zM142.10 661.2a3.3 3.3 0 1 0 6.60 0a3.3 3.3 0 1 0 -6.60 0zM146.20 658.9a3.3 3.3 0 1 0 6.60 0a3.3 3.3 0 1 0 -6.60 0zM131.60 665.9a3.3 3.3 0 1 0 6.60 0a3.3 3.3 0 1 0 -6.60 0zM125.80 670.0a3.3 3.3 0 1 0 6.60 0a3.3 3.3 0 1 0 -6.60 0zM129.30 667.0a3.3 3.3 0 1 0 6.60 0a3.3 3.3 0 1 0 -6.60 0zM136.30 663.5a3.3 3.3 0 1 0 6.60 0a3.3 3.3 0 1 0 -6.60 0zM145.00 677.0a3.3 3.3 0 1 0 6.60 0a3.3 3.3 0 1 0 -6.60 0zM90.70 663.5a3.3 3.3 0 1 0 6.60 0a3.3 3.3 0 1 0 -6.60 0zM96.60 664.7a3.3 3.3 0 1 0 6.60 0a3.3 3.3 0 1 0 -6.60 0zM102.40 664.7a3.3 3.3 0 1 0 6.60 0a3.3 3.3 0 1 0 -6.60 0zM108.20 665.9a3.3 3.3 0 1 0 6.60 0a3.3 3.3 0 1 0 -6.60 0zM114.10 662.4a3.3 3.3 0 1 0 6.60 0a3.3 3.3 0 1 0 -6.60 0zM117.60 667.0a3.3 3.3 0 1 0 6.60 0a3.3 3.3 0 1 0 -6.60 0zM116.40 670.5a3.3 3.3 0 1 0 6.60 0a3.3 3.3 0 1 0 -6.60 0zM111.70 671.7a3.3 3.3 0 1 0 6.60 0a3.3 3.3 0 1 0 -6.60 0zM107.10 674.1a3.3 3.3 0 1 0 6.60 0a3.3 3.3 0 1 0 -6.60 0zM103.60 676.4a3.3 3.3 0 1 0 6.60 0a3.3 3.3 0 1 0 -6.60 0zM100.10 678.7a3.3 3.3 0 1 0 6.60 0a3.3 3.3 0 1 0 -6.60 0zM95.40 681.1a3.3 3.3 0 1 0 6.60 0a3.3 3.3 0 1 0 -6.60 0zM90.70 683.4a3.3 3.3 0 1 0 6.60 0a3.3 3.3 0 1 0 -6.60 0zM86.00 685.7a3.3 3.3 0 1 0 6.60 0a3.3 3.3 0 1 0 -6.60 0zM82.50 685.7a3.3 3.3 0 1 0 6.60 0a3.3 3.3 0 1 0 -6.60 0zM81.40 681.1a3.3 3.3 0 1 0 6.60 0a3.3 3.3 0 1 0 -6.60 0zM84.90 678.7a3.3 3.3 0 1 0 6.60 0a3.3 3.3 0 1 0 -6.60 0zM89.50 676.4a3.3 3.3 0 1 0 6.60 0a3.3 3.3 0 1 0 -6.60 0zM94.20 675.2a3.3 3.3 0 1 0 6.60 0a3.3 3.3 0 1 0 -6.60 0zM98.90 672.9a3.3 3.3 0 1 0 6.60 0a3.3 3.3 0 1 0 -6.60 0zM103.60 670.5a3.3 3.3 0 1 0 6.60 0a3.3 3.3 0 1 0 -6.60 0zM108.20 669.4a3.3 3.3 0 1 0 6.60 0a3.3 3.3 0 1 0 -6.60 0zM89.50 669.4a3.3 3.3 0 1 0 6.60 0a3.3 3.3 0 1 0 -6.60 0zM95.40 670.5a3.3 3.3 0 1 0 6.60 0a3.3 3.3 0 1 0 -6.60 0zM100.10 668.2a3.3 3.3 0 1 0 6.60 0a3.3 3.3 0 1 0 -6.60 0zM104.70 667.0a3.3 3.3 0 1 0 6.60 0a3.3 3.3 0 1 0 -6.60 0zM88.40 671.7a3.3 3.3 0 1 0 6.60 0a3.3 3.3 0 1 0 -6.60 0zM91.90 678.7a3.3 3.3 0 1 0 6.60 0a3.3 3.3 0 1 0 -6.60 0zM96.60 677.6a3.3 3.3 0 1 0 6.60 0a3.3 3.3 0 1 0 -6.60 0zM87.20 681.1a3.3 3.3 0 1 0 6.60 0a3.3 3.3 0 1 0 -6.60 0zM83.70 683.4a3.3 3.3 0 1 0 6.60 0a3.3 3.3 0 1 0 -6.60 0zM101.20 681.1a3.3 3.3 0 1 0 6.60 0a3.3 3.3 0 1 0 -6.60 0zM105.90 679.9a3.3 3.3 0 1 0 6.60 0a3.3 3.3 0 1 0 -6.60 0zM115.20 678.1a3.3 3.3 0 1 0 6.60 0a3.3 3.3 0 1 0 -6.60 0zM111.70 667.0a3.3 3.3 0 1 0 6.60 0a3.3 3.3 0 1 0 -6.60 0zM88.40 664.7a3.3 3.3 0 1 0 6.60 0a3.3 3.3 0 1 0 -6.60 0zM93.10 665.9a3.3 3.3 0 1 0 6.60 0a3.3 3.3 0 1 0 -6.60 0zM180.70 583.4a3.3 3.3 0 1 0 6.60 0a3.3 3.3 0 1 0 -6.60 0zM199.80 592.8a3.3 3.3 0 1 0 6.60 0a3.3 3.3 0 1 0 -6.60 0zM215.20 584.9a3.3 3.3 0 1 0 6.60 0a3.3 3.3 0 1 0 -6.60 0zM174.10 603.3a3.3 3.3 0 1 0 6.60 0a3.3 3.3 0 1 0 -6.60 0zM171.70 610.9a3.3 3.3 0 1 0 6.60 0a3.3 3.3 0 1 0 -6.60 0zM185.80 610.3a3.3 3.3 0 1 0 6.60 0a3.3 3.3 0 1 0 -6.60 0zM192.80 609.7a3.3 3.3 0 1 0 6.60 0a3.3 3.3 0 1 0 -6.60 0zM202.10 615.0a3.3 3.3 0 1 0 6.60 0a3.3 3.3 0 1 0 -6.60 0zM208.50 612.0a3.3 3.3 0 1 0 6.60 0a3.3 3.3 0 1 0 -6.60 0zM195.10 616.7a3.3 3.3 0 1 0 6.60 0a3.3 3.3 0 1 0 -6.60 0zM190.40 615.5a3.3 3.3 0 1 0 6.60 0a3.3 3.3 0 1 0 -6.60 0zM185.80 615.5a3.3 3.3 0 1 0 6.60 0a3.3 3.3 0 1 0 -6.60 0zM181.10 614.4a3.3 3.3 0 1 0 6.60 0a3.3 3.3 0 1 0 -6.60 0zM176.40 614.4a3.3 3.3 0 1 0 6.60 0a3.3 3.3 0 1 0 -6.60 0zM171.70 616.7a3.3 3.3 0 1 0 6.60 0a3.3 3.3 0 1 0 -6.60 0zM167.10 617.9a3.3 3.3 0 1 0 6.60 0a3.3 3.3 0 1 0 -6.60 0zM163.60 620.2a3.3 3.3 0 1 0 6.60 0a3.3 3.3 0 1 0 -6.60 0zM160.10 621.4a3.3 3.3 0 1 0 6.60 0a3.3 3.3 0 1 0 -6.60 0zM151.90 619.1a3.3 3.3 0 1 0 6.60 0a3.3 3.3 0 1 0 -6.60 0zM144.90 621.4a3.3 3.3 0 1 0 6.60 0a3.3 3.3 0 1 0 -6.60 0zM140.20 624.9a3.3 3.3 0 1 0 6.60 0a3.3 3.3 0 1 0 -6.60 0zM136.70 628.4a3.3 3.3 0 1 0 6.60 0a3.3 3.3 0 1 0 -6.60 0zM143.70 630.7a3.3 3.3 0 1 0 6.60 0a3.3 3.3 0 1 0 -6.60 0zM154.20 626.1a3.3 3.3 0 1 0 6.60 0a3.3 3.3 0 1 0 -6.60 0zM158.90 628.4a3.3 3.3 0 1 0 6.60 0a3.3 3.3 0 1 0 -6.60 0zM163.60 624.9a3.3 3.3 0 1 0 6.60 0a3.3 3.3 0 1 0 -6.60 0zM168.20 623.7a3.3 3.3 0 1 0 6.60 0a3.3 3.3 0 1 0 -6.60 0zM172.90 621.4a3.3 3.3 0 1 0 6.60 0a3.3 3.3 0 1 0 -6.60 0zM177.60 620.2a3.3 3.3 0 1 0 6.60 0a3.3 3.3 0 1 0 -6.60 0zM182.20 620.2a3.3 3.3 0 1 0 6.60 0a3.3 3.3 0 1 0 -6.60 0zM188.10 620.2a3.3 3.3 0 1 0 6.60 0a3.3 3.3 0 1 0 -6.60 0zM193.90 621.4a3.3 3.3 0 1 0 6.60 0a3.3 3.3 0 1 0 -6.60 0zM192.80 627.2a3.3 3.3 0 1 0 6.60 0a3.3 3.3 0 1 0 -6.60 0zM188.10 627.2a3.3 3.3 0 1 0 6.60 0a3.3 3.3 0 1 0 -6.60 0zM183.40 626.1a3.3 3.3 0 1 0 6.60 0a3.3 3.3 0 1 0 -6.60 0zM178.70 626.1a3.3 3.3 0 1 0 6.60 0a3.3 3.3 0 1 0 -6.60 0zM174.10 627.2a3.3 3.3 0 1 0 6.60 0a3.3 3.3 0 1 0 -6.60 0zM169.40 629.6a3.3 3.3 0 1 0 6.60 0a3.3 3.3 0 1 0 -6.60 0zM164.70 630.7a3.3 3.3 0 1 0 6.60 0a3.3 3.3 0 1 0 -6.60 0zM160.10 631.9a3.3 3.3 0 1 0 6.60 0a3.3 3.3 0 1 0 -6.60 0zM148.40 633.1a3.3 3.3 0 1 0 6.60 0a3.3 3.3 0 1 0 -6.60 0zM139.00 637.7a3.3 3.3 0 1 0 6.60 0a3.3 3.3 0 1 0 -6.60 0zM136.70 642.4a3.3 3.3 0 1 0 6.60 0a3.3 3.3 0 1 0 -6.60 0zM142.50 643.6a3.3 3.3 0 1 0 6.60 0a3.3 3.3 0 1 0 -6.60 0zM157.70 640.1a3.3 3.3 0 1 0 6.60 0a3.3 3.3 0 1 0 -6.60 0zM162.40 637.7a3.3 3.3 0 1 0 6.60 0a3.3 3.3 0 1 0 -6.60 0zM167.10 635.4a3.3 3.3 0 1 0 6.60 0a3.3 3.3 0 1 0 -6.60 0zM171.70 633.1a3.3 3.3 0 1 0 6.60 0a3.3 3.3 0 1 0 -6.60 0zM176.40 633.1a3.3 3.3 0 1 0 6.60 0a3.3 3.3 0 1 0 -6.60 0zM181.10 631.9a3.3 3.3 0 1 0 6.60 0a3.3 3.3 0 1 0 -6.60 0zM186.90 631.9a3.3 3.3 0 1 0 6.60 0a3.3 3.3 0 1 0 -6.60 0zM177.00 638.3a3.3 3.3 0 1 0 6.60 0a3.3 3.3 0 1 0 -6.60 0zM164.70 644.7a3.3 3.3 0 1 0 6.60 0a3.3 3.3 0 1 0 -6.60 0zM160.10 645.9a3.3 3.3 0 1 0 6.60 0a3.3 3.3 0 1 0 -6.60 0zM155.40 647.1a3.3 3.3 0 1 0 6.60 0a3.3 3.3 0 1 0 -6.60 0zM202.10 630.1a3.3 3.3 0 1 0 6.60 0a3.3 3.3 0 1 0 -6.60 0zM206.80 630.1a3.3 3.3 0 1 0 6.60 0a3.3 3.3 0 1 0 -6.60 0zM212.60 627.2a3.3 3.3 0 1 0 6.60 0a3.3 3.3 0 1 0 -6.60 0zM216.10 628.4a3.3 3.3 0 1 0 6.60 0a3.3 3.3 0 1 0 -6.60 0zM177.60 629.6a3.3 3.3 0 1 0 6.60 0a3.3 3.3 0 1 0 -6.60 0zM163.60 634.2a3.3 3.3 0 1 0 6.60 0a3.3 3.3 0 1 0 -6.60 0zM240.00 560.6a3.3 3.3 0 1 0 6.60 0a3.3 3.3 0 1 0 -6.60 0zM254.10 573.0a3.3 3.3 0 1 0 6.60 0a3.3 3.3 0 1 0 -6.60 0zM248.70 580.3a3.3 3.3 0 1 0 6.60 0a3.3 3.3 0 1 0 -6.60 0zM275.30 590.5a3.3 3.3 0 1 0 6.60 0a3.3 3.3 0 1 0 -6.60 0zM218.40 606.8a3.3 3.3 0 1 0 6.60 0a3.3 3.3 0 1 0 -6.60 0zM238.80 606.8a3.3 3.3 0 1 0 6.60 0a3.3 3.3 0 1 0 -6.60 0zM234.90 614.6a3.3 3.3 0 1 0 6.60 0a3.3 3.3 0 1 0 -6.60 0zM252.70 627.5a3.3 3.3 0 1 0 6.60 0a3.3 3.3 0 1 0 -6.60 0zM300.40 630.1a3.3 3.3 0 1 0 6.60 0a3.3 3.3 0 1 0 -6.60 0zM211.80 630.4a3.3 3.3 0 1 0 6.60 0a3.3 3.3 0 1 0 -6.60 0zM218.70 629.4a3.3 3.3 0 1 0 6.60 0a3.3 3.3 0 1 0 -6.60 0zM234.90 658.4a3.3 3.3 0 1 0 6.60 0a3.3 3.3 0 1 0 -6.60 0zM245.40 658.4a3.3 3.3 0 1 0 6.60 0a3.3 3.3 0 1 0 -6.60 0zM293.10 662.3a3.3 3.3 0 1 0 6.60 0a3.3 3.3 0 1 0 -6.60 0zM136.10 632.2a3.3 3.3 0 1 0 6.60 0a3.3 3.3 0 1 0 -6.60 0zM136.10 645.1a3.3 3.3 0 1 0 6.60 0a3.3 3.3 0 1 0 -6.60 0zM162.90 646.2a3.3 3.3 0 1 0 6.60 0a3.3 3.3 0 1 0 -6.60 0zM166.40 642.7a3.3 3.3 0 1 0 6.60 0a3.3 3.3 0 1 0 -6.60 0zM157.10 635.7a3.3 3.3 0 1 0 6.60 0a3.3 3.3 0 1 0 -6.60 0zM152.40 634.6a3.3 3.3 0 1 0 6.60 0a3.3 3.3 0 1 0 -6.60 0zM143.10 633.4a3.3 3.3 0 1 0 6.60 0a3.3 3.3 0 1 0 -6.60 0zM146.60 626.4a3.3 3.3 0 1 0 6.60 0a3.3 3.3 0 1 0 -6.60 0zM161.80 626.4a3.3 3.3 0 1 0 6.60 0a3.3 3.3 0 1 0 -6.60 0zM166.40 626.4a3.3 3.3 0 1 0 6.60 0a3.3 3.3 0 1 0 -6.60 0zM171.10 624.1a3.3 3.3 0 1 0 6.60 0a3.3 3.3 0 1 0 -6.60 0zM120.90 641.6a3.3 3.3 0 1 0 6.60 0a3.3 3.3 0 1 0 -6.60 0zM133.70 638.1a3.3 3.3 0 1 0 6.60 0a3.3 3.3 0 1 0 -6.60 0zM175.80 670.1a3.3 3.3 0 1 0 6.60 0a3.3 3.3 0 1 0 -6.60 0zM175.20 617.5a3.3 3.3 0 1 0 6.60 0a3.3 3.3 0 1 0 -6.60 0zM180.20 617.5a3.3 3.3 0 1 0 6.60 0a3.3 3.3 0 1 0 -6.60 0zM191.20 618.5a3.3 3.3 0 1 0 6.60 0a3.3 3.3 0 1 0 -6.60 0zM169.20 620.5a3.3 3.3 0 1 0 6.60 0a3.3 3.3 0 1 0 -6.60 0zM175.50 623.8a3.3 3.3 0 1 0 6.60 0a3.3 3.3 0 1 0 -6.60 0zM181.20 623.5a3.3 3.3 0 1 0 6.60 0a3.3 3.3 0 1 0 -6.60 0zM143.70 624.5a3.3 3.3 0 1 0 6.60 0a3.3 3.3 0 1 0 -6.60 0zM184.20 629.5a3.3 3.3 0 1 0 6.60 0a3.3 3.3 0 1 0 -6.60 0zM146.20 635.5a3.3 3.3 0 1 0 6.60 0a3.3 3.3 0 1 0 -6.60 0zM154.20 639.0a3.3 3.3 0 1 0 6.60 0a3.3 3.3 0 1 0 -6.60 0zM150.70 640.5a3.3 3.3 0 1 0 6.60 0a3.3 3.3 0 1 0 -6.60 0zM157.20 644.0a3.3 3.3 0 1 0 6.60 0a3.3 3.3 0 1 0 -6.60 0zM91.90 672.2a3.3 3.3 0 1 0 6.60 0a3.3 3.3 0 1 0 -6.60 0z"/>
<path fill="#00B0F0" d="M468.25 625.6a3.45 3.45 0 1 0 6.90 0a3.45 3.45 0 1 0 -6.90 0zM472.95 630.8a3.45 3.45 0 1 0 6.90 0a3.45 3.45 0 1 0 -6.90 0zM482.45 626.5a3.45 3.45 0 1 0 6.90 0a3.45 3.45 0 1 0 -6.90 0zM488.65 630.5a3.45 3.45 0 1 0 6.90 0a3.45 3.45 0 1 0 -6.90 0zM481.05 632.3a3.45 3.45 0 1 0 6.90 0a3.45 3.45 0 1 0 -6.90 0zM494.55 624.9a3.45 3.45 0 1 0 6.90 0a3.45 3.45 0 1 0 -6.90 0zM500.35 629.7a3.45 3.45 0 1 0 6.90 0a3.45 3.45 0 1 0 -6.90 0zM506.15 627.0a3.45 3.45 0 1 0 6.90 0a3.45 3.45 0 1 0 -6.90 0zM507.75 617.7a3.45 3.45 0 1 0 6.90 0a3.45 3.45 0 1 0 -6.90 0zM510.85 623.0a3.45 3.45 0 1 0 6.90 0a3.45 3.45 0 1 0 -6.90 0zM516.15 629.1a3.45 3.45 0 1 0 6.90 0a3.45 3.45 0 1 0 -6.90 0zM519.65 620.0a3.45 3.45 0 1 0 6.90 0a3.45 3.45 0 1 0 -6.90 0zM524.25 617.5a3.45 3.45 0 1 0 6.90 0a3.45 3.45 0 1 0 -6.90 0zM527.75 619.5a3.45 3.45 0 1 0 6.90 0a3.45 3.45 0 1 0 -6.90 0zM533.65 622.4a3.45 3.45 0 1 0 6.90 0a3.45 3.45 0 1 0 -6.90 0zM532.45 626.5a3.45 3.45 0 1 0 6.90 0a3.45 3.45 0 1 0 -6.90 0zM526.65 631.1a3.45 3.45 0 1 0 6.90 0a3.45 3.45 0 1 0 -6.90 0zM528.95 635.2a3.45 3.45 0 1 0 6.90 0a3.45 3.45 0 1 0 -6.90 0zM535.95 634.1a3.45 3.45 0 1 0 6.90 0a3.45 3.45 0 1 0 -6.90 0zM521.95 639.9a3.45 3.45 0 1 0 6.90 0a3.45 3.45 0 1 0 -6.90 0zM517.25 643.4a3.45 3.45 0 1 0 6.90 0a3.45 3.45 0 1 0 -6.90 0zM519.65 646.9a3.45 3.45 0 1 0 6.90 0a3.45 3.45 0 1 0 -6.90 0zM512.65 638.7a3.45 3.45 0 1 0 6.90 0a3.45 3.45 0 1 0 -6.90 0zM506.75 635.2a3.45 3.45 0 1 0 6.90 0a3.45 3.45 0 1 0 -6.90 0zM503.25 638.7a3.45 3.45 0 1 0 6.90 0a3.45 3.45 0 1 0 -6.90 0zM498.55 635.2a3.45 3.45 0 1 0 6.90 0a3.45 3.45 0 1 0 -6.90 0zM496.25 639.9a3.45 3.45 0 1 0 6.90 0a3.45 3.45 0 1 0 -6.90 0zM491.55 642.2a3.45 3.45 0 1 0 6.90 0a3.45 3.45 0 1 0 -6.90 0zM486.95 641.1a3.45 3.45 0 1 0 6.90 0a3.45 3.45 0 1 0 -6.90 0zM482.25 639.9a3.45 3.45 0 1 0 6.90 0a3.45 3.45 0 1 0 -6.90 0zM484.55 635.2a3.45 3.45 0 1 0 6.90 0a3.45 3.45 0 1 0 -6.90 0zM468.25 636.4a3.45 3.45 0 1 0 6.90 0a3.45 3.45 0 1 0 -6.90 0zM463.55 639.9a3.45 3.45 0 1 0 6.90 0a3.45 3.45 0 1 0 -6.90 0zM458.85 636.4a3.45 3.45 0 1 0 6.90 0a3.45 3.45 0 1 0 -6.90 0zM456.55 634.1a3.45 3.45 0 1 0 6.90 0a3.45 3.45 0 1 0 -6.90 0zM457.75 643.4a3.45 3.45 0 1 0 6.90 0a3.45 3.45 0 1 0 -6.90 0zM463.55 645.7a3.45 3.45 0 1 0 6.90 0a3.45 3.45 0 1 0 -6.90 0zM470.55 650.4a3.45 3.45 0 1 0 6.90 0a3.45 3.45 0 1 0 -6.90 0zM474.05 648.1a3.45 3.45 0 1 0 6.90 0a3.45 3.45 0 1 0 -6.90 0zM479.95 646.9a3.45 3.45 0 1 0 6.90 0a3.45 3.45 0 1 0 -6.90 0zM484.55 648.1a3.45 3.45 0 1 0 6.90 0a3.45 3.45 0 1 0 -6.90 0zM489.25 646.9a3.45 3.45 0 1 0 6.90 0a3.45 3.45 0 1 0 -6.90 0zM495.05 645.7a3.45 3.45 0 1 0 6.90 0a3.45 3.45 0 1 0 -6.90 0zM500.95 645.7a3.45 3.45 0 1 0 6.90 0a3.45 3.45 0 1 0 -6.90 0zM504.45 643.4a3.45 3.45 0 1 0 6.90 0a3.45 3.45 0 1 0 -6.90 0zM507.95 642.2a3.45 3.45 0 1 0 6.90 0a3.45 3.45 0 1 0 -6.90 0zM503.25 649.2a3.45 3.45 0 1 0 6.90 0a3.45 3.45 0 1 0 -6.90 0zM496.25 651.6a3.45 3.45 0 1 0 6.90 0a3.45 3.45 0 1 0 -6.90 0zM488.05 652.7a3.45 3.45 0 1 0 6.90 0a3.45 3.45 0 1 0 -6.90 0zM485.75 657.4a3.45 3.45 0 1 0 6.90 0a3.45 3.45 0 1 0 -6.90 0zM490.45 659.7a3.45 3.45 0 1 0 6.90 0a3.45 3.45 0 1 0 -6.90 0zM472.95 657.4a3.45 3.45 0 1 0 6.90 0a3.45 3.45 0 1 0 -6.90 0zM468.25 655.1a3.45 3.45 0 1 0 6.90 0a3.45 3.45 0 1 0 -6.90 0zM470.55 662.1a3.45 3.45 0 1 0 6.90 0a3.45 3.45 0 1 0 -6.90 0zM477.55 662.1a3.45 3.45 0 1 0 6.90 0a3.45 3.45 0 1 0 -6.90 0zM511.45 661.5a3.45 3.45 0 1 0 6.90 0a3.45 3.45 0 1 0 -6.90 0zM531.25 660.3a3.45 3.45 0 1 0 6.90 0a3.45 3.45 0 1 0 -6.90 0zM545.75 581.3a3.45 3.45 0 1 0 6.90 0a3.45 3.45 0 1 0 -6.90 0zM563.35 599.7a3.45 3.45 0 1 0 6.90 0a3.45 3.45 0 1 0 -6.90 0zM589.85 600.3a3.45 3.45 0 1 0 6.90 0a3.45 3.45 0 1 0 -6.90 0zM591.65 597.4a3.45 3.45 0 1 0 6.90 0a3.45 3.45 0 1 0 -6.90 0zM597.65 595.4a3.45 3.45 0 1 0 6.90 0a3.45 3.45 0 1 0 -6.90 0zM600.95 612.0a3.45 3.45 0 1 0 6.90 0a3.45 3.45 0 1 0 -6.90 0zM539.65 609.4a3.45 3.45 0 1 0 6.90 0a3.45 3.45 0 1 0 -6.90 0zM545.45 611.4a3.45 3.45 0 1 0 6.90 0a3.45 3.45 0 1 0 -6.90 0zM558.35 620.5a3.45 3.45 0 1 0 6.90 0a3.45 3.45 0 1 0 -6.90 0zM537.95 617.2a3.45 3.45 0 1 0 6.90 0a3.45 3.45 0 1 0 -6.90 0zM538.45 623.1a3.45 3.45 0 1 0 6.90 0a3.45 3.45 0 1 0 -6.90 0zM523.85 635.9a3.45 3.45 0 1 0 6.90 0a3.45 3.45 0 1 0 -6.90 0zM631.15 626.0a3.45 3.45 0 1 0 6.90 0a3.45 3.45 0 1 0 -6.90 0zM562.85 669.3a3.45 3.45 0 1 0 6.90 0a3.45 3.45 0 1 0 -6.90 0zM435.95 646.0a3.45 3.45 0 1 0 6.90 0a3.45 3.45 0 1 0 -6.90 0zM447.05 647.7a3.45 3.45 0 1 0 6.90 0a3.45 3.45 0 1 0 -6.90 0zM452.25 645.4a3.45 3.45 0 1 0 6.90 0a3.45 3.45 0 1 0 -6.90 0zM459.25 640.7a3.45 3.45 0 1 0 6.90 0a3.45 3.45 0 1 0 -6.90 0zM434.75 653.6a3.45 3.45 0 1 0 6.90 0a3.45 3.45 0 1 0 -6.90 0zM440.65 652.4a3.45 3.45 0 1 0 6.90 0a3.45 3.45 0 1 0 -6.90 0zM446.45 652.4a3.45 3.45 0 1 0 6.90 0a3.45 3.45 0 1 0 -6.90 0zM418.95 657.7a3.45 3.45 0 1 0 6.90 0a3.45 3.45 0 1 0 -6.90 0zM426.55 658.2a3.45 3.45 0 1 0 6.90 0a3.45 3.45 0 1 0 -6.90 0zM467.45 645.4a3.45 3.45 0 1 0 6.90 0a3.45 3.45 0 1 0 -6.90 0zM407.06 689.3805019051373a3.45 3.45 0 1 0 6.90 0a3.45 3.45 0 1 0 -6.90 0zM413.63 688.7235580081461a3.45 3.45 0 1 0 6.90 0a3.45 3.45 0 1 0 -6.90 0zM420.20 688.0666141111549a3.45 3.45 0 1 0 6.90 0a3.45 3.45 0 1 0 -6.90 0zM426.77 687.4096702141637a3.45 3.45 0 1 0 6.90 0a3.45 3.45 0 1 0 -6.90 0zM435.97 687.4096702141637a3.45 3.45 0 1 0 6.90 0a3.45 3.45 0 1 0 -6.90 0zM443.85 686.0957824201813a3.45 3.45 0 1 0 6.90 0a3.45 3.45 0 1 0 -6.90 0zM451.73 684.7818946261989a3.45 3.45 0 1 0 6.90 0a3.45 3.45 0 1 0 -6.90 0zM454.36 681.4971751412429a3.45 3.45 0 1 0 6.90 0a3.45 3.45 0 1 0 -6.90 0zM455.02 676.2416239653134a3.45 3.45 0 1 0 6.90 0a3.45 3.45 0 1 0 -6.90 0zM454.36 669.6721849954014a3.45 3.45 0 1 0 6.90 0a3.45 3.45 0 1 0 -6.90 0zM451.08 664.4166338194718a3.45 3.45 0 1 0 6.90 0a3.45 3.45 0 1 0 -6.90 0zM450.81 657.8471948495599a3.45 3.45 0 1 0 6.90 0a3.45 3.45 0 1 0 -6.90 0zM450.42 651.2777558796479a3.45 3.45 0 1 0 6.90 0a3.45 3.45 0 1 0 -6.90 0zM448.45 647.9930363946919a3.45 3.45 0 1 0 6.90 0a3.45 3.45 0 1 0 -6.90 0zM443.85 648.649980291683a3.45 3.45 0 1 0 6.90 0a3.45 3.45 0 1 0 -6.90 0zM439.91 650.6208119826567a3.45 3.45 0 1 0 6.90 0a3.45 3.45 0 1 0 -6.90 0zM435.97 650.6208119826567a3.45 3.45 0 1 0 6.90 0a3.45 3.45 0 1 0 -6.90 0zM434.00 653.2485875706215a3.45 3.45 0 1 0 6.90 0a3.45 3.45 0 1 0 -6.90 0zM432.02 657.8471948495599a3.45 3.45 0 1 0 6.90 0a3.45 3.45 0 1 0 -6.90 0zM427.43 659.8180265405334a3.45 3.45 0 1 0 6.90 0a3.45 3.45 0 1 0 -6.90 0zM422.83 662.4458021284983a3.45 3.45 0 1 0 6.90 0a3.45 3.45 0 1 0 -6.90 0zM418.23 665.9932991722507a3.45 3.45 0 1 0 6.90 0a3.45 3.45 0 1 0 -6.90 0zM412.32 669.6721849954014a3.45 3.45 0 1 0 6.90 0a3.45 3.45 0 1 0 -6.90 0zM409.03 672.9569044803574a3.45 3.45 0 1 0 6.90 0a3.45 3.45 0 1 0 -6.90 0zM407.06 677.5555117592958a3.45 3.45 0 1 0 6.90 0a3.45 3.45 0 1 0 -6.90 0zM406.40 681.4971751412429a3.45 3.45 0 1 0 6.90 0a3.45 3.45 0 1 0 -6.90 0zM405.75 686.0957824201813a3.45 3.45 0 1 0 6.90 0a3.45 3.45 0 1 0 -6.90 0zM441.75 649.8a3.45 3.45 0 1 0 6.90 0a3.45 3.45 0 1 0 -6.90 0zM443.55 649.8a3.45 3.45 0 1 0 6.90 0a3.45 3.45 0 1 0 -6.90 0zM445.35 649.8a3.45 3.45 0 1 0 6.90 0a3.45 3.45 0 1 0 -6.90 0zM447.15 649.8a3.45 3.45 0 1 0 6.90 0a3.45 3.45 0 1 0 -6.90 0zM448.95 649.8a3.45 3.45 0 1 0 6.90 0a3.45 3.45 0 1 0 -6.90 0zM436.35 651.6a3.45 3.45 0 1 0 6.90 0a3.45 3.45 0 1 0 -6.90 0zM438.15 651.6a3.45 3.45 0 1 0 6.90 0a3.45 3.45 0 1 0 -6.90 0zM439.95 651.6a3.45 3.45 0 1 0 6.90 0a3.45 3.45 0 1 0 -6.90 0zM441.75 651.6a3.45 3.45 0 1 0 6.90 0a3.45 3.45 0 1 0 -6.90 0zM443.55 651.6a3.45 3.45 0 1 0 6.90 0a3.45 3.45 0 1 0 -6.90 0zM445.35 651.6a3.45 3.45 0 1 0 6.90 0a3.45 3.45 0 1 0 -6.90 0zM447.15 651.6a3.45 3.45 0 1 0 6.90 0a3.45 3.45 0 1 0 -6.90 0zM448.95 651.6a3.45 3.45 0 1 0 6.90 0a3.45 3.45 0 1 0 -6.90 0zM434.55 653.4a3.45 3.45 0 1 0 6.90 0a3.45 3.45 0 1 0 -6.90 0zM436.35 653.4a3.45 3.45 0 1 0 6.90 0a3.45 3.45 0 1 0 -6.90 0zM438.15 653.4a3.45 3.45 0 1 0 6.90 0a3.45 3.45 0 1 0 -6.90 0zM439.95 653.4a3.45 3.45 0 1 0 6.90 0a3.45 3.45 0 1 0 -6.90 0zM441.75 653.4a3.45 3.45 0 1 0 6.90 0a3.45 3.45 0 1 0 -6.90 0zM443.55 653.4a3.45 3.45 0 1 0 6.90 0a3.45 3.45 0 1 0 -6.90 0zM445.35 653.4a3.45 3.45 0 1 0 6.90 0a3.45 3.45 0 1 0 -6.90 0zM447.15 653.4a3.45 3.45 0 1 0 6.90 0a3.45 3.45 0 1 0 -6.90 0zM448.95 653.4a3.45 3.45 0 1 0 6.90 0a3.45 3.45 0 1 0 -6.90 0zM434.55 655.2a3.45 3.45 0 1 0 6.90 0a3.45 3.45 0 1 0 -6.90 0zM436.35 655.2a3.45 3.45 0 1 0 6.90 0a3.45 3.45 0 1 0 -6.90 0zM438.15 655.2a3.45 3.45 0 1 0 6.90 0a3.45 3.45 0 1 0 -6.90 0zM439.95 655.2a3.45 3.45 0 1 0 6.90 0a3.45 3.45 0 1 0 -6.90 0zM441.75 655.2a3.45 3.45 0 1 0 6.90 0a3.45 3.45 0 1 0 -6.90 0zM443.55 655.2a3.45 3.45 0 1 0 6.90 0a3.45 3.45 0 1 0 -6.90 0zM445.35 655.2a3.45 3.45 0 1 0 6.90 0a3.45 3.45 0 1 0 -6.90 0zM447.15 655.2a3.45 3.45 0 1 0 6.90 0a3.45 3.45 0 1 0 -6.90 0zM448.95 655.2a3.45 3.45 0 1 0 6.90 0a3.45 3.45 0 1 0 -6.90 0zM432.75 657.0a3.45 3.45 0 1 0 6.90 0a3.45 3.45 0 1 0 -6.90 0zM434.55 657.0a3.45 3.45 0 1 0 6.90 0a3.45 3.45 0 1 0 -6.90 0zM436.35 657.0a3.45 3.45 0 1 0 6.90 0a3.45 3.45 0 1 0 -6.90 0zM438.15 657.0a3.45 3.45 0 1 0 6.90 0a3.45 3.45 0 1 0 -6.90 0zM439.95 657.0a3.45 3.45 0 1 0 6.90 0a3.45 3.45 0 1 0 -6.90 0zM441.75 657.0a3.45 3.45 0 1 0 6.90 0a3.45 3.45 0 1 0 -6.90 0zM443.55 657.0a3.45 3.45 0 1 0 6.90 0a3.45 3.45 0 1 0 -6.90 0zM445.35 657.0a3.45 3.45 0 1 0 6.90 0a3.45 3.45 0 1 0 -6.90 0zM447.15 657.0a3.45 3.45 0 1 0 6.90 0a3.45 3.45 0 1 0 -6.90 0zM448.95 657.0a3.45 3.45 0 1 0 6.90 0a3.45 3.45 0 1 0 -6.90 0zM450.75 657.0a3.45 3.45 0 1 0 6.90 0a3.45 3.45 0 1 0 -6.90 0zM430.95 658.8a3.45 3.45 0 1 0 6.90 0a3.45 3.45 0 1 0 -6.90 0zM432.75 658.8a3.45 3.45 0 1 0 6.90 0a3.45 3.45 0 1 0 -6.90 0zM434.55 658.8a3.45 3.45 0 1 0 6.90 0a3.45 3.45 0 1 0 -6.90 0zM436.35 658.8a3.45 3.45 0 1 0 6.90 0a3.45 3.45 0 1 0 -6.90 0zM438.15 658.8a3.45 3.45 0 1 0 6.90 0a3.45 3.45 0 1 0 -6.90 0zM439.95 658.8a3.45 3.45 0 1 0 6.90 0a3.45 3.45 0 1 0 -6.90 0zM441.75 658.8a3.45 3.45 0 1 0 6.90 0a3.45 3.45 0 1 0 -6.90 0zM443.55 658.8a3.45 3.45 0 1 0 6.90 0a3.45 3.45 0 1 0 -6.90 0zM445.35 658.8a3.45 3.45 0 1 0 6.90 0a3.45 3.45 0 1 0 -6.90 0zM447.15 658.8a3.45 3.45 0 1 0 6.90 0a3.45 3.45 0 1 0 -6.90 0zM448.95 658.8a3.45 3.45 0 1 0 6.90 0a3.45 3.45 0 1 0 -6.90 0zM450.75 658.8a3.45 3.45 0 1 0 6.90 0a3.45 3.45 0 1 0 -6.90 0zM427.35 660.6a3.45 3.45 0 1 0 6.90 0a3.45 3.45 0 1 0 -6.90 0zM429.15 660.6a3.45 3.45 0 1 0 6.90 0a3.45 3.45 0 1 0 -6.90 0zM430.95 660.6a3.45 3.45 0 1 0 6.90 0a3.45 3.45 0 1 0 -6.90 0zM432.75 660.6a3.45 3.45 0 1 0 6.90 0a3.45 3.45 0 1 0 -6.90 0zM434.55 660.6a3.45 3.45 0 1 0 6.90 0a3.45 3.45 0 1 0 -6.90 0zM436.35 660.6a3.45 3.45 0 1 0 6.90 0a3.45 3.45 0 1 0 -6.90 0zM438.15 660.6a3.45 3.45 0 1 0 6.90 0a3.45 3.45 0 1 0 -6.90 0zM439.95 660.6a3.45 3.45 0 1 0 6.90 0a3.45 3.45 0 1 0 -6.90 0zM441.75 660.6a3.45 3.45 0 1 0 6.90 0a3.45 3.45 0 1 0 -6.90 0zM443.55 660.6a3.45 3.45 0 1 0 6.90 0a3.45 3.45 0 1 0 -6.90 0zM445.35 660.6a3.45 3.45 0 1 0 6.90 0a3.45 3.45 0 1 0 -6.90 0zM447.15 660.6a3.45 3.45 0 1 0 6.90 0a3.45 3.45 0 1 0 -6.90 0zM448.95 660.6a3.45 3.45 0 1 0 6.90 0a3.45 3.45 0 1 0 -6.90 0zM450.75 660.6a3.45 3.45 0 1 0 6.90 0a3.45 3.45 0 1 0 -6.90 0zM423.75 662.4a3.45 3.45 0 1 0 6.90 0a3.45 3.45 0 1 0 -6.90 0zM425.55 662.4a3.45 3.45 0 1 0 6.90 0a3.45 3.45 0 1 0 -6.90 0zM427.35 662.4a3.45 3.45 0 1 0 6.90 0a3.45 3.45 0 1 0 -6.90 0zM429.15 662.4a3.45 3.45 0 1 0 6.90 0a3.45 3.45 0 1 0 -6.90 0zM430.95 662.4a3.45 3.45 0 1 0 6.90 0a3.45 3.45 0 1 0 -6.90 0zM432.75 662.4a3.45 3.45 0 1 0 6.90 0a3.45 3.45 0 1 0 -6.90 0zM434.55 662.4a3.45 3.45 0 1 0 6.90 0a3.45 3.45 0 1 0 -6.90 0zM436.35 662.4a3.45 3.45 0 1 0 6.90 0a3.45 3.45 0 1 0 -6.90 0zM438.15 662.4a3.45 3.45 0 1 0 6.90 0a3.45 3.45 0 1 0 -6.90 0zM439.95 662.4a3.45 3.45 0 1 0 6.90 0a3.45 3.45 0 1 0 -6.90 0zM441.75 662.4a3.45 3.45 0 1 0 6.90 0a3.45 3.45 0 1 0 -6.90 0zM443.55 662.4a3.45 3.45 0 1 0 6.90 0a3.45 3.45 0 1 0 -6.90 0zM445.35 662.4a3.45 3.45 0 1 0 6.90 0a3.45 3.45 0 1 0 -6.90 0zM447.15 662.4a3.45 3.45 0 1 0 6.90 0a3.45 3.45 0 1 0 -6.90 0zM448.95 662.4a3.45 3.45 0 1 0 6.90 0a3.45 3.45 0 1 0 -6.90 0zM450.75 662.4a3.45 3.45 0 1 0 6.90 0a3.45 3.45 0 1 0 -6.90 0zM421.95 664.2a3.45 3.45 0 1 0 6.90 0a3.45 3.45 0 1 0 -6.90 0zM423.75 664.2a3.45 3.45 0 1 0 6.90 0a3.45 3.45 0 1 0 -6.90 0zM425.55 664.2a3.45 3.45 0 1 0 6.90 0a3.45 3.45 0 1 0 -6.90 0zM427.35 664.2a3.45 3.45 0 1 0 6.90 0a3.45 3.45 0 1 0 -6.90 0zM429.15 664.2a3.45 3.45 0 1 0 6.90 0a3.45 3.45 0 1 0 -6.90 0zM430.95 664.2a3.45 3.45 0 1 0 6.90 0a3.45 3.45 0 1 0 -6.90 0zM432.75 664.2a3.45 3.45 0 1 0 6.90 0a3.45 3.45 0 1 0 -6.90 0zM434.55 664.2a3.45 3.45 0 1 0 6.90 0a3.45 3.45 0 1 0 -6.90 0zM436.35 664.2a3.45 3.45 0 1 0 6.90 0a3.45 3.45 0 1 0 -6.90 0zM438.15 664.2a3.45 3.45 0 1 0 6.90 0a3.45 3.45 0 1 0 -6.90 0zM439.95 664.2a3.45 3.45 0 1 0 6.90 0a3.45 3.45 0 1 0 -6.90 0zM441.75 664.2a3.45 3.45 0 1 0 6.90 0a3.45 3.45 0 1 0 -6.90 0zM443.55 664.2a3.45 3.45 0 1 0 6.90 0a3.45 3.45 0 1 0 -6.90 0zM445.35 664.2a3.45 3.45 0 1 0 6.90 0a3.45 3.45 0 1 0 -6.90 0zM447.15 664.2a3.45 3.45 0 1 0 6.90 0a3.45 3.45 0 1 0 -6.90 0zM448.95 664.2a3.45 3.45 0 1 0 6.90 0a3.45 3.45 0 1 0 -6.90 0zM450.75 664.2a3.45 3.45 0 1 0 6.90 0a3.45 3.45 0 1 0 -6.90 0zM418.35 666.0a3.45 3.45 0 1 0 6.90 0a3.45 3.45 0 1 0 -6.90 0zM420.15 666.0a3.45 3.45 0 1 0 6.90 0a3.45 3.45 0 1 0 -6.90 0zM421.95 666.0a3.45 3.45 0 1 0 6.90 0a3.45 3.45 0 1 0 -6.90 0zM423.75 666.0a3.45 3.45 0 1 0 6.90 0a3.45 3.45 0 1 0 -6.90 0zM425.55 666.0a3.45 3.45 0 1 0 6.90 0a3.45 3.45 0 1 0 -6.90 0zM427.35 666.0a3.45 3.45 0 1 0 6.90 0a3.45 3.45 0 1 0 -6.90 0zM429.15 666.0a3.45 3.45 0 1 0 6.90 0a3.45 3.45 0 1 0 -6.90 0zM430.95 666.0a3.45 3.45 0 1 0 6.90 0a3.45 3.45 0 1 0 -6.90 0zM432.75 666.0a3.45 3.45 0 1 0 6.90 0a3.45 3.45 0 1 0 -6.90 0zM434.55 666.0a3.45 3.45 0 1 0 6.90 0a3.45 3.45 0 1 0 -6.90 0zM436.35 666.0a3.45 3.45 0 1 0 6.90 0a3.45 3.45 0 1 0 -6.90 0zM438.15 666.0a3.45 3.45 0 1 0 6.90 0a3.45 3.45 0 1 0 -6.90 0zM439.95 666.0a3.45 3.45 0 1 0 6.90 0a3.45 3.45 0 1 0 -6.90 0zM441.75 666.0a3.45 3.45 0 1 0 6.90 0a3.45 3.45 0 1 0 -6.90 0zM443.55 666.0a3.45 3.45 0 1 0 6.90 0a3.45 3.45 0 1 0 -6.90 0zM445.35 666.0a3.45 3.45 0 1 0 6.90 0a3.45 3.45 0 1 0 -6.90 0zM447.15 666.0a3.45 3.45 0 1 0 6.90 0a3.45 3.45 0 1 0 -6.90 0zM448.95 666.0a3.45 3.45 0 1 0 6.90 0a3.45 3.45 0 1 0 -6.90 0zM450.75 666.0a3.45 3.45 0 1 0 6.90 0a3.45 3.45 0 1 0 -6.90 0zM416.55 667.8a3.45 3.45 0 1 0 6.90 0a3.45 3.45 0 1 0 -6.90 0zM418.35 667.8a3.45 3.45 0 1 0 6.90 0a3.45 3.45 0 1 0 -6.90 0zM420.15 667.8a3.45 3.45 0 1 0 6.90 0a3.45 3.45 0 1 0 -6.90 0zM421.95 667.8a3.45 3.45 0 1 0 6.90 0a3.45 3.45 0 1 0 -6.90 0zM423.75 667.8a3.45 3.45 0 1 0 6.90 0a3.45 3.45 0 1 0 -6.90 0zM425.55 667.8a3.45 3.45 0 1 0 6.90 0a3.45 3.45 0 1 0 -6.90 0zM427.35 667.8a3.45 3.45 0 1 0 6.90 0a3.45 3.45 0 1 0 -6.90 0zM429.15 667.8a3.45 3.45 0 1 0 6.90 0a3.45 3.45 0 1 0 -6.90 0zM430.95 667.8a3.45 3.45 0 1 0 6.90 0a3.45 3.45 0 1 0 -6.90 0zM432.75 667.8a3.45 3.45 0 1 0 6.90 0a3.45 3.45 0 1 0 -6.90 0zM434.55 667.8a3.45 3.45 0 1 0 6.90 0a3.45 3.45 0 1 0 -6.90 0zM436.35 667.8a3.45 3.45 0 1 0 6.90 0a3.45 3.45 0 1 0 -6.90 0zM438.15 667.8a3.45 3.45 0 1 0 6.90 0a3.45 3.45 0 1 0 -6.90 0zM439.95 667.8a3.45 3.45 0 1 0 6.90 0a3.45 3.45 0 1 0 -6.90 0zM441.75 667.8a3.45 3.45 0 1 0 6.90 0a3.45 3.45 0 1 0 -6.90 0zM443.55 667.8a3.45 3.45 0 1 0 6.90 0a3.45 3.45 0 1 0 -6.90 0zM445.35 667.8a3.45 3.45 0 1 0 6.90 0a3.45 3.45 0 1 0 -6.90 0zM447.15 667.8a3.45 3.45 0 1 0 6.90 0a3.45 3.45 0 1 0 -6.90 0zM448.95 667.8a3.45 3.45 0 1 0 6.90 0a3.45 3.45 0 1 0 -6.90 0zM450.75 667.8a3.45 3.45 0 1 0 6.90 0a3.45 3.45 0 1 0 -6.90 0zM452.55 667.8a3.45 3.45 0 1 0 6.90 0a3.45 3.45 0 1 0 -6.90 0zM412.95 669.6a3.45 3.45 0 1 0 6.90 0a3.45 3.45 0 1 0 -6.90 0zM414.75 669.6a3.45 3.45 0 1 0 6.90 0a3.45 3.45 0 1 0 -6.90 0zM416.55 669.6a3.45 3.45 0 1 0 6.90 0a3.45 3.45 0 1 0 -6.90 0zM418.35 669.6a3.45 3.45 0 1 0 6.90 0a3.45 3.45 0 1 0 -6.90 0zM420.15 669.6a3.45 3.45 0 1 0 6.90 0a3.45 3.45 0 1 0 -6.90 0zM421.95 669.6a3.45 3.45 0 1 0 6.90 0a3.45 3.45 0 1 0 -6.90 0zM423.75 669.6a3.45 3.45 0 1 0 6.90 0a3.45 3.45 0 1 0 -6.90 0zM425.55 669.6a3.45 3.45 0 1 0 6.90 0a3.45 3.45 0 1 0 -6.90 0zM427.35 669.6a3.45 3.45 0 1 0 6.90 0a3.45 3.45 0 1 0 -6.90 0zM429.15 669.6a3.45 3.45 0 1 0 6.90 0a3.45 3.45 0 1 0 -6.90 0zM430.95 669.6a3.45 3.45 0 1 0 6.90 0a3.45 3.45 0 1 0 -6.90 0zM432.75 669.6a3.45 3.45 0 1 0 6.90 0a3.45 3.45 0 1 0 -6.90 0zM434.55 669.6a3.45 3.45 0 1 0 6.90 0a3.45 3.45 0 1 0 -6.90 0zM436.35 669.6a3.45 3.45 0 1 0 6.90 0a3.45 3.45 0 1 0 -6.90 0zM438.15 669.6a3.45 3.45 0 1 0 6.90 0a3.45 3.45 0 1 0 -6.90 0zM439.95 669.6a3.45 3.45 0 1 0 6.90 0a3.45 3.45 0 1 0 -6.90 0zM441.75 669.6a3.45 3.45 0 1 0 6.90 0a3.45 3.45 0 1 0 -6.90 0zM443.55 669.6a3.45 3.45 0 1 0 6.90 0a3.45 3.45 0 1 0 -6.90 0zM445.35 669.6a3.45 3.45 0 1 0 6.90 0a3.45 3.45 0 1 0 -6.90 0zM447.15 669.6a3.45 3.45 0 1 0 6.90 0a3.45 3.45 0 1 0 -6.90 0zM448.95 669.6a3.45 3.45 0 1 0 6.90 0a3.45 3.45 0 1 0 -6.90 0zM450.75 669.6a3.45 3.45 0 1 0 6.90 0a3.45 3.45 0 1 0 -6.90 0zM452.55 669.6a3.45 3.45 0 1 0 6.90 0a3.45 3.45 0 1 0 -6.90 0zM411.15 671.4a3.45 3.45 0 1 0 6.90 0a3.45 3.45 0 1 0 -6.90 0zM412.95 671.4a3.45 3.45 0 1 0 6.90 0a3.45 3.45 0 1 0 -6.90 0zM414.75 671.4a3.45 3.45 0 1 0 6.90 0a3.45 3.45 0 1 0 -6.90 0zM416.55 671.4a3.45 3.45 0 1 0 6.90 0a3.45 3.45 0 1 0 -6.90 0zM418.35 671.4a3.45 3.45 0 1 0 6.90 0a3.45 3.45 0 1 0 -6.90 0zM420.15 671.4a3.45 3.45 0 1 0 6.90 0a3.45 3.45 0 1 0 -6.90 0zM421.95 671.4a3.45 3.45 0 1 0 6.90 0a3.45 3.45 0 1 0 -6.90 0zM423.75 671.4a3.45 3.45 0 1 0 6.90 0a3.45 3.45 0 1 0 -6.90 0zM425.55 671.4a3.45 3.45 0 1 0 6.90 0a3.45 3.45 0 1 0 -6.90 0zM427.35 671.4a3.45 3.45 0 1 0 6.90 0a3.45 3.45 0 1 0 -6.90 0zM429.15 671.4a3.45 3.45 0 1 0 6.90 0a3.45 3.45 0 1 0 -6.90 0zM430.95 671.4a3.45 3.45 0 1 0 6.90 0a3.45 3.45 0 1 0 -6.90 0zM432.75 671.4a3.45 3.45 0 1 0 6.90 0a3.45 3.45 0 1 0 -6.90 0zM434.55 671.4a3.45 3.45 0 1 0 6.90 0a3.45 3.45 0 1 0 -6.90 0zM436.35 671.4a3.45 3.45 0 1 0 6.90 0a3.45 3.45 0 1 0 -6.90 0zM438.15 671.4a3.45 3.45 0 1 0 6.90 0a3.45 3.45 0 1 0 -6.90 0zM439.95 671.4a3.45 3.45 0 1 0 6.90 0a3.45 3.45 0 1 0 -6.90 0zM441.75 671.4a3.45 3.45 0 1 0 6.90 0a3.45 3.45 0 1 0 -6.90 0zM443.55 671.4a3.45 3.45 0 1 0 6.90 0a3.45 3.45 0 1 0 -6.90 0zM445.35 671.4a3.45 3.45 0 1 0 6.90 0a3.45 3.45 0 1 0 -6.90 0zM447.15 671.4a3.45 3.45 0 1 0 6.90 0a3.45 3.45 0 1 0 -6.90 0zM448.95 671.4a3.45 3.45 0 1 0 6.90 0a3.45 3.45 0 1 0 -6.90 0zM450.75 671.4a3.45 3.45 0 1 0 6.90 0a3.45 3.45 0 1 0 -6.90 0zM452.55 671.4a3.45 3.45 0 1 0 6.90 0a3.45 3.45 0 1 0 -6.90 0zM454.35 671.4a3.45 3.45 0 1 0 6.90 0a3.45 3.45 0 1 0 -6.90 0zM409.35 673.2a3.45 3.45 0 1 0 6.90 0a3.45 3.45 0 1 0 -6.90 0zM411.15 673.2a3.45 3.45 0 1 0 6.90 0a3.45 3.45 0 1 0 -6.90 0zM412.95 673.2a3.45 3.45 0 1 0 6.90 0a3.45 3.45 0 1 0 -6.90 0zM414.75 673.2a3.45 3.45 0 1 0 6.90 0a3.45 3.45 0 1 0 -6.90 0zM416.55 673.2a3.45 3.45 0 1 0 6.90 0a3.45 3.45 0 1 0 -6.90 0zM418.35 673.2a3.45 3.45 0 1 0 6.90 0a3.45 3.45 0 1 0 -6.90 0zM420.15 673.2a3.45 3.45 0 1 0 6.90 0a3.45 3.45 0 1 0 -6.90 0zM421.95 673.2a3.45 3.45 0 1 0 6.90 0a3.45 3.45 0 1 0 -6.90 0zM423.75 673.2a3.45 3.45 0 1 0 6.90 0a3.45 3.45 0 1 0 -6.90 0zM425.55 673.2a3.45 3.45 0 1 0 6.90 0a3.45 3.45 0 1 0 -6.90 0zM427.35 673.2a3.45 3.45 0 1 0 6.90 0a3.45 3.45 0 1 0 -6.90 0zM429.15 673.2a3.45 3.45 0 1 0 6.90 0a3.45 3.45 0 1 0 -6.90 0zM430.95 673.2a3.45 3.45 0 1 0 6.90 0a3.45 3.45 0 1 0 -6.90 0zM432.75 673.2a3.45 3.45 0 1 0 6.90 0a3.45 3.45 0 1 0 -6.90 0zM434.55 673.2a3.45 3.45 0 1 0 6.90 0a3.45 3.45 0 1 0 -6.90 0zM436.35 673.2a3.45 3.45 0 1 0 6.90 0a3.45 3.45 0 1 0 -6.90 0zM438.15 673.2a3.45 3.45 0 1 0 6.90 0a3.45 3.45 0 1 0 -6.90 0zM439.95 673.2a3.45 3.45 0 1 0 6.90 0a3.45 3.45 0 1 0 -6.90 0zM441.75 673.2a3.45 3.45 0 1 0 6.90 0a3.45 3.45 0 1 0 -6.90 0zM443.55 673.2a3.45 3.45 0 1 0 6.90 0a3.45 3.45 0 1 0 -6.90 0zM445.35 673.2a3.45 3.45 0 1 0 6.90 0a3.45 3.45 0 1 0 -6.90 0zM447.15 673.2a3.45 3.45 0 1 0 6.90 0a3.45 3.45 0 1 0 -6.90 0zM448.95 673.2a3.45 3.45 0 1 0 6.90 0a3.45 3.45 0 1 0 -6.90 0zM450.75 673.2a3.45 3.45 0 1 0 6.90 0a3.45 3.45 0 1 0 -6.90 0zM452.55 673.2a3.45 3.45 0 1 0 6.90 0a3.45 3.45 0 1 0 -6.90 0zM454.35 673.2a3.45 3.45 0 1 0 6.90 0a3.45 3.45 0 1 0 -6.90 0zM409.35 675.0a3.45 3.45 0 1 0 6.90 0a3.45 3.45 0 1 0 -6.90 0zM411.15 675.0a3.45 3.45 0 1 0 6.90 0a3.45 3.45 0 1 0 -6.90 0zM412.95 675.0a3.45 3.45 0 1 0 6.90 0a3.45 3.45 0 1 0 -6.90 0zM414.75 675.0a3.45 3.45 0 1 0 6.90 0a3.45 3.45 0 1 0 -6.90 0zM416.55 675.0a3.45 3.45 0 1 0 6.90 0a3.45 3.45 0 1 0 -6.90 0zM418.35 675.0a3.45 3.45 0 1 0 6.90 0a3.45 3.45 0 1 0 -6.90 0zM420.15 675.0a3.45 3.45 0 1 0 6.90 0a3.45 3.45 0 1 0 -6.90 0zM421.95 675.0a3.45 3.45 0 1 0 6.90 0a3.45 3.45 0 1 0 -6.90 0zM423.75 675.0a3.45 3.45 0 1 0 6.90 0a3.45 3.45 0 1 0 -6.90 0zM425.55 675.0a3.45 3.45 0 1 0 6.90 0a3.45 3.45 0 1 0 -6.90 0zM427.35 675.0a3.45 3.45 0 1 0 6.90 0a3.45 3.45 0 1 0 -6.90 0zM429.15 675.0a3.45 3.45 0 1 0 6.90 0a3.45 3.45 0 1 0 -6.90 0zM430.95 675.0a3.45 3.45 0 1 0 6.90 0a3.45 3.45 0 1 0 -6.90 0zM432.75 675.0a3.45 3.45 0 1 0 6.90 0a3.45 3.45 0 1 0 -6.90 0zM434.55 675.0a3.45 3.45 0 1 0 6.90 0a3.45 3.45 0 1 0 -6.90 0zM436.35 675.0a3.45 3.45 0 1 0 6.90 0a3.45 3.45 0 1 0 -6.90 0zM438.15 675.0a3.45 3.45 0 1 0 6.90 0a3.45 3.45 0 1 0 -6.90 0zM439.95 675.0a3.45 3.45 0 1 0 6.90 0a3.45 3.45 0 1 0 -6.90 0zM441.75 675.0a3.45 3.45 0 1 0 6.90 0a3.45 3.45 0 1 0 -6.90 0zM443.55 675.0a3.45 3.45 0 1 0 6.90 0a3.45 3.45 0 1 0 -6.90 0zM445.35 675.0a3.45 3.45 0 1 0 6.90 0a3.45 3.45 0 1 0 -6.90 0zM447.15 675.0a3.45 3.45 0 1 0 6.90 0a3.45 3.45 0 1 0 -6.90 0zM448.95 675.0a3.45 3.45 0 1 0 6.90 0a3.45 3.45 0 1 0 -6.90 0zM450.75 675.0a3.45 3.45 0 1 0 6.90 0a3.45 3.45 0 1 0 -6.90 0zM452.55 675.0a3.45 3.45 0 1 0 6.90 0a3.45 3.45 0 1 0 -6.90 0zM454.35 675.0a3.45 3.45 0 1 0 6.90 0a3.45 3.45 0 1 0 -6.90 0zM407.55 676.8a3.45 3.45 0 1 0 6.90 0a3.45 3.45 0 1 0 -6.90 0zM409.35 676.8a3.45 3.45 0 1 0 6.90 0a3.45 3.45 0 1 0 -6.90 0zM411.15 676.8a3.45 3.45 0 1 0 6.90 0a3.45 3.45 0 1 0 -6.90 0zM412.95 676.8a3.45 3.45 0 1 0 6.90 0a3.45 3.45 0 1 0 -6.90 0zM414.75 676.8a3.45 3.45 0 1 0 6.90 0a3.45 3.45 0 1 0 -6.90 0zM416.55 676.8a3.45 3.45 0 1 0 6.90 0a3.45 3.45 0 1 0 -6.90 0zM418.35 676.8a3.45 3.45 0 1 0 6.90 0a3.45 3.45 0 1 0 -6.90 0zM420.15 676.8a3.45 3.45 0 1 0 6.90 0a3.45 3.45 0 1 0 -6.90 0zM421.95 676.8a3.45 3.45 0 1 0 6.90 0a3.45 3.45 0 1 0 -6.90 0zM423.75 676.8a3.45 3.45 0 1 0 6.90 0a3.45 3.45 0 1 0 -6.90 0zM425.55 676.8a3.45 3.45 0 1 0 6.90 0a3.45 3.45 0 1 0 -6.90 0zM427.35 676.8a3.45 3.45 0 1 0 6.90 0a3.45 3.45 0 1 0 -6.90 0zM429.15 676.8a3.45 3.45 0 1 0 6.90 0a3.45 3.45 0 1 0 -6.90 0zM430.95 676.8a3.45 3.45 0 1 0 6.90 0a3.45 3.45 0 1 0 -6.90 0zM432.75 676.8a3.45 3.45 0 1 0 6.90 0a3.45 3.45 0 1 0 -6.90 0zM434.55 676.8a3.45 3.45 0 1 0 6.90 0a3.45 3.45 0 1 0 -6.90 0zM436.35 676.8a3.45 3.45 0 1 0 6.90 0a3.45 3.45 0 1 0 -6.90 0zM438.15 676.8a3.45 3.45 0 1 0 6.90 0a3.45 3.45 0 1 0 -6.90 0zM439.95 676.8a3.45 3.45 0 1 0 6.90 0a3.45 3.45 0 1 0 -6.90 0zM441.75 676.8a3.45 3.45 0 1 0 6.90 0a3.45 3.45 0 1 0 -6.90 0zM443.55 676.8a3.45 3.45 0 1 0 6.90 0a3.45 3.45 0 1 0 -6.90 0zM445.35 676.8a3.45 3.45 0 1 0 6.90 0a3.45 3.45 0 1 0 -6.90 0zM447.15 676.8a3.45 3.45 0 1 0 6.90 0a3.45 3.45 0 1 0 -6.90 0zM448.95 676.8a3.45 3.45 0 1 0 6.90 0a3.45 3.45 0 1 0 -6.90 0zM450.75 676.8a3.45 3.45 0 1 0 6.90 0a3.45 3.45 0 1 0 -6.90 0zM452.55 676.8a3.45 3.45 0 1 0 6.90 0a3.45 3.45 0 1 0 -6.90 0zM454.35 676.8a3.45 3.45 0 1 0 6.90 0a3.45 3.45 0 1 0 -6.90 0zM407.55 678.6a3.45 3.45 0 1 0 6.90 0a3.45 3.45 0 1 0 -6.90 0zM409.35 678.6a3.45 3.45 0 1 0 6.90 0a3.45 3.45 0 1 0 -6.90 0zM411.15 678.6a3.45 3.45 0 1 0 6.90 0a3.45 3.45 0 1 0 -6.90 0zM412.95 678.6a3.45 3.45 0 1 0 6.90 0a3.45 3.45 0 1 0 -6.90 0zM414.75 678.6a3.45 3.45 0 1 0 6.90 0a3.45 3.45 0 1 0 -6.90 0zM416.55 678.6a3.45 3.45 0 1 0 6.90 0a3.45 3.45 0 1 0 -6.90 0zM418.35 678.6a3.45 3.45 0 1 0 6.90 0a3.45 3.45 0 1 0 -6.90 0zM420.15 678.6a3.45 3.45 0 1 0 6.90 0a3.45 3.45 0 1 0 -6.90 0zM421.95 678.6a3.45 3.45 0 1 0 6.90 0a3.45 3.45 0 1 0 -6.90 0zM423.75 678.6a3.45 3.45 0 1 0 6.90 0a3.45 3.45 0 1 0 -6.90 0zM425.55 678.6a3.45 3.45 0 1 0 6.90 0a3.45 3.45 0 1 0 -6.90 0zM427.35 678.6a3.45 3.45 0 1 0 6.90 0a3.45 3.45 0 1 0 -6.90 0zM429.15 678.6a3.45 3.45 0 1 0 6.90 0a3.45 3.45 0 1 0 -6.90 0zM430.95 678.6a3.45 3.45 0 1 0 6.90 0a3.45 3.45 0 1 0 -6.90 0zM432.75 678.6a3.45 3.45 0 1 0 6.90 0a3.45 3.45 0 1 0 -6.90 0zM434.55 678.6a3.45 3.45 0 1 0 6.90 0a3.45 3.45 0 1 0 -6.90 0zM436.35 678.6a3.45 3.45 0 1 0 6.90 0a3.45 3.45 0 1 0 -6.90 0zM438.15 678.6a3.45 3.45 0 1 0 6.90 0a3.45 3.45 0 1 0 -6.90 0zM439.95 678.6a3.45 3.45 0 1 0 6.90 0a3.45 3.45 0 1 0 -6.90 0zM441.75 678.6a3.45 3.45 0 1 0 6.90 0a3.45 3.45 0 1 0 -6.90 0zM443.55 678.6a3.45 3.45 0 1 0 6.90 0a3.45 3.45 0 1 0 -6.90 0zM445.35 678.6a3.45 3.45 0 1 0 6.90 0a3.45 3.45 0 1 0 -6.90 0zM447.15 678.6a3.45 3.45 0 1 0 6.90 0a3.45 3.45 0 1 0 -6.90 0zM448.95 678.6a3.45 3.45 0 1 0 6.90 0a3.45 3.45 0 1 0 -6.90 0zM450.75 678.6a3.45 3.45 0 1 0 6.90 0a3.45 3.45 0 1 0 -6.90 0zM452.55 678.6a3.45 3.45 0 1 0 6.90 0a3.45 3.45 0 1 0 -6.90 0zM454.35 678.6a3.45 3.45 0 1 0 6.90 0a3.45 3.45 0 1 0 -6.90 0zM407.55 680.4a3.45 3.45 0 1 0 6.90 0a3.45 3.45 0 1 0 -6.90 0zM409.35 680.4a3.45 3.45 0 1 0 6.90 0a3.45 3.45 0 1 0 -6.90 0zM411.15 680.4a3.45 3.45 0 1 0 6.90 0a3.45 3.45 0 1 0 -6.90 0zM412.95 680.4a3.45 3.45 0 1 0 6.90 0a3.45 3.45 0 1 0 -6.90 0zM414.75 680.4a3.45 3.45 0 1 0 6.90 0a3.45 3.45 0 1 0 -6.90 0zM416.55 680.4a3.45 3.45 0 1 0 6.90 0a3.45 3.45 0 1 0 -6.90 0zM418.35 680.4a3.45 3.45 0 1 0 6.90 0a3.45 3.45 0 1 0 -6.90 0zM420.15 680.4a3.45 3.45 0 1 0 6.90 0a3.45 3.45 0 1 0 -6.90 0zM421.95 680.4a3.45 3.45 0 1 0 6.90 0a3.45 3.45 0 1 0 -6.90 0zM423.75 680.4a3.45 3.45 0 1 0 6.90 0a3.45 3.45 0 1 0 -6.90 0zM425.55 680.4a3.45 3.45 0 1 0 6.90 0a3.45 3.45 0 1 0 -6.90 0zM427.35 680.4a3.45 3.45 0 1 0 6.90 0a3.45 3.45 0 1 0 -6.90 0zM429.15 680.4a3.45 3.45 0 1 0 6.90 0a3.45 3.45 0 1 0 -6.90 0zM430.95 680.4a3.45 3.45 0 1 0 6.90 0a3.45 3.45 0 1 0 -6.90 0zM432.75 680.4a3.45 3.45 0 1 0 6.90 0a3.45 3.45 0 1 0 -6.90 0zM434.55 680.4a3.45 3.45 0 1 0 6.90 0a3.45 3.45 0 1 0 -6.90 0zM436.35 680.4a3.45 3.45 0 1 0 6.90 0a3.45 3.45 0 1 0 -6.90 0zM438.15 680.4a3.45 3.45 0 1 0 6.90 0a3.45 3.45 0 1 0 -6.90 0zM439.95 680.4a3.45 3.45 0 1 0 6.90 0a3.45 3.45 0 1 0 -6.90 0zM441.75 680.4a3.45 3.45 0 1 0 6.90 0a3.45 3.45 0 1 0 -6.90 0zM443.55 680.4a3.45 3.45 0 1 0 6.90 0a3.45 3.45 0 1 0 -6.90 0zM445.35 680.4a3.45 3.45 0 1 0 6.90 0a3.45 3.45 0 1 0 -6.90 0zM447.15 680.4a3.45 3.45 0 1 0 6.90 0a3.45 3.45 0 1 0 -6.90 0zM448.95 680.4a3.45 3.45 0 1 0 6.90 0a3.45 3.45 0 1 0 -6.90 0zM450.75 680.4a3.45 3.45 0 1 0 6.90 0a3.45 3.45 0 1 0 -6.90 0zM452.55 680.4a3.45 3.45 0 1 0 6.90 0a3.45 3.45 0 1 0 -6.90 0zM454.35 680.4a3.45 3.45 0 1 0 6.90 0a3.45 3.45 0 1 0 -6.90 0zM407.55 682.2a3.45 3.45 0 1 0 6.90 0a3.45 3.45 0 1 0 -6.90 0zM409.35 682.2a3.45 3.45 0 1 0 6.90 0a3.45 3.45 0 1 0 -6.90 0zM411.15 682.2a3.45 3.45 0 1 0 6.90 0a3.45 3.45 0 1 0 -6.90 0zM412.95 682.2a3.45 3.45 0 1 0 6.90 0a3.45 3.45 0 1 0 -6.90 0zM414.75 682.2a3.45 3.45 0 1 0 6.90 0a3.45 3.45 0 1 0 -6.90 0zM416.55 682.2a3.45 3.45 0 1 0 6.90 0a3.45 3.45 0 1 0 -6.90 0zM418.35 682.2a3.45 3.45 0 1 0 6.90 0a3.45 3.45 0 1 0 -6.90 0zM420.15 682.2a3.45 3.45 0 1 0 6.90 0a3.45 3.45 0 1 0 -6.90 0zM421.95 682.2a3.45 3.45 0 1 0 6.90 0a3.45 3.45 0 1 0 -6.90 0zM423.75 682.2a3.45 3.45 0 1 0 6.90 0a3.45 3.45 0 1 0 -6.90 0zM425.55 682.2a3.45 3.45 0 1 0 6.90 0a3.45 3.45 0 1 0 -6.90 0zM427.35 682.2a3.45 3.45 0 1 0 6.90 0a3.45 3.45 0 1 0 -6.90 0zM429.15 682.2a3.45 3.45 0 1 0 6.90 0a3.45 3.45 0 1 0 -6.90 0zM430.95 682.2a3.45 3.45 0 1 0 6.90 0a3.45 3.45 0 1 0 -6.90 0zM432.75 682.2a3.45 3.45 0 1 0 6.90 0a3.45 3.45 0 1 0 -6.90 0zM434.55 682.2a3.45 3.45 0 1 0 6.90 0a3.45 3.45 0 1 0 -6.90 0zM436.35 682.2a3.45 3.45 0 1 0 6.90 0a3.45 3.45 0 1 0 -6.90 0zM438.15 682.2a3.45 3.45 0 1 0 6.90 0a3.45 3.45 0 1 0 -6.90 0zM439.95 682.2a3.45 3.45 0 1 0 6.90 0a3.45 3.45 0 1 0 -6.90 0zM441.75 682.2a3.45 3.45 0 1 0 6.90 0a3.45 3.45 0 1 0 -6.90 0zM443.55 682.2a3.45 3.45 0 1 0 6.90 0a3.45 3.45 0 1 0 -6.90 0zM445.35 682.2a3.45 3.45 0 1 0 6.90 0a3.45 3.45 0 1 0 -6.90 0zM447.15 682.2a3.45 3.45 0 1 0 6.90 0a3.45 3.45 0 1 0 -6.90 0zM448.95 682.2a3.45 3.45 0 1 0 6.90 0a3.45 3.45 0 1 0 -6.90 0zM450.75 682.2a3.45 3.45 0 1 0 6.90 0a3.45 3.45 0 1 0 -6.90 0zM452.55 682.2a3.45 3.45 0 1 0 6.90 0a3.45 3.45 0 1 0 -6.90 0zM407.55 684.0a3.45 3.45 0 1 0 6.90 0a3.45 3.45 0 1 0 -6.90 0zM409.35 684.0a3.45 3.45 0 1 0 6.90 0a3.45 3.45 0 1 0 -6.90 0zM411.15 684.0a3.45 3.45 0 1 0 6.90 0a3.45 3.45 0 1 0 -6.90 0zM412.95 684.0a3.45 3.45 0 1 0 6.90 0a3.45 3.45 0 1 0 -6.90 0zM414.75 684.0a3.45 3.45 0 1 0 6.90 0a3.45 3.45 0 1 0 -6.90 0zM416.55 684.0a3.45 3.45 0 1 0 6.90 0a3.45 3.45 0 1 0 -6.90 0zM418.35 684.0a3.45 3.45 0 1 0 6.90 0a3.45 3.45 0 1 0 -6.90 0zM420.15 684.0a3.45 3.45 0 1 0 6.90 0a3.45 3.45 0 1 0 -6.90 0zM421.95 684.0a3.45 3.45 0 1 0 6.90 0a3.45 3.45 0 1 0 -6.90 0zM423.75 684.0a3.45 3.45 0 1 0 6.90 0a3.45 3.45 0 1 0 -6.90 0zM425.55 684.0a3.45 3.45 0 1 0 6.90 0a3.45 3.45 0 1 0 -6.90 0zM427.35 684.0a3.45 3.45 0 1 0 6.90 0a3.45 3.45 0 1 0 -6.90 0zM429.15 684.0a3.45 3.45 0 1 0 6.90 0a3.45 3.45 0 1 0 -6.90 0zM430.95 684.0a3.45 3.45 0 1 0 6.90 0a3.45 3.45 0 1 0 -6.90 0zM432.75 684.0a3.45 3.45 0 1 0 6.90 0a3.45 3.45 0 1 0 -6.90 0zM434.55 684.0a3.45 3.45 0 1 0 6.90 0a3.45 3.45 0 1 0 -6.90 0zM436.35 684.0a3.45 3.45 0 1 0 6.90 0a3.45 3.45 0 1 0 -6.90 0zM438.15 684.0a3.45 3.45 0 1 0 6.90 0a3.45 3.45 0 1 0 -6.90 0zM439.95 684.0a3.45 3.45 0 1 0 6.90 0a3.45 3.45 0 1 0 -6.90 0zM441.75 684.0a3.45 3.45 0 1 0 6.90 0a3.45 3.45 0 1 0 -6.90 0zM443.55 684.0a3.45 3.45 0 1 0 6.90 0a3.45 3.45 0 1 0 -6.90 0zM445.35 684.0a3.45 3.45 0 1 0 6.90 0a3.45 3.45 0 1 0 -6.90 0zM447.15 684.0a3.45 3.45 0 1 0 6.90 0a3.45 3.45 0 1 0 -6.90 0zM448.95 684.0a3.45 3.45 0 1 0 6.90 0a3.45 3.45 0 1 0 -6.90 0zM450.75 684.0a3.45 3.45 0 1 0 6.90 0a3.45 3.45 0 1 0 -6.90 0zM407.55 685.8a3.45 3.45 0 1 0 6.90 0a3.45 3.45 0 1 0 -6.90 0zM409.35 685.8a3.45 3.45 0 1 0 6.90 0a3.45 3.45 0 1 0 -6.90 0zM411.15 685.8a3.45 3.45 0 1 0 6.90 0a3.45 3.45 0 1 0 -6.90 0zM412.95 685.8a3.45 3.45 0 1 0 6.90 0a3.45 3.45 0 1 0 -6.90 0zM414.75 685.8a3.45 3.45 0 1 0 6.90 0a3.45 3.45 0 1 0 -6.90 0zM416.55 685.8a3.45 3.45 0 1 0 6.90 0a3.45 3.45 0 1 0 -6.90 0zM418.35 685.8a3.45 3.45 0 1 0 6.90 0a3.45 3.45 0 1 0 -6.90 0zM420.15 685.8a3.45 3.45 0 1 0 6.90 0a3.45 3.45 0 1 0 -6.90 0zM421.95 685.8a3.45 3.45 0 1 0 6.90 0a3.45 3.45 0 1 0 -6.90 0zM423.75 685.8a3.45 3.45 0 1 0 6.90 0a3.45 3.45 0 1 0 -6.90 0zM425.55 685.8a3.45 3.45 0 1 0 6.90 0a3.45 3.45 0 1 0 -6.90 0zM427.35 685.8a3.45 3.45 0 1 0 6.90 0a3.45 3.45 0 1 0 -6.90 0zM429.15 685.8a3.45 3.45 0 1 0 6.90 0a3.45 3.45 0 1 0 -6.90 0zM430.95 685.8a3.45 3.45 0 1 0 6.90 0a3.45 3.45 0 1 0 -6.90 0zM432.75 685.8a3.45 3.45 0 1 0 6.90 0a3.45 3.45 0 1 0 -6.90 0zM434.55 685.8a3.45 3.45 0 1 0 6.90 0a3.45 3.45 0 1 0 -6.90 0zM436.35 685.8a3.45 3.45 0 1 0 6.90 0a3.45 3.45 0 1 0 -6.90 0zM438.15 685.8a3.45 3.45 0 1 0 6.90 0a3.45 3.45 0 1 0 -6.90 0zM439.95 685.8a3.45 3.45 0 1 0 6.90 0a3.45 3.45 0 1 0 -6.90 0zM441.75 685.8a3.45 3.45 0 1 0 6.90 0a3.45 3.45 0 1 0 -6.90 0zM443.55 685.8a3.45 3.45 0 1 0 6.90 0a3.45 3.45 0 1 0 -6.90 0zM445.35 685.8a3.45 3.45 0 1 0 6.90 0a3.45 3.45 0 1 0 -6.90 0zM407.55 687.6a3.45 3.45 0 1 0 6.90 0a3.45 3.45 0 1 0 -6.90 0zM409.35 687.6a3.45 3.45 0 1 0 6.90 0a3.45 3.45 0 1 0 -6.90 0zM411.15 687.6a3.45 3.45 0 1 0 6.90 0a3.45 3.45 0 1 0 -6.90 0zM412.95 687.6a3.45 3.45 0 1 0 6.90 0a3.45 3.45 0 1 0 -6.90 0zM414.75 687.6a3.45 3.45 0 1 0 6.90 0a3.45 3.45 0 1 0 -6.90 0zM416.55 687.6a3.45 3.45 0 1 0 6.90 0a3.45 3.45 0 1 0 -6.90 0zM418.35 687.6a3.45 3.45 0 1 0 6.90 0a3.45 3.45 0 1 0 -6.90 0zM420.15 687.6a3.45 3.45 0 1 0 6.90 0a3.45 3.45 0 1 0 -6.90 0zM421.95 687.6a3.45 3.45 0 1 0 6.90 0a3.45 3.45 0 1 0 -6.90 0zM423.75 687.6a3.45 3.45 0 1 0 6.90 0a3.45 3.45 0 1 0 -6.90 0zM450.55 644.9710944685324a3.45 3.45 0 1 0 6.90 0a3.45 3.45 0 1 0 -6.90 0zM455.67 640.7666535277888a3.45 3.45 0 1 0 6.90 0a3.45 3.45 0 1 0 -6.90 0zM463.56 638.1388779398239a3.45 3.45 0 1 0 6.90 0a3.45 3.45 0 1 0 -6.90 0zM467.50 636.1680462488504a3.45 3.45 0 1 0 6.90 0a3.45 3.45 0 1 0 -6.90 0zM486.55 630.2555511759296a3.45 3.45 0 1 0 6.90 0a3.45 3.45 0 1 0 -6.90 0zM486.55 657.8471948495599a3.45 3.45 0 1 0 6.90 0a3.45 3.45 0 1 0 -6.90 0zM481.95 659.1610826435423a3.45 3.45 0 1 0 6.90 0a3.45 3.45 0 1 0 -6.90 0zM474.73 664.4166338194718a3.45 3.45 0 1 0 6.90 0a3.45 3.45 0 1 0 -6.90 0zM474.73 673.6138483773486a3.45 3.45 0 1 0 6.90 0a3.45 3.45 0 1 0 -6.90 0zM474.07 673.6138483773486a3.45 3.45 0 1 0 6.90 0a3.45 3.45 0 1 0 -6.90 0zM470.13 669.6721849954014a3.45 3.45 0 1 0 6.90 0a3.45 3.45 0 1 0 -6.90 0zM466.19 680.1832873472606a3.45 3.45 0 1 0 6.90 0a3.45 3.45 0 1 0 -6.90 0zM462.24 674.9277361713309a3.45 3.45 0 1 0 6.90 0a3.45 3.45 0 1 0 -6.90 0zM456.99 670.3291288923926a3.45 3.45 0 1 0 6.90 0a3.45 3.45 0 1 0 -6.90 0zM451.73 670.3291288923926a3.45 3.45 0 1 0 6.90 0a3.45 3.45 0 1 0 -6.90 0zM450.55 664.4166338194718a3.45 3.45 0 1 0 6.90 0a3.45 3.45 0 1 0 -6.90 0zM482.95 632.1a3.45 3.45 0 1 0 6.90 0a3.45 3.45 0 1 0 -6.90 0zM484.75 632.1a3.45 3.45 0 1 0 6.90 0a3.45 3.45 0 1 0 -6.90 0zM486.55 632.1a3.45 3.45 0 1 0 6.90 0a3.45 3.45 0 1 0 -6.90 0zM482.95 633.9a3.45 3.45 0 1 0 6.90 0a3.45 3.45 0 1 0 -6.90 0zM484.75 633.9a3.45 3.45 0 1 0 6.90 0a3.45 3.45 0 1 0 -6.90 0zM486.55 633.9a3.45 3.45 0 1 0 6.90 0a3.45 3.45 0 1 0 -6.90 0zM468.55 635.7a3.45 3.45 0 1 0 6.90 0a3.45 3.45 0 1 0 -6.90 0zM482.95 635.7a3.45 3.45 0 1 0 6.90 0a3.45 3.45 0 1 0 -6.90 0zM484.75 635.7a3.45 3.45 0 1 0 6.90 0a3.45 3.45 0 1 0 -6.90 0zM486.55 635.7a3.45 3.45 0 1 0 6.90 0a3.45 3.45 0 1 0 -6.90 0zM464.95 637.5a3.45 3.45 0 1 0 6.90 0a3.45 3.45 0 1 0 -6.90 0zM466.75 637.5a3.45 3.45 0 1 0 6.90 0a3.45 3.45 0 1 0 -6.90 0zM482.95 637.5a3.45 3.45 0 1 0 6.90 0a3.45 3.45 0 1 0 -6.90 0zM484.75 637.5a3.45 3.45 0 1 0 6.90 0a3.45 3.45 0 1 0 -6.90 0zM486.55 637.5a3.45 3.45 0 1 0 6.90 0a3.45 3.45 0 1 0 -6.90 0zM461.35 639.3a3.45 3.45 0 1 0 6.90 0a3.45 3.45 0 1 0 -6.90 0zM463.15 639.3a3.45 3.45 0 1 0 6.90 0a3.45 3.45 0 1 0 -6.90 0zM464.95 639.3a3.45 3.45 0 1 0 6.90 0a3.45 3.45 0 1 0 -6.90 0zM466.75 639.3a3.45 3.45 0 1 0 6.90 0a3.45 3.45 0 1 0 -6.90 0zM482.95 639.3a3.45 3.45 0 1 0 6.90 0a3.45 3.45 0 1 0 -6.90 0zM484.75 639.3a3.45 3.45 0 1 0 6.90 0a3.45 3.45 0 1 0 -6.90 0zM486.55 639.3a3.45 3.45 0 1 0 6.90 0a3.45 3.45 0 1 0 -6.90 0zM455.95 641.1a3.45 3.45 0 1 0 6.90 0a3.45 3.45 0 1 0 -6.90 0zM457.75 641.1a3.45 3.45 0 1 0 6.90 0a3.45 3.45 0 1 0 -6.90 0zM459.55 641.1a3.45 3.45 0 1 0 6.90 0a3.45 3.45 0 1 0 -6.90 0zM461.35 641.1a3.45 3.45 0 1 0 6.90 0a3.45 3.45 0 1 0 -6.90 0zM463.15 641.1a3.45 3.45 0 1 0 6.90 0a3.45 3.45 0 1 0 -6.90 0zM464.95 641.1a3.45 3.45 0 1 0 6.90 0a3.45 3.45 0 1 0 -6.90 0zM466.75 641.1a3.45 3.45 0 1 0 6.90 0a3.45 3.45 0 1 0 -6.90 0zM468.55 641.1a3.45 3.45 0 1 0 6.90 0a3.45 3.45 0 1 0 -6.90 0zM482.95 641.1a3.45 3.45 0 1 0 6.90 0a3.45 3.45 0 1 0 -6.90 0zM484.75 641.1a3.45 3.45 0 1 0 6.90 0a3.45 3.45 0 1 0 -6.90 0zM486.55 641.1a3.45 3.45 0 1 0 6.90 0a3.45 3.45 0 1 0 -6.90 0zM454.15 642.9a3.45 3.45 0 1 0 6.90 0a3.45 3.45 0 1 0 -6.90 0zM455.95 642.9a3.45 3.45 0 1 0 6.90 0a3.45 3.45 0 1 0 -6.90 0zM457.75 642.9a3.45 3.45 0 1 0 6.90 0a3.45 3.45 0 1 0 -6.90 0zM459.55 642.9a3.45 3.45 0 1 0 6.90 0a3.45 3.45 0 1 0 -6.90 0zM461.35 642.9a3.45 3.45 0 1 0 6.90 0a3.45 3.45 0 1 0 -6.90 0zM463.15 642.9a3.45 3.45 0 1 0 6.90 0a3.45 3.45 0 1 0 -6.90 0zM464.95 642.9a3.45 3.45 0 1 0 6.90 0a3.45 3.45 0 1 0 -6.90 0zM466.75 642.9a3.45 3.45 0 1 0 6.90 0a3.45 3.45 0 1 0 -6.90 0zM468.55 642.9a3.45 3.45 0 1 0 6.90 0a3.45 3.45 0 1 0 -6.90 0zM481.15 642.9a3.45 3.45 0 1 0 6.90 0a3.45 3.45 0 1 0 -6.90 0zM482.95 642.9a3.45 3.45 0 1 0 6.90 0a3.45 3.45 0 1 0 -6.90 0zM484.75 642.9a3.45 3.45 0 1 0 6.90 0a3.45 3.45 0 1 0 -6.90 0zM486.55 642.9a3.45 3.45 0 1 0 6.90 0a3.45 3.45 0 1 0 -6.90 0zM452.35 644.7a3.45 3.45 0 1 0 6.90 0a3.45 3.45 0 1 0 -6.90 0zM454.15 644.7a3.45 3.45 0 1 0 6.90 0a3.45 3.45 0 1 0 -6.90 0zM455.95 644.7a3.45 3.45 0 1 0 6.90 0a3.45 3.45 0 1 0 -6.90 0zM457.75 644.7a3.45 3.45 0 1 0 6.90 0a3.45 3.45 0 1 0 -6.90 0zM459.55 644.7a3.45 3.45 0 1 0 6.90 0a3.45 3.45 0 1 0 -6.90 0zM461.35 644.7a3.45 3.45 0 1 0 6.90 0a3.45 3.45 0 1 0 -6.90 0zM463.15 644.7a3.45 3.45 0 1 0 6.90 0a3.45 3.45 0 1 0 -6.90 0zM464.95 644.7a3.45 3.45 0 1 0 6.90 0a3.45 3.45 0 1 0 -6.90 0zM466.75 644.7a3.45 3.45 0 1 0 6.90 0a3.45 3.45 0 1 0 -6.90 0zM468.55 644.7a3.45 3.45 0 1 0 6.90 0a3.45 3.45 0 1 0 -6.90 0zM481.15 644.7a3.45 3.45 0 1 0 6.90 0a3.45 3.45 0 1 0 -6.90 0zM482.95 644.7a3.45 3.45 0 1 0 6.90 0a3.45 3.45 0 1 0 -6.90 0zM484.75 644.7a3.45 3.45 0 1 0 6.90 0a3.45 3.45 0 1 0 -6.90 0zM486.55 644.7a3.45 3.45 0 1 0 6.90 0a3.45 3.45 0 1 0 -6.90 0zM450.55 646.5a3.45 3.45 0 1 0 6.90 0a3.45 3.45 0 1 0 -6.90 0zM463.15 646.5a3.45 3.45 0 1 0 6.90 0a3.45 3.45 0 1 0 -6.90 0zM464.95 646.5a3.45 3.45 0 1 0 6.90 0a3.45 3.45 0 1 0 -6.90 0zM466.75 646.5a3.45 3.45 0 1 0 6.90 0a3.45 3.45 0 1 0 -6.90 0zM468.55 646.5a3.45 3.45 0 1 0 6.90 0a3.45 3.45 0 1 0 -6.90 0zM470.35 646.5a3.45 3.45 0 1 0 6.90 0a3.45 3.45 0 1 0 -6.90 0zM472.15 646.5a3.45 3.45 0 1 0 6.90 0a3.45 3.45 0 1 0 -6.90 0zM473.95 646.5a3.45 3.45 0 1 0 6.90 0a3.45 3.45 0 1 0 -6.90 0zM479.35 646.5a3.45 3.45 0 1 0 6.90 0a3.45 3.45 0 1 0 -6.90 0zM481.15 646.5a3.45 3.45 0 1 0 6.90 0a3.45 3.45 0 1 0 -6.90 0zM482.95 646.5a3.45 3.45 0 1 0 6.90 0a3.45 3.45 0 1 0 -6.90 0zM484.75 646.5a3.45 3.45 0 1 0 6.90 0a3.45 3.45 0 1 0 -6.90 0zM486.55 646.5a3.45 3.45 0 1 0 6.90 0a3.45 3.45 0 1 0 -6.90 0zM450.55 648.3a3.45 3.45 0 1 0 6.90 0a3.45 3.45 0 1 0 -6.90 0zM464.95 648.3a3.45 3.45 0 1 0 6.90 0a3.45 3.45 0 1 0 -6.90 0zM466.75 648.3a3.45 3.45 0 1 0 6.90 0a3.45 3.45 0 1 0 -6.90 0zM468.55 648.3a3.45 3.45 0 1 0 6.90 0a3.45 3.45 0 1 0 -6.90 0zM470.35 648.3a3.45 3.45 0 1 0 6.90 0a3.45 3.45 0 1 0 -6.90 0zM472.15 648.3a3.45 3.45 0 1 0 6.90 0a3.45 3.45 0 1 0 -6.90 0zM473.95 648.3a3.45 3.45 0 1 0 6.90 0a3.45 3.45 0 1 0 -6.90 0zM475.75 648.3a3.45 3.45 0 1 0 6.90 0a3.45 3.45 0 1 0 -6.90 0zM477.55 648.3a3.45 3.45 0 1 0 6.90 0a3.45 3.45 0 1 0 -6.90 0zM484.75 648.3a3.45 3.45 0 1 0 6.90 0a3.45 3.45 0 1 0 -6.90 0zM486.55 648.3a3.45 3.45 0 1 0 6.90 0a3.45 3.45 0 1 0 -6.90 0zM450.55 650.1a3.45 3.45 0 1 0 6.90 0a3.45 3.45 0 1 0 -6.90 0zM466.75 650.1a3.45 3.45 0 1 0 6.90 0a3.45 3.45 0 1 0 -6.90 0zM468.55 650.1a3.45 3.45 0 1 0 6.90 0a3.45 3.45 0 1 0 -6.90 0zM470.35 650.1a3.45 3.45 0 1 0 6.90 0a3.45 3.45 0 1 0 -6.90 0zM472.15 650.1a3.45 3.45 0 1 0 6.90 0a3.45 3.45 0 1 0 -6.90 0zM473.95 650.1a3.45 3.45 0 1 0 6.90 0a3.45 3.45 0 1 0 -6.90 0zM475.75 650.1a3.45 3.45 0 1 0 6.90 0a3.45 3.45 0 1 0 -6.90 0zM486.55 650.1a3.45 3.45 0 1 0 6.90 0a3.45 3.45 0 1 0 -6.90 0zM450.55 651.9a3.45 3.45 0 1 0 6.90 0a3.45 3.45 0 1 0 -6.90 0zM466.75 651.9a3.45 3.45 0 1 0 6.90 0a3.45 3.45 0 1 0 -6.90 0zM468.55 651.9a3.45 3.45 0 1 0 6.90 0a3.45 3.45 0 1 0 -6.90 0zM470.35 651.9a3.45 3.45 0 1 0 6.90 0a3.45 3.45 0 1 0 -6.90 0zM472.15 651.9a3.45 3.45 0 1 0 6.90 0a3.45 3.45 0 1 0 -6.90 0zM473.95 651.9a3.45 3.45 0 1 0 6.90 0a3.45 3.45 0 1 0 -6.90 0zM486.55 651.9a3.45 3.45 0 1 0 6.90 0a3.45 3.45 0 1 0 -6.90 0zM450.55 653.7a3.45 3.45 0 1 0 6.90 0a3.45 3.45 0 1 0 -6.90 0zM468.55 653.7a3.45 3.45 0 1 0 6.90 0a3.45 3.45 0 1 0 -6.90 0zM470.35 653.7a3.45 3.45 0 1 0 6.90 0a3.45 3.45 0 1 0 -6.90 0zM472.15 653.7a3.45 3.45 0 1 0 6.90 0a3.45 3.45 0 1 0 -6.90 0zM473.95 653.7a3.45 3.45 0 1 0 6.90 0a3.45 3.45 0 1 0 -6.90 0zM486.55 653.7a3.45 3.45 0 1 0 6.90 0a3.45 3.45 0 1 0 -6.90 0zM450.55 655.5a3.45 3.45 0 1 0 6.90 0a3.45 3.45 0 1 0 -6.90 0zM468.55 655.5a3.45 3.45 0 1 0 6.90 0a3.45 3.45 0 1 0 -6.90 0zM470.35 655.5a3.45 3.45 0 1 0 6.90 0a3.45 3.45 0 1 0 -6.90 0zM472.15 655.5a3.45 3.45 0 1 0 6.90 0a3.45 3.45 0 1 0 -6.90 0zM473.95 655.5a3.45 3.45 0 1 0 6.90 0a3.45 3.45 0 1 0 -6.90 0zM486.55 655.5a3.45 3.45 0 1 0 6.90 0a3.45 3.45 0 1 0 -6.90 0zM450.55 657.3a3.45 3.45 0 1 0 6.90 0a3.45 3.45 0 1 0 -6.90 0zM452.35 657.3a3.45 3.45 0 1 0 6.90 0a3.45 3.45 0 1 0 -6.90 0zM468.55 657.3a3.45 3.45 0 1 0 6.90 0a3.45 3.45 0 1 0 -6.90 0zM470.35 657.3a3.45 3.45 0 1 0 6.90 0a3.45 3.45 0 1 0 -6.90 0zM472.15 657.3a3.45 3.45 0 1 0 6.90 0a3.45 3.45 0 1 0 -6.90 0zM473.95 657.3a3.45 3.45 0 1 0 6.90 0a3.45 3.45 0 1 0 -6.90 0zM475.75 657.3a3.45 3.45 0 1 0 6.90 0a3.45 3.45 0 1 0 -6.90 0zM484.75 657.3a3.45 3.45 0 1 0 6.90 0a3.45 3.45 0 1 0 -6.90 0zM486.55 657.3a3.45 3.45 0 1 0 6.90 0a3.45 3.45 0 1 0 -6.90 0zM450.55 659.1a3.45 3.45 0 1 0 6.90 0a3.45 3.45 0 1 0 -6.90 0zM452.35 659.1a3.45 3.45 0 1 0 6.90 0a3.45 3.45 0 1 0 -6.90 0zM468.55 659.1a3.45 3.45 0 1 0 6.90 0a3.45 3.45 0 1 0 -6.90 0zM470.35 659.1a3.45 3.45 0 1 0 6.90 0a3.45 3.45 0 1 0 -6.90 0zM472.15 659.1a3.45 3.45 0 1 0 6.90 0a3.45 3.45 0 1 0 -6.90 0zM473.95 659.1a3.45 3.45 0 1 0 6.90 0a3.45 3.45 0 1 0 -6.90 0zM475.75 659.1a3.45 3.45 0 1 0 6.90 0a3.45 3.45 0 1 0 -6.90 0zM477.55 659.1a3.45 3.45 0 1 0 6.90 0a3.45 3.45 0 1 0 -6.90 0zM479.35 659.1a3.45 3.45 0 1 0 6.90 0a3.45 3.45 0 1 0 -6.90 0zM481.15 659.1a3.45 3.45 0 1 0 6.90 0a3.45 3.45 0 1 0 -6.90 0zM450.55 660.9a3.45 3.45 0 1 0 6.90 0a3.45 3.45 0 1 0 -6.90 0zM452.35 660.9a3.45 3.45 0 1 0 6.90 0a3.45 3.45 0 1 0 -6.90 0zM454.15 660.9a3.45 3.45 0 1 0 6.90 0a3.45 3.45 0 1 0 -6.90 0zM468.55 660.9a3.45 3.45 0 1 0 6.90 0a3.45 3.45 0 1 0 -6.90 0zM470.35 660.9a3.45 3.45 0 1 0 6.90 0a3.45 3.45 0 1 0 -6.90 0zM472.15 660.9a3.45 3.45 0 1 0 6.90 0a3.45 3.45 0 1 0 -6.90 0zM473.95 660.9a3.45 3.45 0 1 0 6.90 0a3.45 3.45 0 1 0 -6.90 0zM475.75 660.9a3.45 3.45 0 1 0 6.90 0a3.45 3.45 0 1 0 -6.90 0zM477.55 660.9a3.45 3.45 0 1 0 6.90 0a3.45 3.45 0 1 0 -6.90 0zM479.35 660.9a3.45 3.45 0 1 0 6.90 0a3.45 3.45 0 1 0 -6.90 0zM450.55 662.7a3.45 3.45 0 1 0 6.90 0a3.45 3.45 0 1 0 -6.90 0zM452.35 662.7a3.45 3.45 0 1 0 6.90 0a3.45 3.45 0 1 0 -6.90 0zM454.15 662.7a3.45 3.45 0 1 0 6.90 0a3.45 3.45 0 1 0 -6.90 0zM468.55 662.7a3.45 3.45 0 1 0 6.90 0a3.45 3.45 0 1 0 -6.90 0zM470.35 662.7a3.45 3.45 0 1 0 6.90 0a3.45 3.45 0 1 0 -6.90 0zM472.15 662.7a3.45 3.45 0 1 0 6.90 0a3.45 3.45 0 1 0 -6.90 0zM473.95 662.7a3.45 3.45 0 1 0 6.90 0a3.45 3.45 0 1 0 -6.90 0zM475.75 662.7a3.45 3.45 0 1 0 6.90 0a3.45 3.45 0 1 0 -6.90 0zM452.35 664.5a3.45 3.45 0 1 0 6.90 0a3.45 3.45 0 1 0 -6.90 0zM454.15 664.5a3.45 3.45 0 1 0 6.90 0a3.45 3.45 0 1 0 -6.90 0zM455.95 664.5a3.45 3.45 0 1 0 6.90 0a3.45 3.45 0 1 0 -6.90 0zM468.55 664.5a3.45 3.45 0 1 0 6.90 0a3.45 3.45 0 1 0 -6.90 0zM470.35 664.5a3.45 3.45 0 1 0 6.90 0a3.45 3.45 0 1 0 -6.90 0zM472.15 664.5a3.45 3.45 0 1 0 6.90 0a3.45 3.45 0 1 0 -6.90 0zM473.95 664.5a3.45 3.45 0 1 0 6.90 0a3.45 3.45 0 1 0 -6.90 0zM452.35 666.3a3.45 3.45 0 1 0 6.90 0a3.45 3.45 0 1 0 -6.90 0zM454.15 666.3a3.45 3.45 0 1 0 6.90 0a3.45 3.45 0 1 0 -6.90 0zM455.95 666.3a3.45 3.45 0 1 0 6.90 0a3.45 3.45 0 1 0 -6.90 0zM457.75 666.3a3.45 3.45 0 1 0 6.90 0a3.45 3.45 0 1 0 -6.90 0zM466.75 666.3a3.45 3.45 0 1 0 6.90 0a3.45 3.45 0 1 0 -6.90 0zM468.55 666.3a3.45 3.45 0 1 0 6.90 0a3.45 3.45 0 1 0 -6.90 0zM470.35 666.3a3.45 3.45 0 1 0 6.90 0a3.45 3.45 0 1 0 -6.90 0zM472.15 666.3a3.45 3.45 0 1 0 6.90 0a3.45 3.45 0 1 0 -6.90 0zM473.95 666.3a3.45 3.45 0 1 0 6.90 0a3.45 3.45 0 1 0 -6.90 0zM452.35 668.1a3.45 3.45 0 1 0 6.90 0a3.45 3.45 0 1 0 -6.90 0zM454.15 668.1a3.45 3.45 0 1 0 6.90 0a3.45 3.45 0 1 0 -6.90 0zM455.95 668.1a3.45 3.45 0 1 0 6.90 0a3.45 3.45 0 1 0 -6.90 0zM457.75 668.1a3.45 3.45 0 1 0 6.90 0a3.45 3.45 0 1 0 -6.90 0zM459.55 668.1a3.45 3.45 0 1 0 6.90 0a3.45 3.45 0 1 0 -6.90 0zM464.95 668.1a3.45 3.45 0 1 0 6.90 0a3.45 3.45 0 1 0 -6.90 0zM466.75 668.1a3.45 3.45 0 1 0 6.90 0a3.45 3.45 0 1 0 -6.90 0zM468.55 668.1a3.45 3.45 0 1 0 6.90 0a3.45 3.45 0 1 0 -6.90 0zM470.35 668.1a3.45 3.45 0 1 0 6.90 0a3.45 3.45 0 1 0 -6.90 0zM472.15 668.1a3.45 3.45 0 1 0 6.90 0a3.45 3.45 0 1 0 -6.90 0zM473.95 668.1a3.45 3.45 0 1 0 6.90 0a3.45 3.45 0 1 0 -6.90 0zM452.35 669.9a3.45 3.45 0 1 0 6.90 0a3.45 3.45 0 1 0 -6.90 0zM454.15 669.9a3.45 3.45 0 1 0 6.90 0a3.45 3.45 0 1 0 -6.90 0zM455.95 669.9a3.45 3.45 0 1 0 6.90 0a3.45 3.45 0 1 0 -6.90 0zM457.75 669.9a3.45 3.45 0 1 0 6.90 0a3.45 3.45 0 1 0 -6.90 0zM459.55 669.9a3.45 3.45 0 1 0 6.90 0a3.45 3.45 0 1 0 -6.90 0zM461.35 669.9a3.45 3.45 0 1 0 6.90 0a3.45 3.45 0 1 0 -6.90 0zM463.15 669.9a3.45 3.45 0 1 0 6.90 0a3.45 3.45 0 1 0 -6.90 0zM464.95 669.9a3.45 3.45 0 1 0 6.90 0a3.45 3.45 0 1 0 -6.90 0zM466.75 669.9a3.45 3.45 0 1 0 6.90 0a3.45 3.45 0 1 0 -6.90 0zM468.55 669.9a3.45 3.45 0 1 0 6.90 0a3.45 3.45 0 1 0 -6.90 0zM470.35 669.9a3.45 3.45 0 1 0 6.90 0a3.45 3.45 0 1 0 -6.90 0zM472.15 669.9a3.45 3.45 0 1 0 6.90 0a3.45 3.45 0 1 0 -6.90 0zM473.95 669.9a3.45 3.45 0 1 0 6.90 0a3.45 3.45 0 1 0 -6.90 0zM459.55 671.7a3.45 3.45 0 1 0 6.90 0a3.45 3.45 0 1 0 -6.90 0zM461.35 671.7a3.45 3.45 0 1 0 6.90 0a3.45 3.45 0 1 0 -6.90 0zM463.15 671.7a3.45 3.45 0 1 0 6.90 0a3.45 3.45 0 1 0 -6.90 0zM464.95 671.7a3.45 3.45 0 1 0 6.90 0a3.45 3.45 0 1 0 -6.90 0zM466.75 671.7a3.45 3.45 0 1 0 6.90 0a3.45 3.45 0 1 0 -6.90 0zM468.55 671.7a3.45 3.45 0 1 0 6.90 0a3.45 3.45 0 1 0 -6.90 0zM472.15 671.7a3.45 3.45 0 1 0 6.90 0a3.45 3.45 0 1 0 -6.90 0zM473.95 671.7a3.45 3.45 0 1 0 6.90 0a3.45 3.45 0 1 0 -6.90 0zM461.35 673.5a3.45 3.45 0 1 0 6.90 0a3.45 3.45 0 1 0 -6.90 0zM463.15 673.5a3.45 3.45 0 1 0 6.90 0a3.45 3.45 0 1 0 -6.90 0zM464.95 673.5a3.45 3.45 0 1 0 6.90 0a3.45 3.45 0 1 0 -6.90 0zM466.75 673.5a3.45 3.45 0 1 0 6.90 0a3.45 3.45 0 1 0 -6.90 0zM468.55 673.5a3.45 3.45 0 1 0 6.90 0a3.45 3.45 0 1 0 -6.90 0zM473.95 673.5a3.45 3.45 0 1 0 6.90 0a3.45 3.45 0 1 0 -6.90 0zM463.15 675.3a3.45 3.45 0 1 0 6.90 0a3.45 3.45 0 1 0 -6.90 0zM464.95 675.3a3.45 3.45 0 1 0 6.90 0a3.45 3.45 0 1 0 -6.90 0zM466.75 675.3a3.45 3.45 0 1 0 6.90 0a3.45 3.45 0 1 0 -6.90 0zM464.95 677.1a3.45 3.45 0 1 0 6.90 0a3.45 3.45 0 1 0 -6.90 0zM466.75 677.1a3.45 3.45 0 1 0 6.90 0a3.45 3.45 0 1 0 -6.90 0zM435.95 646.0a3.45 3.45 0 1 0 6.90 0a3.45 3.45 0 1 0 -6.90 0zM418.85 658.5a3.45 3.45 0 1 0 6.90 0a3.45 3.45 0 1 0 -6.90 0zM427.45 659.4a3.45 3.45 0 1 0 6.90 0a3.45 3.45 0 1 0 -6.90 0zM447.15 647.3a3.45 3.45 0 1 0 6.90 0a3.45 3.45 0 1 0 -6.90 0zM468.15 626.3a3.45 3.45 0 1 0 6.90 0a3.45 3.45 0 1 0 -6.90 0zM472.75 630.9a3.45 3.45 0 1 0 6.90 0a3.45 3.45 0 1 0 -6.90 0zM481.95 627.0a3.45 3.45 0 1 0 6.90 0a3.45 3.45 0 1 0 -6.90 0zM455.65 634.9a3.45 3.45 0 1 0 6.90 0a3.45 3.45 0 1 0 -6.90 0zM464.85 682.2a3.45 3.45 0 1 0 6.90 0a3.45 3.45 0 1 0 -6.90 0zM477.35 678.2a3.45 3.45 0 1 0 6.90 0a3.45 3.45 0 1 0 -6.90 0zM509.05 638.5a3.45 3.45 0 1 0 6.90 0a3.45 3.45 0 1 0 -6.90 0zM500.05 641.0a3.45 3.45 0 1 0 6.90 0a3.45 3.45 0 1 0 -6.90 0zM498.05 648.5a3.45 3.45 0 1 0 6.90 0a3.45 3.45 0 1 0 -6.90 0z"/>
</svg></body></html>
